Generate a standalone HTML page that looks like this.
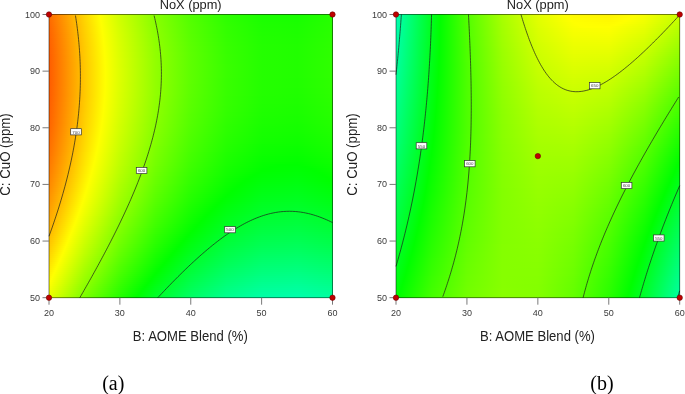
<!DOCTYPE html>
<html><head><meta charset="utf-8"><title>NoX contour plots</title>
<style>
html,body{margin:0;padding:0;background:#fff}
body{width:685px;height:394px;overflow:hidden;position:relative}
svg{position:absolute;left:0;top:0;display:block}
.t{font-family:"Liberation Sans",sans-serif;font-size:9px;fill:#3a3a3a}
.a{font-family:"Liberation Sans",sans-serif;font-size:14px;fill:#222}
.l{font-family:"Liberation Sans",sans-serif;font-size:4.4px;fill:#444}
.s{font-family:"Liberation Serif",serif;font-size:20px;fill:#000}
</style></head><body>
<svg width="685" height="394" viewBox="0 0 685 394">
<defs>
<linearGradient id="a0"><stop offset="0" stop-color="#ff6b00"/><stop offset="0.125" stop-color="#ffd500"/><stop offset="0.1788" stop-color="#ff0"/><stop offset="0.25" stop-color="#ceff00"/><stop offset="0.375" stop-color="#85ff00"/><stop offset="0.5" stop-color="#51ff00"/><stop offset="0.625" stop-color="#2dff00"/><stop offset="0.75" stop-color="#1aff00"/><stop offset="0.875" stop-color="#17ff00"/><stop offset="1" stop-color="#25ff00"/></linearGradient>
<linearGradient id="a1"><stop offset="0" stop-color="#ff6a00"/><stop offset="0.125" stop-color="#ffd400"/><stop offset="0.1801" stop-color="#ff0"/><stop offset="0.25" stop-color="#cfff00"/><stop offset="0.375" stop-color="#86ff00"/><stop offset="0.5" stop-color="#52ff00"/><stop offset="0.625" stop-color="#2eff00"/><stop offset="0.75" stop-color="#1bff00"/><stop offset="0.875" stop-color="#18ff00"/><stop offset="1" stop-color="#26ff00"/></linearGradient>
<linearGradient id="a2"><stop offset="0" stop-color="#ff6900"/><stop offset="0.125" stop-color="#ffd400"/><stop offset="0.1813" stop-color="#ff0"/><stop offset="0.25" stop-color="#d0ff00"/><stop offset="0.375" stop-color="#87ff00"/><stop offset="0.5" stop-color="#53ff00"/><stop offset="0.625" stop-color="#2fff00"/><stop offset="0.75" stop-color="#1bff00"/><stop offset="0.875" stop-color="#19ff00"/><stop offset="1" stop-color="#26ff00"/></linearGradient>
<linearGradient id="a3"><stop offset="0" stop-color="#ff6800"/><stop offset="0.125" stop-color="#ffd300"/><stop offset="0.1825" stop-color="#ff0"/><stop offset="0.25" stop-color="#d0ff00"/><stop offset="0.375" stop-color="#8f0"/><stop offset="0.5" stop-color="#53ff00"/><stop offset="0.625" stop-color="#2fff00"/><stop offset="0.75" stop-color="#1cff00"/><stop offset="0.875" stop-color="#19ff00"/><stop offset="1" stop-color="#27ff00"/></linearGradient>
<linearGradient id="a4"><stop offset="0" stop-color="#ff6700"/><stop offset="0.125" stop-color="#ffd200"/><stop offset="0.1836" stop-color="#ff0"/><stop offset="0.25" stop-color="#d1ff00"/><stop offset="0.375" stop-color="#89ff00"/><stop offset="0.5" stop-color="#54ff00"/><stop offset="0.625" stop-color="#30ff00"/><stop offset="0.75" stop-color="#1dff00"/><stop offset="0.875" stop-color="#1aff00"/><stop offset="1" stop-color="#28ff00"/></linearGradient>
<linearGradient id="a5"><stop offset="0" stop-color="#f60"/><stop offset="0.125" stop-color="#ffd100"/><stop offset="0.1847" stop-color="#ff0"/><stop offset="0.25" stop-color="#d2ff00"/><stop offset="0.375" stop-color="#89ff00"/><stop offset="0.5" stop-color="#5f0"/><stop offset="0.625" stop-color="#31ff00"/><stop offset="0.75" stop-color="#1eff00"/><stop offset="0.875" stop-color="#1bff00"/><stop offset="1" stop-color="#28ff00"/></linearGradient>
<linearGradient id="a6"><stop offset="0" stop-color="#ff6500"/><stop offset="0.125" stop-color="#ffd000"/><stop offset="0.1858" stop-color="#ff0"/><stop offset="0.25" stop-color="#d3ff00"/><stop offset="0.375" stop-color="#8aff00"/><stop offset="0.5" stop-color="#5f0"/><stop offset="0.625" stop-color="#32ff00"/><stop offset="0.75" stop-color="#1eff00"/><stop offset="0.875" stop-color="#1bff00"/><stop offset="1" stop-color="#29ff00"/></linearGradient>
<linearGradient id="a7"><stop offset="0" stop-color="#ff6400"/><stop offset="0.125" stop-color="#ffd000"/><stop offset="0.1868" stop-color="#ff0"/><stop offset="0.25" stop-color="#d4ff00"/><stop offset="0.375" stop-color="#8bff00"/><stop offset="0.5" stop-color="#56ff00"/><stop offset="0.625" stop-color="#32ff00"/><stop offset="0.75" stop-color="#1fff00"/><stop offset="0.875" stop-color="#1cff00"/><stop offset="1" stop-color="#29ff00"/></linearGradient>
<linearGradient id="a8"><stop offset="0" stop-color="#ff6400"/><stop offset="0.125" stop-color="#ffcf00"/><stop offset="0.1877" stop-color="#ff0"/><stop offset="0.25" stop-color="#d4ff00"/><stop offset="0.375" stop-color="#8bff00"/><stop offset="0.5" stop-color="#57ff00"/><stop offset="0.625" stop-color="#3f0"/><stop offset="0.75" stop-color="#1fff00"/><stop offset="0.875" stop-color="#1dff00"/><stop offset="1" stop-color="#2aff00"/></linearGradient>
<linearGradient id="a9"><stop offset="0" stop-color="#ff6300"/><stop offset="0.125" stop-color="#ffce00"/><stop offset="0.1887" stop-color="#ff0"/><stop offset="0.25" stop-color="#d5ff00"/><stop offset="0.375" stop-color="#8cff00"/><stop offset="0.5" stop-color="#57ff00"/><stop offset="0.625" stop-color="#3f0"/><stop offset="0.75" stop-color="#20ff00"/><stop offset="0.875" stop-color="#1dff00"/><stop offset="1" stop-color="#2bff00"/></linearGradient>
<linearGradient id="a10"><stop offset="0" stop-color="#ff6200"/><stop offset="0.125" stop-color="#ffcd00"/><stop offset="0.1896" stop-color="#ff0"/><stop offset="0.25" stop-color="#d6ff00"/><stop offset="0.375" stop-color="#8dff00"/><stop offset="0.5" stop-color="#58ff00"/><stop offset="0.625" stop-color="#34ff00"/><stop offset="0.75" stop-color="#20ff00"/><stop offset="0.875" stop-color="#1eff00"/><stop offset="1" stop-color="#2bff00"/></linearGradient>
<linearGradient id="a11"><stop offset="0" stop-color="#ff6200"/><stop offset="0.125" stop-color="#ffcd00"/><stop offset="0.1904" stop-color="#ff0"/><stop offset="0.25" stop-color="#d6ff00"/><stop offset="0.375" stop-color="#8dff00"/><stop offset="0.5" stop-color="#58ff00"/><stop offset="0.625" stop-color="#34ff00"/><stop offset="0.75" stop-color="#21ff00"/><stop offset="0.875" stop-color="#1eff00"/><stop offset="1" stop-color="#2bff00"/></linearGradient>
<linearGradient id="a12"><stop offset="0" stop-color="#ff6100"/><stop offset="0.125" stop-color="#fc0"/><stop offset="0.1912" stop-color="#ff0"/><stop offset="0.25" stop-color="#d7ff00"/><stop offset="0.375" stop-color="#8eff00"/><stop offset="0.5" stop-color="#59ff00"/><stop offset="0.625" stop-color="#35ff00"/><stop offset="0.75" stop-color="#21ff00"/><stop offset="0.875" stop-color="#1fff00"/><stop offset="1" stop-color="#2cff00"/></linearGradient>
<linearGradient id="a13"><stop offset="0" stop-color="#ff6000"/><stop offset="0.125" stop-color="#fc0"/><stop offset="0.192" stop-color="#ff0"/><stop offset="0.25" stop-color="#d7ff00"/><stop offset="0.375" stop-color="#8eff00"/><stop offset="0.5" stop-color="#59ff00"/><stop offset="0.625" stop-color="#35ff00"/><stop offset="0.75" stop-color="#2f0"/><stop offset="0.875" stop-color="#1fff00"/><stop offset="1" stop-color="#2cff00"/></linearGradient>
<linearGradient id="a14"><stop offset="0" stop-color="#ff6000"/><stop offset="0.125" stop-color="#ffcb00"/><stop offset="0.1927" stop-color="#ff0"/><stop offset="0.25" stop-color="#d8ff00"/><stop offset="0.375" stop-color="#8fff00"/><stop offset="0.5" stop-color="#5aff00"/><stop offset="0.625" stop-color="#36ff00"/><stop offset="0.75" stop-color="#2f0"/><stop offset="0.875" stop-color="#1fff00"/><stop offset="1" stop-color="#2dff00"/></linearGradient>
<linearGradient id="a15"><stop offset="0" stop-color="#ff5f00"/><stop offset="0.125" stop-color="#ffcb00"/><stop offset="0.1934" stop-color="#ff0"/><stop offset="0.25" stop-color="#d8ff00"/><stop offset="0.375" stop-color="#8fff00"/><stop offset="0.5" stop-color="#5aff00"/><stop offset="0.625" stop-color="#36ff00"/><stop offset="0.75" stop-color="#23ff00"/><stop offset="0.875" stop-color="#20ff00"/><stop offset="1" stop-color="#2dff00"/></linearGradient>
<linearGradient id="a16"><stop offset="0" stop-color="#ff5f00"/><stop offset="0.125" stop-color="#ffca00"/><stop offset="0.194" stop-color="#ff0"/><stop offset="0.25" stop-color="#d9ff00"/><stop offset="0.375" stop-color="#90ff00"/><stop offset="0.5" stop-color="#5bff00"/><stop offset="0.625" stop-color="#37ff00"/><stop offset="0.75" stop-color="#23ff00"/><stop offset="0.875" stop-color="#20ff00"/><stop offset="1" stop-color="#2dff00"/></linearGradient>
<linearGradient id="a17"><stop offset="0" stop-color="#ff5e00"/><stop offset="0.125" stop-color="#ffca00"/><stop offset="0.1946" stop-color="#ff0"/><stop offset="0.25" stop-color="#d9ff00"/><stop offset="0.375" stop-color="#90ff00"/><stop offset="0.5" stop-color="#5bff00"/><stop offset="0.625" stop-color="#37ff00"/><stop offset="0.75" stop-color="#23ff00"/><stop offset="0.875" stop-color="#20ff00"/><stop offset="1" stop-color="#2eff00"/></linearGradient>
<linearGradient id="a18"><stop offset="0" stop-color="#ff5e00"/><stop offset="0.125" stop-color="#ffc900"/><stop offset="0.1951" stop-color="#ff0"/><stop offset="0.25" stop-color="#d9ff00"/><stop offset="0.375" stop-color="#90ff00"/><stop offset="0.5" stop-color="#5bff00"/><stop offset="0.625" stop-color="#37ff00"/><stop offset="0.75" stop-color="#24ff00"/><stop offset="0.875" stop-color="#21ff00"/><stop offset="1" stop-color="#2eff00"/></linearGradient>
<linearGradient id="a19"><stop offset="0" stop-color="#ff5e00"/><stop offset="0.125" stop-color="#ffc900"/><stop offset="0.1956" stop-color="#ff0"/><stop offset="0.25" stop-color="#daff00"/><stop offset="0.375" stop-color="#91ff00"/><stop offset="0.5" stop-color="#5cff00"/><stop offset="0.625" stop-color="#37ff00"/><stop offset="0.75" stop-color="#24ff00"/><stop offset="0.875" stop-color="#21ff00"/><stop offset="1" stop-color="#2eff00"/></linearGradient>
<linearGradient id="a20"><stop offset="0" stop-color="#ff5d00"/><stop offset="0.125" stop-color="#ffc900"/><stop offset="0.1961" stop-color="#ff0"/><stop offset="0.25" stop-color="#daff00"/><stop offset="0.375" stop-color="#91ff00"/><stop offset="0.5" stop-color="#5cff00"/><stop offset="0.625" stop-color="#38ff00"/><stop offset="0.75" stop-color="#24ff00"/><stop offset="0.875" stop-color="#21ff00"/><stop offset="1" stop-color="#2eff00"/></linearGradient>
<linearGradient id="a21"><stop offset="0" stop-color="#ff5d00"/><stop offset="0.125" stop-color="#ffc800"/><stop offset="0.1965" stop-color="#ff0"/><stop offset="0.25" stop-color="#daff00"/><stop offset="0.375" stop-color="#91ff00"/><stop offset="0.5" stop-color="#5cff00"/><stop offset="0.625" stop-color="#38ff00"/><stop offset="0.75" stop-color="#24ff00"/><stop offset="0.875" stop-color="#21ff00"/><stop offset="1" stop-color="#2eff00"/></linearGradient>
<linearGradient id="a22"><stop offset="0" stop-color="#ff5d00"/><stop offset="0.125" stop-color="#ffc800"/><stop offset="0.1969" stop-color="#ff0"/><stop offset="0.25" stop-color="#dbff00"/><stop offset="0.375" stop-color="#92ff00"/><stop offset="0.5" stop-color="#5cff00"/><stop offset="0.625" stop-color="#38ff00"/><stop offset="0.75" stop-color="#24ff00"/><stop offset="0.875" stop-color="#21ff00"/><stop offset="1" stop-color="#2fff00"/></linearGradient>
<linearGradient id="a23"><stop offset="0" stop-color="#ff5c00"/><stop offset="0.125" stop-color="#ffc800"/><stop offset="0.1972" stop-color="#ff0"/><stop offset="0.25" stop-color="#dbff00"/><stop offset="0.375" stop-color="#92ff00"/><stop offset="0.5" stop-color="#5dff00"/><stop offset="0.625" stop-color="#38ff00"/><stop offset="0.75" stop-color="#25ff00"/><stop offset="0.875" stop-color="#2f0"/><stop offset="1" stop-color="#2fff00"/></linearGradient>
<linearGradient id="a24"><stop offset="0" stop-color="#ff5c00"/><stop offset="0.125" stop-color="#ffc700"/><stop offset="0.1975" stop-color="#ff0"/><stop offset="0.25" stop-color="#dbff00"/><stop offset="0.375" stop-color="#92ff00"/><stop offset="0.5" stop-color="#5dff00"/><stop offset="0.625" stop-color="#38ff00"/><stop offset="0.75" stop-color="#25ff00"/><stop offset="0.875" stop-color="#2f0"/><stop offset="1" stop-color="#2fff00"/></linearGradient>
<linearGradient id="a25"><stop offset="0" stop-color="#ff5c00"/><stop offset="0.125" stop-color="#ffc700"/><stop offset="0.1978" stop-color="#ff0"/><stop offset="0.25" stop-color="#dbff00"/><stop offset="0.375" stop-color="#92ff00"/><stop offset="0.5" stop-color="#5dff00"/><stop offset="0.625" stop-color="#39ff00"/><stop offset="0.75" stop-color="#25ff00"/><stop offset="0.875" stop-color="#2f0"/><stop offset="1" stop-color="#2fff00"/></linearGradient>
<linearGradient id="a26"><stop offset="0" stop-color="#ff5c00"/><stop offset="0.125" stop-color="#ffc700"/><stop offset="0.198" stop-color="#ff0"/><stop offset="0.25" stop-color="#dbff00"/><stop offset="0.375" stop-color="#92ff00"/><stop offset="0.5" stop-color="#5dff00"/><stop offset="0.625" stop-color="#39ff00"/><stop offset="0.75" stop-color="#25ff00"/><stop offset="0.875" stop-color="#2f0"/><stop offset="1" stop-color="#2fff00"/></linearGradient>
<linearGradient id="a27"><stop offset="0" stop-color="#ff5c00"/><stop offset="0.125" stop-color="#ffc700"/><stop offset="0.1982" stop-color="#ff0"/><stop offset="0.25" stop-color="#dcff00"/><stop offset="0.375" stop-color="#92ff00"/><stop offset="0.5" stop-color="#5dff00"/><stop offset="0.625" stop-color="#39ff00"/><stop offset="0.75" stop-color="#25ff00"/><stop offset="0.875" stop-color="#2f0"/><stop offset="1" stop-color="#2fff00"/></linearGradient>
<linearGradient id="a28"><stop offset="0" stop-color="#ff5b00"/><stop offset="0.125" stop-color="#ffc700"/><stop offset="0.1983" stop-color="#ff0"/><stop offset="0.25" stop-color="#dcff00"/><stop offset="0.375" stop-color="#92ff00"/><stop offset="0.5" stop-color="#5dff00"/><stop offset="0.625" stop-color="#39ff00"/><stop offset="0.75" stop-color="#25ff00"/><stop offset="0.875" stop-color="#2f0"/><stop offset="1" stop-color="#2fff00"/></linearGradient>
<linearGradient id="a29"><stop offset="0" stop-color="#ff5b00"/><stop offset="0.125" stop-color="#ffc700"/><stop offset="0.1984" stop-color="#ff0"/><stop offset="0.25" stop-color="#dcff00"/><stop offset="0.375" stop-color="#92ff00"/><stop offset="0.5" stop-color="#5dff00"/><stop offset="0.625" stop-color="#39ff00"/><stop offset="0.75" stop-color="#25ff00"/><stop offset="0.875" stop-color="#2f0"/><stop offset="1" stop-color="#2fff00"/></linearGradient>
<linearGradient id="a30"><stop offset="0" stop-color="#ff5b00"/><stop offset="0.125" stop-color="#ffc700"/><stop offset="0.1984" stop-color="#ff0"/><stop offset="0.25" stop-color="#dcff00"/><stop offset="0.375" stop-color="#92ff00"/><stop offset="0.5" stop-color="#5dff00"/><stop offset="0.625" stop-color="#39ff00"/><stop offset="0.75" stop-color="#25ff00"/><stop offset="0.875" stop-color="#2f0"/><stop offset="1" stop-color="#2fff00"/></linearGradient>
<linearGradient id="a31"><stop offset="0" stop-color="#ff5b00"/><stop offset="0.125" stop-color="#ffc700"/><stop offset="0.1984" stop-color="#ff0"/><stop offset="0.25" stop-color="#dcff00"/><stop offset="0.375" stop-color="#92ff00"/><stop offset="0.5" stop-color="#5dff00"/><stop offset="0.625" stop-color="#39ff00"/><stop offset="0.75" stop-color="#25ff00"/><stop offset="0.875" stop-color="#2f0"/><stop offset="1" stop-color="#2fff00"/></linearGradient>
<linearGradient id="a32"><stop offset="0" stop-color="#ff5b00"/><stop offset="0.125" stop-color="#ffc700"/><stop offset="0.1983" stop-color="#ff0"/><stop offset="0.25" stop-color="#dcff00"/><stop offset="0.375" stop-color="#92ff00"/><stop offset="0.5" stop-color="#5dff00"/><stop offset="0.625" stop-color="#38ff00"/><stop offset="0.75" stop-color="#25ff00"/><stop offset="0.875" stop-color="#21ff00"/><stop offset="1" stop-color="#2eff00"/></linearGradient>
<linearGradient id="a33"><stop offset="0" stop-color="#ff5b00"/><stop offset="0.125" stop-color="#ffc700"/><stop offset="0.1982" stop-color="#ff0"/><stop offset="0.25" stop-color="#dcff00"/><stop offset="0.375" stop-color="#92ff00"/><stop offset="0.5" stop-color="#5dff00"/><stop offset="0.625" stop-color="#38ff00"/><stop offset="0.75" stop-color="#24ff00"/><stop offset="0.875" stop-color="#21ff00"/><stop offset="1" stop-color="#2eff00"/></linearGradient>
<linearGradient id="a34"><stop offset="0" stop-color="#ff5b00"/><stop offset="0.125" stop-color="#ffc700"/><stop offset="0.1981" stop-color="#ff0"/><stop offset="0.25" stop-color="#dbff00"/><stop offset="0.375" stop-color="#92ff00"/><stop offset="0.5" stop-color="#5dff00"/><stop offset="0.625" stop-color="#38ff00"/><stop offset="0.75" stop-color="#24ff00"/><stop offset="0.875" stop-color="#21ff00"/><stop offset="1" stop-color="#2eff00"/></linearGradient>
<linearGradient id="a35"><stop offset="0" stop-color="#ff5b00"/><stop offset="0.125" stop-color="#ffc700"/><stop offset="0.1979" stop-color="#ff0"/><stop offset="0.25" stop-color="#dbff00"/><stop offset="0.375" stop-color="#92ff00"/><stop offset="0.5" stop-color="#5cff00"/><stop offset="0.625" stop-color="#38ff00"/><stop offset="0.75" stop-color="#24ff00"/><stop offset="0.875" stop-color="#21ff00"/><stop offset="1" stop-color="#2eff00"/></linearGradient>
<linearGradient id="a36"><stop offset="0" stop-color="#ff5c00"/><stop offset="0.125" stop-color="#ffc700"/><stop offset="0.1977" stop-color="#ff0"/><stop offset="0.25" stop-color="#dbff00"/><stop offset="0.375" stop-color="#92ff00"/><stop offset="0.5" stop-color="#5cff00"/><stop offset="0.625" stop-color="#38ff00"/><stop offset="0.75" stop-color="#24ff00"/><stop offset="0.875" stop-color="#21ff00"/><stop offset="1" stop-color="#2eff00"/></linearGradient>
<linearGradient id="a37"><stop offset="0" stop-color="#ff5c00"/><stop offset="0.125" stop-color="#ffc700"/><stop offset="0.1974" stop-color="#ff0"/><stop offset="0.25" stop-color="#dbff00"/><stop offset="0.375" stop-color="#92ff00"/><stop offset="0.5" stop-color="#5cff00"/><stop offset="0.625" stop-color="#38ff00"/><stop offset="0.75" stop-color="#24ff00"/><stop offset="0.875" stop-color="#20ff00"/><stop offset="1" stop-color="#2dff00"/></linearGradient>
<linearGradient id="a38"><stop offset="0" stop-color="#ff5c00"/><stop offset="0.125" stop-color="#ffc800"/><stop offset="0.1971" stop-color="#ff0"/><stop offset="0.25" stop-color="#dbff00"/><stop offset="0.375" stop-color="#91ff00"/><stop offset="0.5" stop-color="#5cff00"/><stop offset="0.625" stop-color="#37ff00"/><stop offset="0.75" stop-color="#23ff00"/><stop offset="0.875" stop-color="#20ff00"/><stop offset="1" stop-color="#2dff00"/></linearGradient>
<linearGradient id="a39"><stop offset="0" stop-color="#ff5c00"/><stop offset="0.125" stop-color="#ffc800"/><stop offset="0.1968" stop-color="#ff0"/><stop offset="0.25" stop-color="#daff00"/><stop offset="0.375" stop-color="#91ff00"/><stop offset="0.5" stop-color="#5cff00"/><stop offset="0.625" stop-color="#37ff00"/><stop offset="0.75" stop-color="#23ff00"/><stop offset="0.875" stop-color="#20ff00"/><stop offset="1" stop-color="#2dff00"/></linearGradient>
<linearGradient id="a40"><stop offset="0" stop-color="#ff5c00"/><stop offset="0.125" stop-color="#ffc800"/><stop offset="0.1964" stop-color="#ff0"/><stop offset="0.25" stop-color="#daff00"/><stop offset="0.375" stop-color="#91ff00"/><stop offset="0.5" stop-color="#5bff00"/><stop offset="0.625" stop-color="#37ff00"/><stop offset="0.75" stop-color="#23ff00"/><stop offset="0.875" stop-color="#1fff00"/><stop offset="1" stop-color="#2cff00"/></linearGradient>
<linearGradient id="a41"><stop offset="0" stop-color="#ff5d00"/><stop offset="0.125" stop-color="#ffc800"/><stop offset="0.196" stop-color="#ff0"/><stop offset="0.25" stop-color="#daff00"/><stop offset="0.375" stop-color="#90ff00"/><stop offset="0.5" stop-color="#5bff00"/><stop offset="0.625" stop-color="#36ff00"/><stop offset="0.75" stop-color="#2f0"/><stop offset="0.875" stop-color="#1fff00"/><stop offset="1" stop-color="#2cff00"/></linearGradient>
<linearGradient id="a42"><stop offset="0" stop-color="#ff5d00"/><stop offset="0.125" stop-color="#ffc900"/><stop offset="0.1955" stop-color="#ff0"/><stop offset="0.25" stop-color="#d9ff00"/><stop offset="0.375" stop-color="#90ff00"/><stop offset="0.5" stop-color="#5aff00"/><stop offset="0.625" stop-color="#36ff00"/><stop offset="0.75" stop-color="#2f0"/><stop offset="0.875" stop-color="#1eff00"/><stop offset="1" stop-color="#2bff00"/></linearGradient>
<linearGradient id="a43"><stop offset="0" stop-color="#ff5d00"/><stop offset="0.125" stop-color="#ffc900"/><stop offset="0.195" stop-color="#ff0"/><stop offset="0.25" stop-color="#d9ff00"/><stop offset="0.375" stop-color="#90ff00"/><stop offset="0.5" stop-color="#5aff00"/><stop offset="0.625" stop-color="#35ff00"/><stop offset="0.75" stop-color="#21ff00"/><stop offset="0.875" stop-color="#1eff00"/><stop offset="1" stop-color="#2bff00"/></linearGradient>
<linearGradient id="a44"><stop offset="0" stop-color="#ff5e00"/><stop offset="0.125" stop-color="#ffca00"/><stop offset="0.1944" stop-color="#ff0"/><stop offset="0.25" stop-color="#d9ff00"/><stop offset="0.375" stop-color="#8fff00"/><stop offset="0.5" stop-color="#5aff00"/><stop offset="0.625" stop-color="#35ff00"/><stop offset="0.75" stop-color="#21ff00"/><stop offset="0.875" stop-color="#1eff00"/><stop offset="1" stop-color="#2aff00"/></linearGradient>
<linearGradient id="a45"><stop offset="0" stop-color="#ff5e00"/><stop offset="0.125" stop-color="#ffca00"/><stop offset="0.1938" stop-color="#ff0"/><stop offset="0.25" stop-color="#d8ff00"/><stop offset="0.375" stop-color="#8fff00"/><stop offset="0.5" stop-color="#59ff00"/><stop offset="0.625" stop-color="#35ff00"/><stop offset="0.75" stop-color="#20ff00"/><stop offset="0.875" stop-color="#1dff00"/><stop offset="1" stop-color="#2aff00"/></linearGradient>
<linearGradient id="a46"><stop offset="0" stop-color="#ff5f00"/><stop offset="0.125" stop-color="#ffca00"/><stop offset="0.1931" stop-color="#ff0"/><stop offset="0.25" stop-color="#d8ff00"/><stop offset="0.375" stop-color="#8eff00"/><stop offset="0.5" stop-color="#59ff00"/><stop offset="0.625" stop-color="#34ff00"/><stop offset="0.75" stop-color="#20ff00"/><stop offset="0.875" stop-color="#1cff00"/><stop offset="1" stop-color="#29ff00"/></linearGradient>
<linearGradient id="a47"><stop offset="0" stop-color="#ff5f00"/><stop offset="0.125" stop-color="#ffcb00"/><stop offset="0.1925" stop-color="#ff0"/><stop offset="0.25" stop-color="#d7ff00"/><stop offset="0.375" stop-color="#8eff00"/><stop offset="0.5" stop-color="#58ff00"/><stop offset="0.625" stop-color="#34ff00"/><stop offset="0.75" stop-color="#1fff00"/><stop offset="0.875" stop-color="#1cff00"/><stop offset="1" stop-color="#29ff00"/></linearGradient>
<linearGradient id="a48"><stop offset="0" stop-color="#ff6000"/><stop offset="0.125" stop-color="#ffcb00"/><stop offset="0.1917" stop-color="#ff0"/><stop offset="0.25" stop-color="#d7ff00"/><stop offset="0.375" stop-color="#8dff00"/><stop offset="0.5" stop-color="#58ff00"/><stop offset="0.625" stop-color="#3f0"/><stop offset="0.75" stop-color="#1fff00"/><stop offset="0.875" stop-color="#1bff00"/><stop offset="1" stop-color="#28ff00"/></linearGradient>
<linearGradient id="a49"><stop offset="0" stop-color="#ff6000"/><stop offset="0.125" stop-color="#fc0"/><stop offset="0.191" stop-color="#ff0"/><stop offset="0.25" stop-color="#d6ff00"/><stop offset="0.375" stop-color="#8dff00"/><stop offset="0.5" stop-color="#57ff00"/><stop offset="0.625" stop-color="#32ff00"/><stop offset="0.75" stop-color="#1eff00"/><stop offset="0.875" stop-color="#1bff00"/><stop offset="1" stop-color="#27ff00"/></linearGradient>
<linearGradient id="a50"><stop offset="0" stop-color="#ff6100"/><stop offset="0.125" stop-color="#ffcd00"/><stop offset="0.1901" stop-color="#ff0"/><stop offset="0.25" stop-color="#d6ff00"/><stop offset="0.375" stop-color="#8cff00"/><stop offset="0.5" stop-color="#56ff00"/><stop offset="0.625" stop-color="#32ff00"/><stop offset="0.75" stop-color="#1eff00"/><stop offset="0.875" stop-color="#1aff00"/><stop offset="1" stop-color="#27ff00"/></linearGradient>
<linearGradient id="a51"><stop offset="0" stop-color="#ff6100"/><stop offset="0.125" stop-color="#ffcd00"/><stop offset="0.1893" stop-color="#ff0"/><stop offset="0.25" stop-color="#d5ff00"/><stop offset="0.375" stop-color="#8bff00"/><stop offset="0.5" stop-color="#56ff00"/><stop offset="0.625" stop-color="#31ff00"/><stop offset="0.75" stop-color="#1dff00"/><stop offset="0.875" stop-color="#19ff00"/><stop offset="1" stop-color="#26ff00"/></linearGradient>
<linearGradient id="a52"><stop offset="0" stop-color="#ff6200"/><stop offset="0.125" stop-color="#ffce00"/><stop offset="0.1884" stop-color="#ff0"/><stop offset="0.25" stop-color="#d4ff00"/><stop offset="0.375" stop-color="#8bff00"/><stop offset="0.5" stop-color="#5f0"/><stop offset="0.625" stop-color="#30ff00"/><stop offset="0.75" stop-color="#1cff00"/><stop offset="0.875" stop-color="#19ff00"/><stop offset="1" stop-color="#25ff00"/></linearGradient>
<linearGradient id="a53"><stop offset="0" stop-color="#ff6300"/><stop offset="0.125" stop-color="#ffcf00"/><stop offset="0.1875" stop-color="#ff0"/><stop offset="0.25" stop-color="#d4ff00"/><stop offset="0.375" stop-color="#8aff00"/><stop offset="0.5" stop-color="#54ff00"/><stop offset="0.625" stop-color="#30ff00"/><stop offset="0.75" stop-color="#1bff00"/><stop offset="0.875" stop-color="#18ff00"/><stop offset="1" stop-color="#24ff00"/></linearGradient>
<linearGradient id="a54"><stop offset="0" stop-color="#ff6300"/><stop offset="0.125" stop-color="#ffcf00"/><stop offset="0.1865" stop-color="#ff0"/><stop offset="0.25" stop-color="#d3ff00"/><stop offset="0.375" stop-color="#89ff00"/><stop offset="0.5" stop-color="#54ff00"/><stop offset="0.625" stop-color="#2fff00"/><stop offset="0.75" stop-color="#1bff00"/><stop offset="0.875" stop-color="#17ff00"/><stop offset="1" stop-color="#24ff00"/></linearGradient>
<linearGradient id="a55"><stop offset="0" stop-color="#ff6400"/><stop offset="0.125" stop-color="#ffd000"/><stop offset="0.1855" stop-color="#ff0"/><stop offset="0.25" stop-color="#d2ff00"/><stop offset="0.375" stop-color="#8f0"/><stop offset="0.5" stop-color="#53ff00"/><stop offset="0.625" stop-color="#2eff00"/><stop offset="0.75" stop-color="#1aff00"/><stop offset="0.875" stop-color="#16ff00"/><stop offset="1" stop-color="#23ff00"/></linearGradient>
<linearGradient id="a56"><stop offset="0" stop-color="#ff6500"/><stop offset="0.125" stop-color="#ffd100"/><stop offset="0.1844" stop-color="#ff0"/><stop offset="0.25" stop-color="#d1ff00"/><stop offset="0.375" stop-color="#8f0"/><stop offset="0.5" stop-color="#52ff00"/><stop offset="0.625" stop-color="#2dff00"/><stop offset="0.75" stop-color="#19ff00"/><stop offset="0.875" stop-color="#15ff00"/><stop offset="1" stop-color="#2f0"/></linearGradient>
<linearGradient id="a57"><stop offset="0" stop-color="#f60"/><stop offset="0.125" stop-color="#ffd200"/><stop offset="0.1833" stop-color="#ff0"/><stop offset="0.25" stop-color="#d1ff00"/><stop offset="0.375" stop-color="#87ff00"/><stop offset="0.5" stop-color="#51ff00"/><stop offset="0.625" stop-color="#2dff00"/><stop offset="0.75" stop-color="#18ff00"/><stop offset="0.875" stop-color="#15ff00"/><stop offset="1" stop-color="#21ff00"/></linearGradient>
<linearGradient id="a58"><stop offset="0" stop-color="#f60"/><stop offset="0.125" stop-color="#ffd200"/><stop offset="0.1822" stop-color="#ff0"/><stop offset="0.25" stop-color="#d0ff00"/><stop offset="0.375" stop-color="#86ff00"/><stop offset="0.5" stop-color="#51ff00"/><stop offset="0.625" stop-color="#2cff00"/><stop offset="0.75" stop-color="#17ff00"/><stop offset="0.875" stop-color="#14ff00"/><stop offset="1" stop-color="#20ff00"/></linearGradient>
<linearGradient id="a59"><stop offset="0" stop-color="#ff6700"/><stop offset="0.125" stop-color="#ffd300"/><stop offset="0.181" stop-color="#ff0"/><stop offset="0.25" stop-color="#cfff00"/><stop offset="0.375" stop-color="#85ff00"/><stop offset="0.5" stop-color="#50ff00"/><stop offset="0.625" stop-color="#2bff00"/><stop offset="0.75" stop-color="#16ff00"/><stop offset="0.875" stop-color="#13ff00"/><stop offset="1" stop-color="#1fff00"/></linearGradient>
<linearGradient id="a60"><stop offset="0" stop-color="#ff6800"/><stop offset="0.125" stop-color="#ffd400"/><stop offset="0.1798" stop-color="#ff0"/><stop offset="0.25" stop-color="#ceff00"/><stop offset="0.375" stop-color="#84ff00"/><stop offset="0.5" stop-color="#4fff00"/><stop offset="0.625" stop-color="#2aff00"/><stop offset="0.75" stop-color="#16ff00"/><stop offset="0.875" stop-color="#12ff00"/><stop offset="1" stop-color="#1eff00"/></linearGradient>
<linearGradient id="a61"><stop offset="0" stop-color="#ff6900"/><stop offset="0.125" stop-color="#ffd500"/><stop offset="0.1786" stop-color="#ff0"/><stop offset="0.25" stop-color="#cdff00"/><stop offset="0.375" stop-color="#83ff00"/><stop offset="0.5" stop-color="#4eff00"/><stop offset="0.625" stop-color="#29ff00"/><stop offset="0.75" stop-color="#15ff00"/><stop offset="0.875" stop-color="#1f0"/><stop offset="1" stop-color="#1dff00"/></linearGradient>
<linearGradient id="a62"><stop offset="0" stop-color="#ff6a00"/><stop offset="0.125" stop-color="#ffd600"/><stop offset="0.1773" stop-color="#ff0"/><stop offset="0.25" stop-color="#cf0"/><stop offset="0.375" stop-color="#82ff00"/><stop offset="0.5" stop-color="#4dff00"/><stop offset="0.625" stop-color="#28ff00"/><stop offset="0.75" stop-color="#14ff00"/><stop offset="0.875" stop-color="#10ff00"/><stop offset="1" stop-color="#1cff00"/></linearGradient>
<linearGradient id="a63"><stop offset="0" stop-color="#ff6b00"/><stop offset="0.125" stop-color="#ffd700"/><stop offset="0.176" stop-color="#ff0"/><stop offset="0.25" stop-color="#cbff00"/><stop offset="0.375" stop-color="#82ff00"/><stop offset="0.5" stop-color="#4cff00"/><stop offset="0.625" stop-color="#27ff00"/><stop offset="0.75" stop-color="#13ff00"/><stop offset="0.875" stop-color="#0fff00"/><stop offset="1" stop-color="#1bff00"/></linearGradient>
<linearGradient id="a64"><stop offset="0" stop-color="#ff6c00"/><stop offset="0.125" stop-color="#ffd800"/><stop offset="0.1746" stop-color="#ff0"/><stop offset="0.25" stop-color="#caff00"/><stop offset="0.375" stop-color="#81ff00"/><stop offset="0.5" stop-color="#4bff00"/><stop offset="0.625" stop-color="#26ff00"/><stop offset="0.75" stop-color="#12ff00"/><stop offset="0.875" stop-color="#0eff00"/><stop offset="1" stop-color="#1aff00"/></linearGradient>
<linearGradient id="a65"><stop offset="0" stop-color="#ff6d00"/><stop offset="0.125" stop-color="#ffd900"/><stop offset="0.1732" stop-color="#ff0"/><stop offset="0.25" stop-color="#c9ff00"/><stop offset="0.375" stop-color="#80ff00"/><stop offset="0.5" stop-color="#4aff00"/><stop offset="0.625" stop-color="#25ff00"/><stop offset="0.75" stop-color="#10ff00"/><stop offset="0.875" stop-color="#0dff00"/><stop offset="1" stop-color="#19ff00"/></linearGradient>
<linearGradient id="a66"><stop offset="0" stop-color="#ff6e00"/><stop offset="0.125" stop-color="#ffda00"/><stop offset="0.1718" stop-color="#ff0"/><stop offset="0.25" stop-color="#c8ff00"/><stop offset="0.375" stop-color="#7eff00"/><stop offset="0.5" stop-color="#49ff00"/><stop offset="0.625" stop-color="#24ff00"/><stop offset="0.75" stop-color="#0fff00"/><stop offset="0.875" stop-color="#0bff00"/><stop offset="1" stop-color="#18ff00"/></linearGradient>
<linearGradient id="a67"><stop offset="0" stop-color="#ff6f00"/><stop offset="0.125" stop-color="#ffdb00"/><stop offset="0.1703" stop-color="#ff0"/><stop offset="0.25" stop-color="#c7ff00"/><stop offset="0.375" stop-color="#7dff00"/><stop offset="0.5" stop-color="#48ff00"/><stop offset="0.625" stop-color="#23ff00"/><stop offset="0.75" stop-color="#0eff00"/><stop offset="0.875" stop-color="#0aff00"/><stop offset="1" stop-color="#17ff00"/></linearGradient>
<linearGradient id="a68"><stop offset="0" stop-color="#ff7000"/><stop offset="0.125" stop-color="#ffdc00"/><stop offset="0.1688" stop-color="#ff0"/><stop offset="0.25" stop-color="#c6ff00"/><stop offset="0.375" stop-color="#7cff00"/><stop offset="0.5" stop-color="#47ff00"/><stop offset="0.625" stop-color="#2f0"/><stop offset="0.75" stop-color="#0dff00"/><stop offset="0.875" stop-color="#09ff00"/><stop offset="1" stop-color="#16ff00"/></linearGradient>
<linearGradient id="a69"><stop offset="0" stop-color="#ff7100"/><stop offset="0.125" stop-color="#ffde00"/><stop offset="0.1672" stop-color="#ff0"/><stop offset="0.25" stop-color="#c4ff00"/><stop offset="0.375" stop-color="#7bff00"/><stop offset="0.5" stop-color="#45ff00"/><stop offset="0.625" stop-color="#20ff00"/><stop offset="0.75" stop-color="#0cff00"/><stop offset="0.875" stop-color="#08ff00"/><stop offset="1" stop-color="#14ff00"/></linearGradient>
<linearGradient id="a70"><stop offset="0" stop-color="#ff7200"/><stop offset="0.125" stop-color="#ffdf00"/><stop offset="0.1656" stop-color="#ff0"/><stop offset="0.25" stop-color="#c3ff00"/><stop offset="0.375" stop-color="#7aff00"/><stop offset="0.5" stop-color="#4f0"/><stop offset="0.625" stop-color="#1fff00"/><stop offset="0.75" stop-color="#0bff00"/><stop offset="0.875" stop-color="#07ff00"/><stop offset="1" stop-color="#13ff00"/></linearGradient>
<linearGradient id="a71"><stop offset="0" stop-color="#ff7400"/><stop offset="0.125" stop-color="#ffe000"/><stop offset="0.164" stop-color="#ff0"/><stop offset="0.25" stop-color="#c2ff00"/><stop offset="0.375" stop-color="#79ff00"/><stop offset="0.5" stop-color="#43ff00"/><stop offset="0.625" stop-color="#1eff00"/><stop offset="0.75" stop-color="#09ff00"/><stop offset="0.875" stop-color="#05ff00"/><stop offset="1" stop-color="#12ff00"/></linearGradient>
<linearGradient id="a72"><stop offset="0" stop-color="#ff7500"/><stop offset="0.125" stop-color="#ffe100"/><stop offset="0.1624" stop-color="#ff0"/><stop offset="0.25" stop-color="#c1ff00"/><stop offset="0.375" stop-color="#78ff00"/><stop offset="0.5" stop-color="#42ff00"/><stop offset="0.625" stop-color="#1dff00"/><stop offset="0.75" stop-color="#08ff00"/><stop offset="0.875" stop-color="#04ff00"/><stop offset="1" stop-color="#10ff00"/></linearGradient>
<linearGradient id="a73"><stop offset="0" stop-color="#ff7600"/><stop offset="0.125" stop-color="#ffe300"/><stop offset="0.1607" stop-color="#ff0"/><stop offset="0.25" stop-color="#bfff00"/><stop offset="0.375" stop-color="#76ff00"/><stop offset="0.5" stop-color="#41ff00"/><stop offset="0.625" stop-color="#1bff00"/><stop offset="0.75" stop-color="#07ff00"/><stop offset="0.875" stop-color="#03ff00"/><stop offset="1" stop-color="#0fff00"/></linearGradient>
<linearGradient id="a74"><stop offset="0" stop-color="#f70"/><stop offset="0.125" stop-color="#ffe400"/><stop offset="0.1589" stop-color="#ff0"/><stop offset="0.25" stop-color="#beff00"/><stop offset="0.375" stop-color="#75ff00"/><stop offset="0.5" stop-color="#3fff00"/><stop offset="0.625" stop-color="#1aff00"/><stop offset="0.75" stop-color="#05ff00"/><stop offset="0.875" stop-color="#01ff00"/><stop offset="1" stop-color="#0eff00"/></linearGradient>
<linearGradient id="a75"><stop offset="0" stop-color="#ff7900"/><stop offset="0.125" stop-color="#ffe500"/><stop offset="0.1572" stop-color="#ff0"/><stop offset="0.25" stop-color="#bdff00"/><stop offset="0.375" stop-color="#74ff00"/><stop offset="0.5" stop-color="#3eff00"/><stop offset="0.625" stop-color="#19ff00"/><stop offset="0.75" stop-color="#04ff00"/><stop offset="0.8125" stop-color="#0f0"/><stop offset="0.8734" stop-color="#0f0"/><stop offset="0.875" stop-color="#0f0"/><stop offset="1" stop-color="#0cff00"/></linearGradient>
<linearGradient id="a76"><stop offset="0" stop-color="#ff7a00"/><stop offset="0.125" stop-color="#ffe700"/><stop offset="0.1554" stop-color="#ff0"/><stop offset="0.25" stop-color="#bf0"/><stop offset="0.375" stop-color="#72ff00"/><stop offset="0.5" stop-color="#3dff00"/><stop offset="0.625" stop-color="#17ff00"/><stop offset="0.75" stop-color="#03ff00"/><stop offset="0.7832" stop-color="#0f0"/><stop offset="0.875" stop-color="#00ff02"/><stop offset="0.903" stop-color="#0f0"/><stop offset="1" stop-color="#0bff00"/></linearGradient>
<linearGradient id="a77"><stop offset="0" stop-color="#ff7b00"/><stop offset="0.125" stop-color="#ffe800"/><stop offset="0.1535" stop-color="#ff0"/><stop offset="0.25" stop-color="#baff00"/><stop offset="0.375" stop-color="#71ff00"/><stop offset="0.5" stop-color="#3bff00"/><stop offset="0.625" stop-color="#16ff00"/><stop offset="0.75" stop-color="#01ff00"/><stop offset="0.7638" stop-color="#0f0"/><stop offset="0.875" stop-color="#00ff03"/><stop offset="0.9226" stop-color="#0f0"/><stop offset="1" stop-color="#09ff00"/></linearGradient>
<linearGradient id="a78"><stop offset="0" stop-color="#ff7d00"/><stop offset="0.125" stop-color="#ffea00"/><stop offset="0.1517" stop-color="#ff0"/><stop offset="0.25" stop-color="#b8ff00"/><stop offset="0.375" stop-color="#70ff00"/><stop offset="0.5" stop-color="#3aff00"/><stop offset="0.625" stop-color="#14ff00"/><stop offset="0.7481" stop-color="#0f0"/><stop offset="0.75" stop-color="#0f0"/><stop offset="0.875" stop-color="#00ff05"/><stop offset="0.9386" stop-color="#0f0"/><stop offset="1" stop-color="#08ff00"/></linearGradient>
<linearGradient id="a79"><stop offset="0" stop-color="#ff7e00"/><stop offset="0.125" stop-color="#ffeb00"/><stop offset="0.1498" stop-color="#ff0"/><stop offset="0.25" stop-color="#b7ff00"/><stop offset="0.375" stop-color="#6eff00"/><stop offset="0.5" stop-color="#38ff00"/><stop offset="0.625" stop-color="#13ff00"/><stop offset="0.7344" stop-color="#0f0"/><stop offset="0.75" stop-color="#00ff02"/><stop offset="0.875" stop-color="#00ff07"/><stop offset="0.9526" stop-color="#0f0"/><stop offset="1" stop-color="#06ff00"/></linearGradient>
<linearGradient id="a80"><stop offset="0" stop-color="#ff8000"/><stop offset="0.125" stop-color="#ffed00"/><stop offset="0.1478" stop-color="#ff0"/><stop offset="0.25" stop-color="#b5ff00"/><stop offset="0.375" stop-color="#6dff00"/><stop offset="0.5" stop-color="#37ff00"/><stop offset="0.625" stop-color="#12ff00"/><stop offset="0.7221" stop-color="#0f0"/><stop offset="0.75" stop-color="#00ff04"/><stop offset="0.875" stop-color="#00ff08"/><stop offset="0.9652" stop-color="#0f0"/><stop offset="1" stop-color="#05ff00"/></linearGradient>
<linearGradient id="a81"><stop offset="0" stop-color="#ff8100"/><stop offset="0.125" stop-color="#fe0"/><stop offset="0.1459" stop-color="#ff0"/><stop offset="0.25" stop-color="#b4ff00"/><stop offset="0.375" stop-color="#6bff00"/><stop offset="0.5" stop-color="#35ff00"/><stop offset="0.625" stop-color="#10ff00"/><stop offset="0.7106" stop-color="#0f0"/><stop offset="0.75" stop-color="#00ff05"/><stop offset="0.875" stop-color="#00ff0a"/><stop offset="0.9769" stop-color="#0f0"/><stop offset="1" stop-color="#03ff00"/></linearGradient>
<linearGradient id="a82"><stop offset="0" stop-color="#ff8300"/><stop offset="0.125" stop-color="#fff000"/><stop offset="0.1439" stop-color="#ff0"/><stop offset="0.25" stop-color="#b2ff00"/><stop offset="0.375" stop-color="#6aff00"/><stop offset="0.5" stop-color="#34ff00"/><stop offset="0.625" stop-color="#0eff00"/><stop offset="0.7" stop-color="#0f0"/><stop offset="0.75" stop-color="#00ff07"/><stop offset="0.875" stop-color="#00ff0c"/><stop offset="0.9878" stop-color="#0f0"/><stop offset="1" stop-color="#02ff00"/></linearGradient>
<linearGradient id="a83"><stop offset="0" stop-color="#ff8400"/><stop offset="0.125" stop-color="#fff100"/><stop offset="0.1418" stop-color="#ff0"/><stop offset="0.25" stop-color="#b1ff00"/><stop offset="0.375" stop-color="#68ff00"/><stop offset="0.5" stop-color="#32ff00"/><stop offset="0.625" stop-color="#0dff00"/><stop offset="0.6899" stop-color="#0f0"/><stop offset="0.75" stop-color="#00ff09"/><stop offset="0.875" stop-color="#00ff0e"/><stop offset="0.9982" stop-color="#0f0"/><stop offset="1" stop-color="#0f0"/></linearGradient>
<linearGradient id="a84"><stop offset="0" stop-color="#ff8600"/><stop offset="0.125" stop-color="#fff300"/><stop offset="0.1398" stop-color="#ff0"/><stop offset="0.25" stop-color="#afff00"/><stop offset="0.375" stop-color="#67ff00"/><stop offset="0.5" stop-color="#31ff00"/><stop offset="0.625" stop-color="#0bff00"/><stop offset="0.6803" stop-color="#0f0"/><stop offset="0.75" stop-color="#00ff0b"/><stop offset="0.875" stop-color="#00ff10"/><stop offset="1" stop-color="#00ff02"/></linearGradient>
<linearGradient id="a85"><stop offset="0" stop-color="#ff8700"/><stop offset="0.125" stop-color="#fff500"/><stop offset="0.1377" stop-color="#ff0"/><stop offset="0.25" stop-color="#adff00"/><stop offset="0.375" stop-color="#65ff00"/><stop offset="0.5" stop-color="#2fff00"/><stop offset="0.625" stop-color="#0aff00"/><stop offset="0.6711" stop-color="#0f0"/><stop offset="0.75" stop-color="#00ff0d"/><stop offset="0.875" stop-color="#00ff12"/><stop offset="1" stop-color="#00ff04"/></linearGradient>
<linearGradient id="a86"><stop offset="0" stop-color="#ff8900"/><stop offset="0.125" stop-color="#fff600"/><stop offset="0.1355" stop-color="#ff0"/><stop offset="0.25" stop-color="#acff00"/><stop offset="0.375" stop-color="#63ff00"/><stop offset="0.5" stop-color="#2dff00"/><stop offset="0.625" stop-color="#08ff00"/><stop offset="0.6622" stop-color="#0f0"/><stop offset="0.75" stop-color="#00ff0f"/><stop offset="0.875" stop-color="#00ff14"/><stop offset="1" stop-color="#00ff06"/></linearGradient>
<linearGradient id="a87"><stop offset="0" stop-color="#ff8b00"/><stop offset="0.125" stop-color="#fff800"/><stop offset="0.1334" stop-color="#ff0"/><stop offset="0.25" stop-color="#af0"/><stop offset="0.375" stop-color="#62ff00"/><stop offset="0.5" stop-color="#2cff00"/><stop offset="0.625" stop-color="#06ff00"/><stop offset="0.6536" stop-color="#0f0"/><stop offset="0.75" stop-color="#0f1"/><stop offset="0.875" stop-color="#00ff16"/><stop offset="1" stop-color="#00ff08"/></linearGradient>
<linearGradient id="a88"><stop offset="0" stop-color="#ff8c00"/><stop offset="0.125" stop-color="#fffa00"/><stop offset="0.1312" stop-color="#ff0"/><stop offset="0.25" stop-color="#a8ff00"/><stop offset="0.375" stop-color="#60ff00"/><stop offset="0.5" stop-color="#2aff00"/><stop offset="0.625" stop-color="#05ff00"/><stop offset="0.6452" stop-color="#0f0"/><stop offset="0.75" stop-color="#00ff13"/><stop offset="0.875" stop-color="#00ff18"/><stop offset="1" stop-color="#00ff0a"/></linearGradient>
<linearGradient id="a89"><stop offset="0" stop-color="#ff8e00"/><stop offset="0.125" stop-color="#fffc00"/><stop offset="0.129" stop-color="#ff0"/><stop offset="0.25" stop-color="#a6ff00"/><stop offset="0.375" stop-color="#5eff00"/><stop offset="0.5" stop-color="#28ff00"/><stop offset="0.625" stop-color="#03ff00"/><stop offset="0.6371" stop-color="#0f0"/><stop offset="0.75" stop-color="#00ff15"/><stop offset="0.875" stop-color="#00ff1a"/><stop offset="1" stop-color="#00ff0c"/></linearGradient>
<linearGradient id="a90"><stop offset="0" stop-color="#ff9000"/><stop offset="0.125" stop-color="#fffe00"/><stop offset="0.1267" stop-color="#ff0"/><stop offset="0.25" stop-color="#a5ff00"/><stop offset="0.375" stop-color="#5cff00"/><stop offset="0.5" stop-color="#26ff00"/><stop offset="0.625" stop-color="#01ff00"/><stop offset="0.6291" stop-color="#0f0"/><stop offset="0.75" stop-color="#00ff17"/><stop offset="0.875" stop-color="#00ff1c"/><stop offset="1" stop-color="#00ff0e"/></linearGradient>
<linearGradient id="a91"><stop offset="0" stop-color="#ff9200"/><stop offset="0.1244" stop-color="#ff0"/><stop offset="0.125" stop-color="#ff0"/><stop offset="0.25" stop-color="#a3ff00"/><stop offset="0.375" stop-color="#5bff00"/><stop offset="0.5" stop-color="#25ff00"/><stop offset="0.6213" stop-color="#0f0"/><stop offset="0.625" stop-color="#00ff01"/><stop offset="0.75" stop-color="#00ff19"/><stop offset="0.875" stop-color="#00ff1e"/><stop offset="1" stop-color="#00ff10"/></linearGradient>
<linearGradient id="a92"><stop offset="0" stop-color="#ff9300"/><stop offset="0.1221" stop-color="#ff0"/><stop offset="0.125" stop-color="#fdff00"/><stop offset="0.25" stop-color="#a1ff00"/><stop offset="0.375" stop-color="#59ff00"/><stop offset="0.5" stop-color="#23ff00"/><stop offset="0.6137" stop-color="#0f0"/><stop offset="0.625" stop-color="#00ff03"/><stop offset="0.75" stop-color="#00ff1b"/><stop offset="0.875" stop-color="#00ff20"/><stop offset="1" stop-color="#00ff12"/></linearGradient>
<linearGradient id="a93"><stop offset="0" stop-color="#ff9500"/><stop offset="0.1198" stop-color="#ff0"/><stop offset="0.125" stop-color="#fbff00"/><stop offset="0.25" stop-color="#9fff00"/><stop offset="0.375" stop-color="#57ff00"/><stop offset="0.5" stop-color="#21ff00"/><stop offset="0.6062" stop-color="#0f0"/><stop offset="0.625" stop-color="#00ff05"/><stop offset="0.75" stop-color="#00ff1d"/><stop offset="0.875" stop-color="#0f2"/><stop offset="1" stop-color="#00ff15"/></linearGradient>
<linearGradient id="a94"><stop offset="0" stop-color="#ff9700"/><stop offset="0.1174" stop-color="#ff0"/><stop offset="0.125" stop-color="#f9ff00"/><stop offset="0.25" stop-color="#9dff00"/><stop offset="0.375" stop-color="#5f0"/><stop offset="0.5" stop-color="#1fff00"/><stop offset="0.5988" stop-color="#0f0"/><stop offset="0.625" stop-color="#00ff07"/><stop offset="0.75" stop-color="#00ff20"/><stop offset="0.875" stop-color="#00ff25"/><stop offset="1" stop-color="#00ff17"/></linearGradient>
<linearGradient id="a95"><stop offset="0" stop-color="#f90"/><stop offset="0.115" stop-color="#ff0"/><stop offset="0.125" stop-color="#f7ff00"/><stop offset="0.25" stop-color="#9bff00"/><stop offset="0.375" stop-color="#53ff00"/><stop offset="0.5" stop-color="#1dff00"/><stop offset="0.5916" stop-color="#0f0"/><stop offset="0.625" stop-color="#00ff0a"/><stop offset="0.75" stop-color="#0f2"/><stop offset="0.875" stop-color="#00ff27"/><stop offset="1" stop-color="#00ff19"/></linearGradient>
<linearGradient id="a96"><stop offset="0" stop-color="#ff9b00"/><stop offset="0.1126" stop-color="#ff0"/><stop offset="0.125" stop-color="#f5ff00"/><stop offset="0.25" stop-color="#9f0"/><stop offset="0.375" stop-color="#51ff00"/><stop offset="0.5" stop-color="#1bff00"/><stop offset="0.5844" stop-color="#0f0"/><stop offset="0.625" stop-color="#00ff0c"/><stop offset="0.75" stop-color="#00ff24"/><stop offset="0.875" stop-color="#00ff29"/><stop offset="1" stop-color="#00ff1c"/></linearGradient>
<linearGradient id="a97"><stop offset="0" stop-color="#ff9d00"/><stop offset="0.1101" stop-color="#ff0"/><stop offset="0.125" stop-color="#f3ff00"/><stop offset="0.25" stop-color="#97ff00"/><stop offset="0.375" stop-color="#4fff00"/><stop offset="0.5" stop-color="#19ff00"/><stop offset="0.5774" stop-color="#0f0"/><stop offset="0.625" stop-color="#00ff0e"/><stop offset="0.75" stop-color="#00ff26"/><stop offset="0.875" stop-color="#00ff2c"/><stop offset="1" stop-color="#00ff1e"/></linearGradient>
<linearGradient id="a98"><stop offset="0" stop-color="#ff9f00"/><stop offset="0.1076" stop-color="#ff0"/><stop offset="0.125" stop-color="#f1ff00"/><stop offset="0.25" stop-color="#95ff00"/><stop offset="0.375" stop-color="#4dff00"/><stop offset="0.5" stop-color="#17ff00"/><stop offset="0.5704" stop-color="#0f0"/><stop offset="0.625" stop-color="#0f1"/><stop offset="0.75" stop-color="#00ff29"/><stop offset="0.875" stop-color="#00ff2e"/><stop offset="1" stop-color="#00ff20"/></linearGradient>
<linearGradient id="a99"><stop offset="0" stop-color="#ffa100"/><stop offset="0.1051" stop-color="#ff0"/><stop offset="0.125" stop-color="#efff00"/><stop offset="0.25" stop-color="#93ff00"/><stop offset="0.375" stop-color="#4bff00"/><stop offset="0.5" stop-color="#15ff00"/><stop offset="0.5635" stop-color="#0f0"/><stop offset="0.625" stop-color="#00ff13"/><stop offset="0.75" stop-color="#00ff2b"/><stop offset="0.875" stop-color="#00ff30"/><stop offset="1" stop-color="#00ff23"/></linearGradient>
<linearGradient id="a100"><stop offset="0" stop-color="#ffa300"/><stop offset="0.1026" stop-color="#ff0"/><stop offset="0.125" stop-color="#edff00"/><stop offset="0.25" stop-color="#91ff00"/><stop offset="0.375" stop-color="#49ff00"/><stop offset="0.5" stop-color="#13ff00"/><stop offset="0.5567" stop-color="#0f0"/><stop offset="0.625" stop-color="#00ff15"/><stop offset="0.75" stop-color="#00ff2e"/><stop offset="0.875" stop-color="#0f3"/><stop offset="1" stop-color="#00ff25"/></linearGradient>
<linearGradient id="a101"><stop offset="0" stop-color="#ffa500"/><stop offset="0.1" stop-color="#ff0"/><stop offset="0.125" stop-color="#eaff00"/><stop offset="0.25" stop-color="#8eff00"/><stop offset="0.375" stop-color="#47ff00"/><stop offset="0.5" stop-color="#1f0"/><stop offset="0.5499" stop-color="#0f0"/><stop offset="0.625" stop-color="#00ff18"/><stop offset="0.75" stop-color="#00ff30"/><stop offset="0.875" stop-color="#00ff35"/><stop offset="1" stop-color="#00ff28"/></linearGradient>
<linearGradient id="a102"><stop offset="0" stop-color="#ffa700"/><stop offset="0.0974" stop-color="#ff0"/><stop offset="0.125" stop-color="#e8ff00"/><stop offset="0.25" stop-color="#8cff00"/><stop offset="0.375" stop-color="#45ff00"/><stop offset="0.5" stop-color="#0fff00"/><stop offset="0.5432" stop-color="#0f0"/><stop offset="0.625" stop-color="#00ff1a"/><stop offset="0.75" stop-color="#00ff32"/><stop offset="0.875" stop-color="#00ff37"/><stop offset="1" stop-color="#00ff2a"/></linearGradient>
<linearGradient id="a103"><stop offset="0" stop-color="#fa0"/><stop offset="0.0948" stop-color="#ff0"/><stop offset="0.125" stop-color="#e6ff00"/><stop offset="0.25" stop-color="#8aff00"/><stop offset="0.375" stop-color="#43ff00"/><stop offset="0.5" stop-color="#0dff00"/><stop offset="0.5366" stop-color="#0f0"/><stop offset="0.625" stop-color="#00ff1d"/><stop offset="0.75" stop-color="#00ff35"/><stop offset="0.875" stop-color="#00ff3a"/><stop offset="1" stop-color="#00ff2d"/></linearGradient>
<linearGradient id="a104"><stop offset="0" stop-color="#ffac00"/><stop offset="0.0921" stop-color="#ff0"/><stop offset="0.125" stop-color="#e4ff00"/><stop offset="0.25" stop-color="#8f0"/><stop offset="0.375" stop-color="#41ff00"/><stop offset="0.5" stop-color="#0bff00"/><stop offset="0.5301" stop-color="#0f0"/><stop offset="0.625" stop-color="#00ff1f"/><stop offset="0.75" stop-color="#00ff37"/><stop offset="0.875" stop-color="#00ff3c"/><stop offset="1" stop-color="#00ff2f"/></linearGradient>
<linearGradient id="a105"><stop offset="0" stop-color="#ffae00"/><stop offset="0.0894" stop-color="#ff0"/><stop offset="0.125" stop-color="#e2ff00"/><stop offset="0.25" stop-color="#86ff00"/><stop offset="0.375" stop-color="#3fff00"/><stop offset="0.5" stop-color="#08ff00"/><stop offset="0.5235" stop-color="#0f0"/><stop offset="0.625" stop-color="#0f2"/><stop offset="0.75" stop-color="#00ff39"/><stop offset="0.875" stop-color="#00ff3e"/><stop offset="1" stop-color="#00ff32"/></linearGradient>
<linearGradient id="a106"><stop offset="0" stop-color="#ffb000"/><stop offset="0.0867" stop-color="#ff0"/><stop offset="0.125" stop-color="#dfff00"/><stop offset="0.25" stop-color="#83ff00"/><stop offset="0.375" stop-color="#3dff00"/><stop offset="0.5" stop-color="#06ff00"/><stop offset="0.5171" stop-color="#0f0"/><stop offset="0.625" stop-color="#00ff24"/><stop offset="0.75" stop-color="#00ff3c"/><stop offset="0.875" stop-color="#00ff41"/><stop offset="1" stop-color="#00ff34"/></linearGradient>
<linearGradient id="a107"><stop offset="0" stop-color="#ffb200"/><stop offset="0.084" stop-color="#ff0"/><stop offset="0.125" stop-color="#df0"/><stop offset="0.25" stop-color="#81ff00"/><stop offset="0.375" stop-color="#3aff00"/><stop offset="0.5" stop-color="#04ff00"/><stop offset="0.5107" stop-color="#0f0"/><stop offset="0.625" stop-color="#00ff27"/><stop offset="0.75" stop-color="#00ff3e"/><stop offset="0.875" stop-color="#00ff43"/><stop offset="1" stop-color="#00ff37"/></linearGradient>
<linearGradient id="a108"><stop offset="0" stop-color="#ffb500"/><stop offset="0.0813" stop-color="#ff0"/><stop offset="0.125" stop-color="#dbff00"/><stop offset="0.25" stop-color="#7fff00"/><stop offset="0.375" stop-color="#38ff00"/><stop offset="0.5" stop-color="#02ff00"/><stop offset="0.5043" stop-color="#0f0"/><stop offset="0.625" stop-color="#00ff2a"/><stop offset="0.75" stop-color="#00ff41"/><stop offset="0.875" stop-color="#00ff46"/><stop offset="1" stop-color="#00ff39"/></linearGradient>
<linearGradient id="a109"><stop offset="0" stop-color="#ffb700"/><stop offset="0.0785" stop-color="#ff0"/><stop offset="0.125" stop-color="#d8ff00"/><stop offset="0.25" stop-color="#7dff00"/><stop offset="0.375" stop-color="#36ff00"/><stop offset="0.498" stop-color="#0f0"/><stop offset="0.5" stop-color="#00ff01"/><stop offset="0.625" stop-color="#00ff2c"/><stop offset="0.75" stop-color="#00ff43"/><stop offset="0.875" stop-color="#00ff49"/><stop offset="1" stop-color="#00ff3c"/></linearGradient>
<linearGradient id="a110"><stop offset="0" stop-color="#ffb900"/><stop offset="0.0757" stop-color="#ff0"/><stop offset="0.125" stop-color="#d6ff00"/><stop offset="0.25" stop-color="#7aff00"/><stop offset="0.375" stop-color="#3f0"/><stop offset="0.4917" stop-color="#0f0"/><stop offset="0.5" stop-color="#00ff04"/><stop offset="0.625" stop-color="#00ff2f"/><stop offset="0.75" stop-color="#00ff46"/><stop offset="0.875" stop-color="#00ff4b"/><stop offset="1" stop-color="#00ff3f"/></linearGradient>
<linearGradient id="a111"><stop offset="0" stop-color="#ffbc00"/><stop offset="0.0729" stop-color="#ff0"/><stop offset="0.125" stop-color="#d3ff00"/><stop offset="0.25" stop-color="#78ff00"/><stop offset="0.375" stop-color="#31ff00"/><stop offset="0.4855" stop-color="#0f0"/><stop offset="0.5" stop-color="#00ff06"/><stop offset="0.625" stop-color="#00ff32"/><stop offset="0.75" stop-color="#00ff49"/><stop offset="0.875" stop-color="#00ff4e"/><stop offset="1" stop-color="#00ff41"/></linearGradient>
<linearGradient id="a112"><stop offset="0" stop-color="#ffbe00"/><stop offset="0.07" stop-color="#ff0"/><stop offset="0.125" stop-color="#d1ff00"/><stop offset="0.25" stop-color="#76ff00"/><stop offset="0.375" stop-color="#2fff00"/><stop offset="0.4793" stop-color="#0f0"/><stop offset="0.5" stop-color="#00ff09"/><stop offset="0.625" stop-color="#00ff34"/><stop offset="0.75" stop-color="#00ff4b"/><stop offset="0.875" stop-color="#00ff50"/><stop offset="1" stop-color="#0f4"/></linearGradient>
<linearGradient id="a113"><stop offset="0" stop-color="#ffc100"/><stop offset="0.0671" stop-color="#ff0"/><stop offset="0.125" stop-color="#ceff00"/><stop offset="0.25" stop-color="#73ff00"/><stop offset="0.375" stop-color="#2cff00"/><stop offset="0.4731" stop-color="#0f0"/><stop offset="0.5" stop-color="#00ff0c"/><stop offset="0.625" stop-color="#00ff37"/><stop offset="0.75" stop-color="#00ff4e"/><stop offset="0.875" stop-color="#00ff53"/><stop offset="1" stop-color="#00ff47"/></linearGradient>
<linearGradient id="a114"><stop offset="0" stop-color="#ffc300"/><stop offset="0.0642" stop-color="#ff0"/><stop offset="0.125" stop-color="#cf0"/><stop offset="0.25" stop-color="#71ff00"/><stop offset="0.375" stop-color="#2aff00"/><stop offset="0.467" stop-color="#0f0"/><stop offset="0.5" stop-color="#00ff0f"/><stop offset="0.625" stop-color="#00ff3a"/><stop offset="0.75" stop-color="#00ff51"/><stop offset="0.875" stop-color="#00ff56"/><stop offset="1" stop-color="#00ff49"/></linearGradient>
<linearGradient id="a115"><stop offset="0" stop-color="#ffc600"/><stop offset="0.0613" stop-color="#ff0"/><stop offset="0.125" stop-color="#c9ff00"/><stop offset="0.25" stop-color="#6eff00"/><stop offset="0.375" stop-color="#27ff00"/><stop offset="0.4608" stop-color="#0f0"/><stop offset="0.5" stop-color="#00ff12"/><stop offset="0.625" stop-color="#00ff3c"/><stop offset="0.75" stop-color="#00ff53"/><stop offset="0.875" stop-color="#00ff59"/><stop offset="1" stop-color="#00ff4c"/></linearGradient>
<linearGradient id="a116"><stop offset="0" stop-color="#ffc900"/><stop offset="0.0584" stop-color="#ff0"/><stop offset="0.125" stop-color="#c7ff00"/><stop offset="0.25" stop-color="#6cff00"/><stop offset="0.375" stop-color="#25ff00"/><stop offset="0.4548" stop-color="#0f0"/><stop offset="0.5" stop-color="#00ff14"/><stop offset="0.625" stop-color="#00ff3f"/><stop offset="0.75" stop-color="#00ff56"/><stop offset="0.875" stop-color="#00ff5b"/><stop offset="1" stop-color="#00ff4f"/></linearGradient>
<linearGradient id="a117"><stop offset="0" stop-color="#ffcb00"/><stop offset="0.0554" stop-color="#ff0"/><stop offset="0.125" stop-color="#c4ff00"/><stop offset="0.25" stop-color="#69ff00"/><stop offset="0.375" stop-color="#2f0"/><stop offset="0.4487" stop-color="#0f0"/><stop offset="0.5" stop-color="#00ff17"/><stop offset="0.625" stop-color="#00ff42"/><stop offset="0.75" stop-color="#00ff59"/><stop offset="0.875" stop-color="#00ff5e"/><stop offset="1" stop-color="#00ff52"/></linearGradient>
<linearGradient id="a118"><stop offset="0" stop-color="#ffce00"/><stop offset="0.0524" stop-color="#ff0"/><stop offset="0.125" stop-color="#c1ff00"/><stop offset="0.25" stop-color="#67ff00"/><stop offset="0.375" stop-color="#20ff00"/><stop offset="0.4427" stop-color="#0f0"/><stop offset="0.5" stop-color="#00ff1a"/><stop offset="0.625" stop-color="#00ff45"/><stop offset="0.75" stop-color="#00ff5c"/><stop offset="0.875" stop-color="#00ff61"/><stop offset="1" stop-color="#0f5"/></linearGradient>
<linearGradient id="a119"><stop offset="0" stop-color="#ffd100"/><stop offset="0.0494" stop-color="#ff0"/><stop offset="0.125" stop-color="#bfff00"/><stop offset="0.25" stop-color="#64ff00"/><stop offset="0.375" stop-color="#1dff00"/><stop offset="0.4367" stop-color="#0f0"/><stop offset="0.5" stop-color="#00ff1d"/><stop offset="0.625" stop-color="#00ff48"/><stop offset="0.75" stop-color="#00ff5f"/><stop offset="0.875" stop-color="#00ff64"/><stop offset="1" stop-color="#00ff58"/></linearGradient>
<linearGradient id="a120"><stop offset="0" stop-color="#ffd400"/><stop offset="0.0464" stop-color="#ff0"/><stop offset="0.125" stop-color="#bcff00"/><stop offset="0.25" stop-color="#62ff00"/><stop offset="0.375" stop-color="#1aff00"/><stop offset="0.4307" stop-color="#0f0"/><stop offset="0.5" stop-color="#00ff20"/><stop offset="0.625" stop-color="#00ff4a"/><stop offset="0.75" stop-color="#00ff62"/><stop offset="0.875" stop-color="#00ff67"/><stop offset="1" stop-color="#00ff5b"/></linearGradient>
<linearGradient id="a121"><stop offset="0" stop-color="#ffd600"/><stop offset="0.0433" stop-color="#ff0"/><stop offset="0.125" stop-color="#b9ff00"/><stop offset="0.25" stop-color="#5fff00"/><stop offset="0.375" stop-color="#18ff00"/><stop offset="0.4248" stop-color="#0f0"/><stop offset="0.5" stop-color="#00ff24"/><stop offset="0.625" stop-color="#00ff4d"/><stop offset="0.75" stop-color="#00ff65"/><stop offset="0.875" stop-color="#00ff6a"/><stop offset="1" stop-color="#00ff5e"/></linearGradient>
<linearGradient id="a122"><stop offset="0" stop-color="#ffd900"/><stop offset="0.0403" stop-color="#ff0"/><stop offset="0.125" stop-color="#b6ff00"/><stop offset="0.25" stop-color="#5cff00"/><stop offset="0.375" stop-color="#15ff00"/><stop offset="0.4188" stop-color="#0f0"/><stop offset="0.5" stop-color="#00ff27"/><stop offset="0.625" stop-color="#00ff50"/><stop offset="0.75" stop-color="#00ff68"/><stop offset="0.875" stop-color="#00ff6d"/><stop offset="1" stop-color="#00ff61"/></linearGradient>
<linearGradient id="a123"><stop offset="0" stop-color="#ffdc00"/><stop offset="0.0372" stop-color="#ff0"/><stop offset="0.125" stop-color="#b4ff00"/><stop offset="0.25" stop-color="#5aff00"/><stop offset="0.375" stop-color="#12ff00"/><stop offset="0.4129" stop-color="#0f0"/><stop offset="0.5" stop-color="#00ff2a"/><stop offset="0.625" stop-color="#00ff53"/><stop offset="0.75" stop-color="#00ff6b"/><stop offset="0.875" stop-color="#00ff70"/><stop offset="1" stop-color="#00ff64"/></linearGradient>
<linearGradient id="a124"><stop offset="0" stop-color="#ffdf00"/><stop offset="0.034" stop-color="#ff0"/><stop offset="0.125" stop-color="#b1ff00"/><stop offset="0.25" stop-color="#57ff00"/><stop offset="0.375" stop-color="#10ff00"/><stop offset="0.407" stop-color="#0f0"/><stop offset="0.5" stop-color="#00ff2d"/><stop offset="0.625" stop-color="#00ff56"/><stop offset="0.75" stop-color="#00ff6e"/><stop offset="0.875" stop-color="#00ff73"/><stop offset="1" stop-color="#00ff67"/></linearGradient>
<linearGradient id="a125"><stop offset="0" stop-color="#ffe200"/><stop offset="0.0309" stop-color="#ff0"/><stop offset="0.125" stop-color="#aeff00"/><stop offset="0.25" stop-color="#54ff00"/><stop offset="0.375" stop-color="#0dff00"/><stop offset="0.4012" stop-color="#0f0"/><stop offset="0.5" stop-color="#00ff30"/><stop offset="0.625" stop-color="#00ff59"/><stop offset="0.75" stop-color="#00ff71"/><stop offset="0.875" stop-color="#00ff76"/><stop offset="1" stop-color="#00ff6a"/></linearGradient>
<linearGradient id="a126"><stop offset="0" stop-color="#ffe500"/><stop offset="0.0278" stop-color="#ff0"/><stop offset="0.125" stop-color="#abff00"/><stop offset="0.25" stop-color="#51ff00"/><stop offset="0.375" stop-color="#0aff00"/><stop offset="0.3953" stop-color="#0f0"/><stop offset="0.5" stop-color="#0f3"/><stop offset="0.625" stop-color="#00ff5c"/><stop offset="0.75" stop-color="#00ff74"/><stop offset="0.875" stop-color="#00ff79"/><stop offset="1" stop-color="#00ff6d"/></linearGradient>
<linearGradient id="a127"><stop offset="0" stop-color="#ffe800"/><stop offset="0.0246" stop-color="#ff0"/><stop offset="0.125" stop-color="#a8ff00"/><stop offset="0.25" stop-color="#4fff00"/><stop offset="0.375" stop-color="#07ff00"/><stop offset="0.3895" stop-color="#0f0"/><stop offset="0.5" stop-color="#00ff36"/><stop offset="0.625" stop-color="#00ff60"/><stop offset="0.75" stop-color="#0f7"/><stop offset="0.875" stop-color="#00ff7c"/><stop offset="1" stop-color="#00ff70"/></linearGradient>
<linearGradient id="a128"><stop offset="0" stop-color="#ffeb00"/><stop offset="0.0214" stop-color="#ff0"/><stop offset="0.125" stop-color="#a5ff00"/><stop offset="0.25" stop-color="#4cff00"/><stop offset="0.375" stop-color="#04ff00"/><stop offset="0.3837" stop-color="#0f0"/><stop offset="0.5" stop-color="#00ff39"/><stop offset="0.625" stop-color="#00ff63"/><stop offset="0.75" stop-color="#00ff7a"/><stop offset="0.875" stop-color="#00ff7f"/><stop offset="1" stop-color="#00ff73"/></linearGradient>
<linearGradient id="a129"><stop offset="0" stop-color="#fe0"/><stop offset="0.0182" stop-color="#ff0"/><stop offset="0.125" stop-color="#a2ff00"/><stop offset="0.25" stop-color="#49ff00"/><stop offset="0.375" stop-color="#01ff00"/><stop offset="0.3779" stop-color="#0f0"/><stop offset="0.5" stop-color="#00ff3c"/><stop offset="0.625" stop-color="#0f6"/><stop offset="0.75" stop-color="#00ff7d"/><stop offset="0.875" stop-color="#00ff83"/><stop offset="1" stop-color="#00ff76"/></linearGradient>
<linearGradient id="a130"><stop offset="0" stop-color="#fff100"/><stop offset="0.0149" stop-color="#ff0"/><stop offset="0.125" stop-color="#9fff00"/><stop offset="0.25" stop-color="#46ff00"/><stop offset="0.3721" stop-color="#0f0"/><stop offset="0.375" stop-color="#00ff02"/><stop offset="0.5" stop-color="#00ff40"/><stop offset="0.625" stop-color="#00ff69"/><stop offset="0.75" stop-color="#00ff80"/><stop offset="0.875" stop-color="#00ff86"/><stop offset="1" stop-color="#00ff7a"/></linearGradient>
<linearGradient id="a131"><stop offset="0" stop-color="#fff400"/><stop offset="0.0117" stop-color="#ff0"/><stop offset="0.125" stop-color="#9cff00"/><stop offset="0.25" stop-color="#43ff00"/><stop offset="0.3663" stop-color="#0f0"/><stop offset="0.375" stop-color="#00ff05"/><stop offset="0.5" stop-color="#00ff43"/><stop offset="0.625" stop-color="#00ff6c"/><stop offset="0.75" stop-color="#00ff84"/><stop offset="0.875" stop-color="#00ff89"/><stop offset="1" stop-color="#00ff7d"/></linearGradient>
<linearGradient id="a132"><stop offset="0" stop-color="#fff700"/><stop offset="0.0084" stop-color="#ff0"/><stop offset="0.125" stop-color="#9f0"/><stop offset="0.25" stop-color="#40ff00"/><stop offset="0.3606" stop-color="#0f0"/><stop offset="0.375" stop-color="#00ff08"/><stop offset="0.5" stop-color="#00ff46"/><stop offset="0.625" stop-color="#00ff70"/><stop offset="0.75" stop-color="#00ff87"/><stop offset="0.875" stop-color="#00ff8c"/><stop offset="1" stop-color="#00ff80"/></linearGradient>
<linearGradient id="a133"><stop offset="0" stop-color="#fffa00"/><stop offset="0.0051" stop-color="#ff0"/><stop offset="0.125" stop-color="#96ff00"/><stop offset="0.25" stop-color="#3dff00"/><stop offset="0.3548" stop-color="#0f0"/><stop offset="0.375" stop-color="#00ff0c"/><stop offset="0.5" stop-color="#00ff49"/><stop offset="0.625" stop-color="#00ff73"/><stop offset="0.75" stop-color="#00ff8a"/><stop offset="0.875" stop-color="#00ff90"/><stop offset="1" stop-color="#00ff84"/></linearGradient>
<linearGradient id="a134"><stop offset="0" stop-color="#fffd00"/><stop offset="0.0018" stop-color="#ff0"/><stop offset="0.125" stop-color="#93ff00"/><stop offset="0.25" stop-color="#3aff00"/><stop offset="0.3491" stop-color="#0f0"/><stop offset="0.375" stop-color="#00ff0f"/><stop offset="0.5" stop-color="#00ff4d"/><stop offset="0.625" stop-color="#00ff76"/><stop offset="0.75" stop-color="#00ff8e"/><stop offset="0.875" stop-color="#00ff93"/><stop offset="1" stop-color="#00ff87"/></linearGradient>
<linearGradient id="a135"><stop offset="0" stop-color="#feff00"/><stop offset="0.125" stop-color="#8fff00"/><stop offset="0.25" stop-color="#37ff00"/><stop offset="0.3434" stop-color="#0f0"/><stop offset="0.375" stop-color="#00ff13"/><stop offset="0.5" stop-color="#00ff50"/><stop offset="0.625" stop-color="#00ff79"/><stop offset="0.75" stop-color="#00ff91"/><stop offset="0.875" stop-color="#00ff97"/><stop offset="1" stop-color="#00ff8a"/></linearGradient>
<linearGradient id="a136"><stop offset="0" stop-color="#faff00"/><stop offset="0.125" stop-color="#8cff00"/><stop offset="0.25" stop-color="#34ff00"/><stop offset="0.3377" stop-color="#0f0"/><stop offset="0.375" stop-color="#00ff17"/><stop offset="0.5" stop-color="#00ff53"/><stop offset="0.625" stop-color="#00ff7d"/><stop offset="0.75" stop-color="#00ff94"/><stop offset="0.875" stop-color="#00ff9a"/><stop offset="1" stop-color="#00ff8e"/></linearGradient>
<linearGradient id="a137"><stop offset="0" stop-color="#f7ff00"/><stop offset="0.125" stop-color="#89ff00"/><stop offset="0.25" stop-color="#31ff00"/><stop offset="0.332" stop-color="#0f0"/><stop offset="0.375" stop-color="#00ff1a"/><stop offset="0.5" stop-color="#00ff57"/><stop offset="0.625" stop-color="#00ff80"/><stop offset="0.75" stop-color="#00ff98"/><stop offset="0.875" stop-color="#00ff9d"/><stop offset="1" stop-color="#00ff91"/></linearGradient>
<linearGradient id="a138"><stop offset="0" stop-color="#f4ff00"/><stop offset="0.125" stop-color="#86ff00"/><stop offset="0.25" stop-color="#2eff00"/><stop offset="0.3263" stop-color="#0f0"/><stop offset="0.375" stop-color="#00ff1e"/><stop offset="0.5" stop-color="#00ff5a"/><stop offset="0.625" stop-color="#00ff84"/><stop offset="0.75" stop-color="#00ff9b"/><stop offset="0.875" stop-color="#00ffa1"/><stop offset="1" stop-color="#00ff95"/></linearGradient>
<linearGradient id="a139"><stop offset="0" stop-color="#f1ff00"/><stop offset="0.125" stop-color="#83ff00"/><stop offset="0.25" stop-color="#2bff00"/><stop offset="0.3207" stop-color="#0f0"/><stop offset="0.375" stop-color="#00ff21"/><stop offset="0.5" stop-color="#00ff5e"/><stop offset="0.625" stop-color="#00ff87"/><stop offset="0.75" stop-color="#00ff9f"/><stop offset="0.875" stop-color="#00ffa4"/><stop offset="1" stop-color="#00ff98"/></linearGradient>
<linearGradient id="a140"><stop offset="0" stop-color="#edff00"/><stop offset="0.125" stop-color="#7fff00"/><stop offset="0.25" stop-color="#27ff00"/><stop offset="0.3151" stop-color="#0f0"/><stop offset="0.375" stop-color="#00ff25"/><stop offset="0.5" stop-color="#00ff61"/><stop offset="0.625" stop-color="#00ff8b"/><stop offset="0.75" stop-color="#00ffa2"/><stop offset="0.875" stop-color="#00ffa8"/><stop offset="1" stop-color="#00ff9c"/></linearGradient>
<linearGradient id="a141"><stop offset="0" stop-color="#eaff00"/><stop offset="0.125" stop-color="#7cff00"/><stop offset="0.25" stop-color="#24ff00"/><stop offset="0.3094" stop-color="#0f0"/><stop offset="0.375" stop-color="#00ff29"/><stop offset="0.5" stop-color="#00ff65"/><stop offset="0.625" stop-color="#00ff8e"/><stop offset="0.75" stop-color="#00ffa6"/><stop offset="0.875" stop-color="#00ffab"/><stop offset="1" stop-color="#00ffa0"/></linearGradient>
<linearGradient id="b0"><stop offset="0" stop-color="#00ffb2"/><stop offset="0.125" stop-color="#00ff20"/><stop offset="0.1561" stop-color="#0f0"/><stop offset="0.25" stop-color="#52ff00"/><stop offset="0.375" stop-color="#a8ff00"/><stop offset="0.5" stop-color="#e4ff00"/><stop offset="0.5941" stop-color="#ff0"/><stop offset="0.625" stop-color="#fff900"/><stop offset="0.75" stop-color="#fff200"/><stop offset="0.8452" stop-color="#ff0"/><stop offset="0.875" stop-color="#f8ff00"/><stop offset="1" stop-color="#caff00"/></linearGradient>
<linearGradient id="b1"><stop offset="0" stop-color="#00ffb1"/><stop offset="0.125" stop-color="#00ff20"/><stop offset="0.156" stop-color="#0f0"/><stop offset="0.25" stop-color="#52ff00"/><stop offset="0.375" stop-color="#a7ff00"/><stop offset="0.5" stop-color="#e2ff00"/><stop offset="0.6017" stop-color="#ff0"/><stop offset="0.625" stop-color="#fffb00"/><stop offset="0.75" stop-color="#fff500"/><stop offset="0.8332" stop-color="#ff0"/><stop offset="0.875" stop-color="#f5ff00"/><stop offset="1" stop-color="#c7ff00"/></linearGradient>
<linearGradient id="b2"><stop offset="0" stop-color="#00ffb0"/><stop offset="0.125" stop-color="#00ff20"/><stop offset="0.1559" stop-color="#0f0"/><stop offset="0.25" stop-color="#51ff00"/><stop offset="0.375" stop-color="#a7ff00"/><stop offset="0.5" stop-color="#e1ff00"/><stop offset="0.6102" stop-color="#ff0"/><stop offset="0.625" stop-color="#fffd00"/><stop offset="0.75" stop-color="#fff700"/><stop offset="0.8203" stop-color="#ff0"/><stop offset="0.875" stop-color="#f3ff00"/><stop offset="1" stop-color="#c4ff00"/></linearGradient>
<linearGradient id="b3"><stop offset="0" stop-color="#00ffb0"/><stop offset="0.125" stop-color="#00ff1f"/><stop offset="0.1558" stop-color="#0f0"/><stop offset="0.25" stop-color="#51ff00"/><stop offset="0.375" stop-color="#a6ff00"/><stop offset="0.5" stop-color="#e0ff00"/><stop offset="0.6197" stop-color="#ff0"/><stop offset="0.625" stop-color="#fffe00"/><stop offset="0.75" stop-color="#fff900"/><stop offset="0.8064" stop-color="#ff0"/><stop offset="0.875" stop-color="#f0ff00"/><stop offset="1" stop-color="#c1ff00"/></linearGradient>
<linearGradient id="b4"><stop offset="0" stop-color="#00ffaf"/><stop offset="0.125" stop-color="#00ff1f"/><stop offset="0.1557" stop-color="#0f0"/><stop offset="0.25" stop-color="#51ff00"/><stop offset="0.375" stop-color="#a5ff00"/><stop offset="0.5" stop-color="#dfff00"/><stop offset="0.625" stop-color="#feff00"/><stop offset="0.6309" stop-color="#ff0"/><stop offset="0.75" stop-color="#fffb00"/><stop offset="0.7909" stop-color="#ff0"/><stop offset="0.875" stop-color="#ef0"/><stop offset="1" stop-color="#beff00"/></linearGradient>
<linearGradient id="b5"><stop offset="0" stop-color="#00ffae"/><stop offset="0.125" stop-color="#00ff1f"/><stop offset="0.1556" stop-color="#0f0"/><stop offset="0.25" stop-color="#51ff00"/><stop offset="0.375" stop-color="#a4ff00"/><stop offset="0.5" stop-color="#deff00"/><stop offset="0.625" stop-color="#fdff00"/><stop offset="0.6447" stop-color="#ff0"/><stop offset="0.75" stop-color="#fffd00"/><stop offset="0.7727" stop-color="#ff0"/><stop offset="0.875" stop-color="#ebff00"/><stop offset="1" stop-color="#bf0"/></linearGradient>
<linearGradient id="b6"><stop offset="0" stop-color="#00ffae"/><stop offset="0.125" stop-color="#00ff1f"/><stop offset="0.1555" stop-color="#0f0"/><stop offset="0.25" stop-color="#50ff00"/><stop offset="0.375" stop-color="#a4ff00"/><stop offset="0.5" stop-color="#df0"/><stop offset="0.625" stop-color="#fbff00"/><stop offset="0.6638" stop-color="#ff0"/><stop offset="0.7492" stop-color="#ff0"/><stop offset="0.75" stop-color="#ff0"/><stop offset="0.875" stop-color="#e9ff00"/><stop offset="1" stop-color="#b8ff00"/></linearGradient>
<linearGradient id="b7"><stop offset="0" stop-color="#00ffad"/><stop offset="0.125" stop-color="#00ff1e"/><stop offset="0.1554" stop-color="#0f0"/><stop offset="0.25" stop-color="#50ff00"/><stop offset="0.375" stop-color="#a3ff00"/><stop offset="0.5" stop-color="#dbff00"/><stop offset="0.625" stop-color="#f9ff00"/><stop offset="0.75" stop-color="#fdff00"/><stop offset="0.875" stop-color="#e6ff00"/><stop offset="1" stop-color="#b5ff00"/></linearGradient>
<linearGradient id="b8"><stop offset="0" stop-color="#00ffac"/><stop offset="0.125" stop-color="#00ff1e"/><stop offset="0.1552" stop-color="#0f0"/><stop offset="0.25" stop-color="#50ff00"/><stop offset="0.375" stop-color="#a2ff00"/><stop offset="0.5" stop-color="#daff00"/><stop offset="0.625" stop-color="#f8ff00"/><stop offset="0.75" stop-color="#fbff00"/><stop offset="0.875" stop-color="#e3ff00"/><stop offset="1" stop-color="#b2ff00"/></linearGradient>
<linearGradient id="b9"><stop offset="0" stop-color="#00ffab"/><stop offset="0.125" stop-color="#00ff1e"/><stop offset="0.1551" stop-color="#0f0"/><stop offset="0.25" stop-color="#50ff00"/><stop offset="0.375" stop-color="#a2ff00"/><stop offset="0.5" stop-color="#d9ff00"/><stop offset="0.625" stop-color="#f6ff00"/><stop offset="0.75" stop-color="#f9ff00"/><stop offset="0.875" stop-color="#e1ff00"/><stop offset="1" stop-color="#afff00"/></linearGradient>
<linearGradient id="b10"><stop offset="0" stop-color="#00ffab"/><stop offset="0.125" stop-color="#00ff1e"/><stop offset="0.1549" stop-color="#0f0"/><stop offset="0.25" stop-color="#50ff00"/><stop offset="0.375" stop-color="#a1ff00"/><stop offset="0.5" stop-color="#d8ff00"/><stop offset="0.625" stop-color="#f5ff00"/><stop offset="0.75" stop-color="#f7ff00"/><stop offset="0.875" stop-color="#deff00"/><stop offset="1" stop-color="#acff00"/></linearGradient>
<linearGradient id="b11"><stop offset="0" stop-color="#0fa"/><stop offset="0.125" stop-color="#00ff1d"/><stop offset="0.1548" stop-color="#0f0"/><stop offset="0.25" stop-color="#4fff00"/><stop offset="0.375" stop-color="#a0ff00"/><stop offset="0.5" stop-color="#d7ff00"/><stop offset="0.625" stop-color="#f3ff00"/><stop offset="0.75" stop-color="#f5ff00"/><stop offset="0.875" stop-color="#dcff00"/><stop offset="1" stop-color="#a9ff00"/></linearGradient>
<linearGradient id="b12"><stop offset="0" stop-color="#00ffa9"/><stop offset="0.125" stop-color="#00ff1d"/><stop offset="0.1546" stop-color="#0f0"/><stop offset="0.25" stop-color="#4fff00"/><stop offset="0.375" stop-color="#a0ff00"/><stop offset="0.5" stop-color="#d6ff00"/><stop offset="0.625" stop-color="#f1ff00"/><stop offset="0.75" stop-color="#f3ff00"/><stop offset="0.875" stop-color="#d9ff00"/><stop offset="1" stop-color="#a6ff00"/></linearGradient>
<linearGradient id="b13"><stop offset="0" stop-color="#00ffa8"/><stop offset="0.125" stop-color="#00ff1d"/><stop offset="0.1544" stop-color="#0f0"/><stop offset="0.25" stop-color="#4fff00"/><stop offset="0.375" stop-color="#9fff00"/><stop offset="0.5" stop-color="#d5ff00"/><stop offset="0.625" stop-color="#f0ff00"/><stop offset="0.75" stop-color="#f1ff00"/><stop offset="0.875" stop-color="#d7ff00"/><stop offset="1" stop-color="#a4ff00"/></linearGradient>
<linearGradient id="b14"><stop offset="0" stop-color="#00ffa7"/><stop offset="0.125" stop-color="#00ff1c"/><stop offset="0.1542" stop-color="#0f0"/><stop offset="0.25" stop-color="#4fff00"/><stop offset="0.375" stop-color="#9eff00"/><stop offset="0.5" stop-color="#d3ff00"/><stop offset="0.625" stop-color="#ef0"/><stop offset="0.75" stop-color="#efff00"/><stop offset="0.875" stop-color="#d4ff00"/><stop offset="1" stop-color="#a1ff00"/></linearGradient>
<linearGradient id="b15"><stop offset="0" stop-color="#00ffa7"/><stop offset="0.125" stop-color="#00ff1c"/><stop offset="0.154" stop-color="#0f0"/><stop offset="0.25" stop-color="#4fff00"/><stop offset="0.375" stop-color="#9eff00"/><stop offset="0.5" stop-color="#d2ff00"/><stop offset="0.625" stop-color="#edff00"/><stop offset="0.75" stop-color="#edff00"/><stop offset="0.875" stop-color="#d2ff00"/><stop offset="1" stop-color="#9eff00"/></linearGradient>
<linearGradient id="b16"><stop offset="0" stop-color="#00ffa6"/><stop offset="0.125" stop-color="#00ff1c"/><stop offset="0.1538" stop-color="#0f0"/><stop offset="0.25" stop-color="#4eff00"/><stop offset="0.375" stop-color="#9dff00"/><stop offset="0.5" stop-color="#d1ff00"/><stop offset="0.625" stop-color="#ebff00"/><stop offset="0.75" stop-color="#ebff00"/><stop offset="0.875" stop-color="#d0ff00"/><stop offset="1" stop-color="#9bff00"/></linearGradient>
<linearGradient id="b17"><stop offset="0" stop-color="#00ffa5"/><stop offset="0.125" stop-color="#00ff1c"/><stop offset="0.1536" stop-color="#0f0"/><stop offset="0.25" stop-color="#4eff00"/><stop offset="0.375" stop-color="#9cff00"/><stop offset="0.5" stop-color="#d0ff00"/><stop offset="0.625" stop-color="#eaff00"/><stop offset="0.75" stop-color="#e9ff00"/><stop offset="0.875" stop-color="#cdff00"/><stop offset="1" stop-color="#98ff00"/></linearGradient>
<linearGradient id="b18"><stop offset="0" stop-color="#00ffa4"/><stop offset="0.125" stop-color="#00ff1b"/><stop offset="0.1533" stop-color="#0f0"/><stop offset="0.25" stop-color="#4eff00"/><stop offset="0.375" stop-color="#9cff00"/><stop offset="0.5" stop-color="#cfff00"/><stop offset="0.625" stop-color="#e8ff00"/><stop offset="0.75" stop-color="#e7ff00"/><stop offset="0.875" stop-color="#cbff00"/><stop offset="1" stop-color="#95ff00"/></linearGradient>
<linearGradient id="b19"><stop offset="0" stop-color="#00ffa3"/><stop offset="0.125" stop-color="#00ff1b"/><stop offset="0.1531" stop-color="#0f0"/><stop offset="0.25" stop-color="#4eff00"/><stop offset="0.375" stop-color="#9bff00"/><stop offset="0.5" stop-color="#ceff00"/><stop offset="0.625" stop-color="#e7ff00"/><stop offset="0.75" stop-color="#e5ff00"/><stop offset="0.875" stop-color="#c8ff00"/><stop offset="1" stop-color="#92ff00"/></linearGradient>
<linearGradient id="b20"><stop offset="0" stop-color="#00ffa3"/><stop offset="0.125" stop-color="#00ff1b"/><stop offset="0.1529" stop-color="#0f0"/><stop offset="0.25" stop-color="#4eff00"/><stop offset="0.375" stop-color="#9bff00"/><stop offset="0.5" stop-color="#cdff00"/><stop offset="0.625" stop-color="#e5ff00"/><stop offset="0.75" stop-color="#e3ff00"/><stop offset="0.875" stop-color="#c6ff00"/><stop offset="1" stop-color="#8fff00"/></linearGradient>
<linearGradient id="b21"><stop offset="0" stop-color="#00ffa2"/><stop offset="0.125" stop-color="#00ff1a"/><stop offset="0.1526" stop-color="#0f0"/><stop offset="0.25" stop-color="#4eff00"/><stop offset="0.375" stop-color="#9aff00"/><stop offset="0.5" stop-color="#cf0"/><stop offset="0.625" stop-color="#e4ff00"/><stop offset="0.75" stop-color="#e1ff00"/><stop offset="0.875" stop-color="#c3ff00"/><stop offset="1" stop-color="#8cff00"/></linearGradient>
<linearGradient id="b22"><stop offset="0" stop-color="#00ffa1"/><stop offset="0.125" stop-color="#00ff1a"/><stop offset="0.1523" stop-color="#0f0"/><stop offset="0.25" stop-color="#4eff00"/><stop offset="0.375" stop-color="#9aff00"/><stop offset="0.5" stop-color="#cbff00"/><stop offset="0.625" stop-color="#e2ff00"/><stop offset="0.75" stop-color="#dfff00"/><stop offset="0.875" stop-color="#c1ff00"/><stop offset="1" stop-color="#89ff00"/></linearGradient>
<linearGradient id="b23"><stop offset="0" stop-color="#00ffa0"/><stop offset="0.125" stop-color="#00ff19"/><stop offset="0.152" stop-color="#0f0"/><stop offset="0.25" stop-color="#4eff00"/><stop offset="0.375" stop-color="#9f0"/><stop offset="0.5" stop-color="#caff00"/><stop offset="0.625" stop-color="#e1ff00"/><stop offset="0.75" stop-color="#df0"/><stop offset="0.875" stop-color="#beff00"/><stop offset="1" stop-color="#86ff00"/></linearGradient>
<linearGradient id="b24"><stop offset="0" stop-color="#00ff9f"/><stop offset="0.125" stop-color="#00ff19"/><stop offset="0.1517" stop-color="#0f0"/><stop offset="0.25" stop-color="#4dff00"/><stop offset="0.375" stop-color="#98ff00"/><stop offset="0.5" stop-color="#c9ff00"/><stop offset="0.625" stop-color="#dfff00"/><stop offset="0.75" stop-color="#dbff00"/><stop offset="0.875" stop-color="#bcff00"/><stop offset="1" stop-color="#84ff00"/></linearGradient>
<linearGradient id="b25"><stop offset="0" stop-color="#00ff9e"/><stop offset="0.125" stop-color="#00ff19"/><stop offset="0.1514" stop-color="#0f0"/><stop offset="0.25" stop-color="#4dff00"/><stop offset="0.375" stop-color="#98ff00"/><stop offset="0.5" stop-color="#c8ff00"/><stop offset="0.625" stop-color="#deff00"/><stop offset="0.75" stop-color="#d9ff00"/><stop offset="0.875" stop-color="#baff00"/><stop offset="1" stop-color="#81ff00"/></linearGradient>
<linearGradient id="b26"><stop offset="0" stop-color="#00ff9d"/><stop offset="0.125" stop-color="#00ff18"/><stop offset="0.1511" stop-color="#0f0"/><stop offset="0.25" stop-color="#4dff00"/><stop offset="0.375" stop-color="#97ff00"/><stop offset="0.5" stop-color="#c7ff00"/><stop offset="0.625" stop-color="#dcff00"/><stop offset="0.75" stop-color="#d7ff00"/><stop offset="0.875" stop-color="#b7ff00"/><stop offset="1" stop-color="#7eff00"/></linearGradient>
<linearGradient id="b27"><stop offset="0" stop-color="#00ff9d"/><stop offset="0.125" stop-color="#00ff18"/><stop offset="0.1508" stop-color="#0f0"/><stop offset="0.25" stop-color="#4dff00"/><stop offset="0.375" stop-color="#97ff00"/><stop offset="0.5" stop-color="#c6ff00"/><stop offset="0.625" stop-color="#dbff00"/><stop offset="0.75" stop-color="#d5ff00"/><stop offset="0.875" stop-color="#b5ff00"/><stop offset="1" stop-color="#7bff00"/></linearGradient>
<linearGradient id="b28"><stop offset="0" stop-color="#00ff9c"/><stop offset="0.125" stop-color="#00ff18"/><stop offset="0.1505" stop-color="#0f0"/><stop offset="0.25" stop-color="#4dff00"/><stop offset="0.375" stop-color="#96ff00"/><stop offset="0.5" stop-color="#c5ff00"/><stop offset="0.625" stop-color="#d9ff00"/><stop offset="0.75" stop-color="#d3ff00"/><stop offset="0.875" stop-color="#b2ff00"/><stop offset="1" stop-color="#78ff00"/></linearGradient>
<linearGradient id="b29"><stop offset="0" stop-color="#00ff9b"/><stop offset="0.125" stop-color="#00ff17"/><stop offset="0.1501" stop-color="#0f0"/><stop offset="0.25" stop-color="#4dff00"/><stop offset="0.375" stop-color="#96ff00"/><stop offset="0.5" stop-color="#c4ff00"/><stop offset="0.625" stop-color="#d8ff00"/><stop offset="0.75" stop-color="#d1ff00"/><stop offset="0.875" stop-color="#b0ff00"/><stop offset="1" stop-color="#75ff00"/></linearGradient>
<linearGradient id="b30"><stop offset="0" stop-color="#00ff9a"/><stop offset="0.125" stop-color="#00ff17"/><stop offset="0.1497" stop-color="#0f0"/><stop offset="0.25" stop-color="#4dff00"/><stop offset="0.375" stop-color="#95ff00"/><stop offset="0.5" stop-color="#c3ff00"/><stop offset="0.625" stop-color="#d6ff00"/><stop offset="0.75" stop-color="#cfff00"/><stop offset="0.875" stop-color="#aeff00"/><stop offset="1" stop-color="#73ff00"/></linearGradient>
<linearGradient id="b31"><stop offset="0" stop-color="#0f9"/><stop offset="0.125" stop-color="#00ff16"/><stop offset="0.1494" stop-color="#0f0"/><stop offset="0.25" stop-color="#4dff00"/><stop offset="0.375" stop-color="#95ff00"/><stop offset="0.5" stop-color="#c2ff00"/><stop offset="0.625" stop-color="#d5ff00"/><stop offset="0.75" stop-color="#cdff00"/><stop offset="0.875" stop-color="#abff00"/><stop offset="1" stop-color="#70ff00"/></linearGradient>
<linearGradient id="b32"><stop offset="0" stop-color="#00ff98"/><stop offset="0.125" stop-color="#00ff16"/><stop offset="0.149" stop-color="#0f0"/><stop offset="0.25" stop-color="#4dff00"/><stop offset="0.375" stop-color="#94ff00"/><stop offset="0.5" stop-color="#c1ff00"/><stop offset="0.625" stop-color="#d3ff00"/><stop offset="0.75" stop-color="#cbff00"/><stop offset="0.875" stop-color="#a9ff00"/><stop offset="1" stop-color="#6dff00"/></linearGradient>
<linearGradient id="b33"><stop offset="0" stop-color="#00ff97"/><stop offset="0.125" stop-color="#00ff15"/><stop offset="0.1486" stop-color="#0f0"/><stop offset="0.25" stop-color="#4dff00"/><stop offset="0.375" stop-color="#94ff00"/><stop offset="0.5" stop-color="#c0ff00"/><stop offset="0.625" stop-color="#d2ff00"/><stop offset="0.75" stop-color="#caff00"/><stop offset="0.875" stop-color="#a7ff00"/><stop offset="1" stop-color="#6aff00"/></linearGradient>
<linearGradient id="b34"><stop offset="0" stop-color="#00ff96"/><stop offset="0.125" stop-color="#00ff15"/><stop offset="0.1482" stop-color="#0f0"/><stop offset="0.25" stop-color="#4dff00"/><stop offset="0.375" stop-color="#93ff00"/><stop offset="0.5" stop-color="#bfff00"/><stop offset="0.625" stop-color="#d1ff00"/><stop offset="0.75" stop-color="#c8ff00"/><stop offset="0.875" stop-color="#a4ff00"/><stop offset="1" stop-color="#67ff00"/></linearGradient>
<linearGradient id="b35"><stop offset="0" stop-color="#00ff95"/><stop offset="0.125" stop-color="#00ff14"/><stop offset="0.1478" stop-color="#0f0"/><stop offset="0.25" stop-color="#4dff00"/><stop offset="0.375" stop-color="#93ff00"/><stop offset="0.5" stop-color="#beff00"/><stop offset="0.625" stop-color="#cfff00"/><stop offset="0.75" stop-color="#c6ff00"/><stop offset="0.875" stop-color="#a2ff00"/><stop offset="1" stop-color="#65ff00"/></linearGradient>
<linearGradient id="b36"><stop offset="0" stop-color="#00ff94"/><stop offset="0.125" stop-color="#00ff14"/><stop offset="0.1473" stop-color="#0f0"/><stop offset="0.25" stop-color="#4dff00"/><stop offset="0.375" stop-color="#92ff00"/><stop offset="0.5" stop-color="#bdff00"/><stop offset="0.625" stop-color="#ceff00"/><stop offset="0.75" stop-color="#c4ff00"/><stop offset="0.875" stop-color="#a0ff00"/><stop offset="1" stop-color="#62ff00"/></linearGradient>
<linearGradient id="b37"><stop offset="0" stop-color="#00ff93"/><stop offset="0.125" stop-color="#00ff14"/><stop offset="0.1469" stop-color="#0f0"/><stop offset="0.25" stop-color="#4dff00"/><stop offset="0.375" stop-color="#92ff00"/><stop offset="0.5" stop-color="#bcff00"/><stop offset="0.625" stop-color="#cf0"/><stop offset="0.75" stop-color="#c2ff00"/><stop offset="0.875" stop-color="#9dff00"/><stop offset="1" stop-color="#5fff00"/></linearGradient>
<linearGradient id="b38"><stop offset="0" stop-color="#00ff92"/><stop offset="0.125" stop-color="#00ff13"/><stop offset="0.1464" stop-color="#0f0"/><stop offset="0.25" stop-color="#4dff00"/><stop offset="0.375" stop-color="#91ff00"/><stop offset="0.5" stop-color="#bf0"/><stop offset="0.625" stop-color="#cbff00"/><stop offset="0.75" stop-color="#c0ff00"/><stop offset="0.875" stop-color="#9bff00"/><stop offset="1" stop-color="#5cff00"/></linearGradient>
<linearGradient id="b39"><stop offset="0" stop-color="#00ff91"/><stop offset="0.125" stop-color="#00ff13"/><stop offset="0.146" stop-color="#0f0"/><stop offset="0.25" stop-color="#4dff00"/><stop offset="0.375" stop-color="#91ff00"/><stop offset="0.5" stop-color="#baff00"/><stop offset="0.625" stop-color="#caff00"/><stop offset="0.75" stop-color="#beff00"/><stop offset="0.875" stop-color="#9f0"/><stop offset="1" stop-color="#59ff00"/></linearGradient>
<linearGradient id="b40"><stop offset="0" stop-color="#00ff90"/><stop offset="0.125" stop-color="#00ff12"/><stop offset="0.1455" stop-color="#0f0"/><stop offset="0.25" stop-color="#4dff00"/><stop offset="0.375" stop-color="#90ff00"/><stop offset="0.5" stop-color="#b9ff00"/><stop offset="0.625" stop-color="#c8ff00"/><stop offset="0.75" stop-color="#bdff00"/><stop offset="0.875" stop-color="#96ff00"/><stop offset="1" stop-color="#57ff00"/></linearGradient>
<linearGradient id="b41"><stop offset="0" stop-color="#00ff8f"/><stop offset="0.125" stop-color="#00ff12"/><stop offset="0.145" stop-color="#0f0"/><stop offset="0.25" stop-color="#4dff00"/><stop offset="0.375" stop-color="#90ff00"/><stop offset="0.5" stop-color="#b9ff00"/><stop offset="0.625" stop-color="#c7ff00"/><stop offset="0.75" stop-color="#bf0"/><stop offset="0.875" stop-color="#94ff00"/><stop offset="1" stop-color="#54ff00"/></linearGradient>
<linearGradient id="b42"><stop offset="0" stop-color="#00ff8e"/><stop offset="0.125" stop-color="#0f1"/><stop offset="0.1445" stop-color="#0f0"/><stop offset="0.25" stop-color="#4dff00"/><stop offset="0.375" stop-color="#8fff00"/><stop offset="0.5" stop-color="#b8ff00"/><stop offset="0.625" stop-color="#c5ff00"/><stop offset="0.75" stop-color="#b9ff00"/><stop offset="0.875" stop-color="#92ff00"/><stop offset="1" stop-color="#51ff00"/></linearGradient>
<linearGradient id="b43"><stop offset="0" stop-color="#00ff8d"/><stop offset="0.125" stop-color="#0f1"/><stop offset="0.144" stop-color="#0f0"/><stop offset="0.25" stop-color="#4dff00"/><stop offset="0.375" stop-color="#8fff00"/><stop offset="0.5" stop-color="#b7ff00"/><stop offset="0.625" stop-color="#c4ff00"/><stop offset="0.75" stop-color="#b7ff00"/><stop offset="0.875" stop-color="#90ff00"/><stop offset="1" stop-color="#4eff00"/></linearGradient>
<linearGradient id="b44"><stop offset="0" stop-color="#00ff8c"/><stop offset="0.125" stop-color="#00ff10"/><stop offset="0.1434" stop-color="#0f0"/><stop offset="0.25" stop-color="#4dff00"/><stop offset="0.375" stop-color="#8fff00"/><stop offset="0.5" stop-color="#b6ff00"/><stop offset="0.625" stop-color="#c3ff00"/><stop offset="0.75" stop-color="#b5ff00"/><stop offset="0.875" stop-color="#8dff00"/><stop offset="1" stop-color="#4cff00"/></linearGradient>
<linearGradient id="b45"><stop offset="0" stop-color="#00ff8b"/><stop offset="0.125" stop-color="#00ff0f"/><stop offset="0.1429" stop-color="#0f0"/><stop offset="0.25" stop-color="#4dff00"/><stop offset="0.375" stop-color="#8eff00"/><stop offset="0.5" stop-color="#b5ff00"/><stop offset="0.625" stop-color="#c1ff00"/><stop offset="0.75" stop-color="#b4ff00"/><stop offset="0.875" stop-color="#8bff00"/><stop offset="1" stop-color="#49ff00"/></linearGradient>
<linearGradient id="b46"><stop offset="0" stop-color="#00ff8a"/><stop offset="0.125" stop-color="#00ff0f"/><stop offset="0.1423" stop-color="#0f0"/><stop offset="0.25" stop-color="#4dff00"/><stop offset="0.375" stop-color="#8eff00"/><stop offset="0.5" stop-color="#b4ff00"/><stop offset="0.625" stop-color="#c0ff00"/><stop offset="0.75" stop-color="#b2ff00"/><stop offset="0.875" stop-color="#89ff00"/><stop offset="1" stop-color="#46ff00"/></linearGradient>
<linearGradient id="b47"><stop offset="0" stop-color="#00ff89"/><stop offset="0.125" stop-color="#00ff0e"/><stop offset="0.1418" stop-color="#0f0"/><stop offset="0.25" stop-color="#4dff00"/><stop offset="0.375" stop-color="#8dff00"/><stop offset="0.5" stop-color="#b3ff00"/><stop offset="0.625" stop-color="#bfff00"/><stop offset="0.75" stop-color="#b0ff00"/><stop offset="0.875" stop-color="#87ff00"/><stop offset="1" stop-color="#4f0"/></linearGradient>
<linearGradient id="b48"><stop offset="0" stop-color="#0f8"/><stop offset="0.125" stop-color="#00ff0e"/><stop offset="0.1412" stop-color="#0f0"/><stop offset="0.25" stop-color="#4dff00"/><stop offset="0.375" stop-color="#8dff00"/><stop offset="0.5" stop-color="#b2ff00"/><stop offset="0.625" stop-color="#beff00"/><stop offset="0.75" stop-color="#aeff00"/><stop offset="0.875" stop-color="#84ff00"/><stop offset="1" stop-color="#41ff00"/></linearGradient>
<linearGradient id="b49"><stop offset="0" stop-color="#00ff87"/><stop offset="0.125" stop-color="#00ff0d"/><stop offset="0.1406" stop-color="#0f0"/><stop offset="0.25" stop-color="#4dff00"/><stop offset="0.375" stop-color="#8dff00"/><stop offset="0.5" stop-color="#b2ff00"/><stop offset="0.625" stop-color="#bcff00"/><stop offset="0.75" stop-color="#acff00"/><stop offset="0.875" stop-color="#82ff00"/><stop offset="1" stop-color="#3eff00"/></linearGradient>
<linearGradient id="b50"><stop offset="0" stop-color="#00ff86"/><stop offset="0.125" stop-color="#00ff0d"/><stop offset="0.1399" stop-color="#0f0"/><stop offset="0.25" stop-color="#4dff00"/><stop offset="0.375" stop-color="#8cff00"/><stop offset="0.5" stop-color="#b1ff00"/><stop offset="0.625" stop-color="#bf0"/><stop offset="0.75" stop-color="#abff00"/><stop offset="0.875" stop-color="#80ff00"/><stop offset="1" stop-color="#3cff00"/></linearGradient>
<linearGradient id="b51"><stop offset="0" stop-color="#00ff85"/><stop offset="0.125" stop-color="#00ff0c"/><stop offset="0.1393" stop-color="#0f0"/><stop offset="0.25" stop-color="#4dff00"/><stop offset="0.375" stop-color="#8cff00"/><stop offset="0.5" stop-color="#b0ff00"/><stop offset="0.625" stop-color="#baff00"/><stop offset="0.75" stop-color="#a9ff00"/><stop offset="0.875" stop-color="#7eff00"/><stop offset="1" stop-color="#39ff00"/></linearGradient>
<linearGradient id="b52"><stop offset="0" stop-color="#00ff84"/><stop offset="0.125" stop-color="#00ff0b"/><stop offset="0.1387" stop-color="#0f0"/><stop offset="0.25" stop-color="#4dff00"/><stop offset="0.375" stop-color="#8cff00"/><stop offset="0.5" stop-color="#afff00"/><stop offset="0.625" stop-color="#b8ff00"/><stop offset="0.75" stop-color="#a7ff00"/><stop offset="0.875" stop-color="#7cff00"/><stop offset="1" stop-color="#36ff00"/></linearGradient>
<linearGradient id="b53"><stop offset="0" stop-color="#00ff83"/><stop offset="0.125" stop-color="#00ff0b"/><stop offset="0.138" stop-color="#0f0"/><stop offset="0.25" stop-color="#4eff00"/><stop offset="0.375" stop-color="#8bff00"/><stop offset="0.5" stop-color="#aeff00"/><stop offset="0.625" stop-color="#b7ff00"/><stop offset="0.75" stop-color="#a5ff00"/><stop offset="0.875" stop-color="#79ff00"/><stop offset="1" stop-color="#34ff00"/></linearGradient>
<linearGradient id="b54"><stop offset="0" stop-color="#00ff82"/><stop offset="0.125" stop-color="#00ff0a"/><stop offset="0.1373" stop-color="#0f0"/><stop offset="0.25" stop-color="#4eff00"/><stop offset="0.375" stop-color="#8bff00"/><stop offset="0.5" stop-color="#aeff00"/><stop offset="0.625" stop-color="#b6ff00"/><stop offset="0.75" stop-color="#a4ff00"/><stop offset="0.875" stop-color="#7f0"/><stop offset="1" stop-color="#31ff00"/></linearGradient>
<linearGradient id="b55"><stop offset="0" stop-color="#00ff81"/><stop offset="0.125" stop-color="#00ff0a"/><stop offset="0.1367" stop-color="#0f0"/><stop offset="0.25" stop-color="#4eff00"/><stop offset="0.375" stop-color="#8aff00"/><stop offset="0.5" stop-color="#adff00"/><stop offset="0.625" stop-color="#b5ff00"/><stop offset="0.75" stop-color="#a2ff00"/><stop offset="0.875" stop-color="#75ff00"/><stop offset="1" stop-color="#2eff00"/></linearGradient>
<linearGradient id="b56"><stop offset="0" stop-color="#00ff80"/><stop offset="0.125" stop-color="#00ff09"/><stop offset="0.1359" stop-color="#0f0"/><stop offset="0.25" stop-color="#4eff00"/><stop offset="0.375" stop-color="#8aff00"/><stop offset="0.5" stop-color="#acff00"/><stop offset="0.625" stop-color="#b3ff00"/><stop offset="0.75" stop-color="#a0ff00"/><stop offset="0.875" stop-color="#73ff00"/><stop offset="1" stop-color="#2cff00"/></linearGradient>
<linearGradient id="b57"><stop offset="0" stop-color="#00ff7f"/><stop offset="0.125" stop-color="#00ff08"/><stop offset="0.1352" stop-color="#0f0"/><stop offset="0.25" stop-color="#4eff00"/><stop offset="0.375" stop-color="#8aff00"/><stop offset="0.5" stop-color="#abff00"/><stop offset="0.625" stop-color="#b2ff00"/><stop offset="0.75" stop-color="#9fff00"/><stop offset="0.875" stop-color="#71ff00"/><stop offset="1" stop-color="#29ff00"/></linearGradient>
<linearGradient id="b58"><stop offset="0" stop-color="#00ff7d"/><stop offset="0.125" stop-color="#00ff08"/><stop offset="0.1345" stop-color="#0f0"/><stop offset="0.25" stop-color="#4eff00"/><stop offset="0.375" stop-color="#89ff00"/><stop offset="0.5" stop-color="#af0"/><stop offset="0.625" stop-color="#b1ff00"/><stop offset="0.75" stop-color="#9dff00"/><stop offset="0.875" stop-color="#6eff00"/><stop offset="1" stop-color="#26ff00"/></linearGradient>
<linearGradient id="b59"><stop offset="0" stop-color="#00ff7c"/><stop offset="0.125" stop-color="#00ff07"/><stop offset="0.1337" stop-color="#0f0"/><stop offset="0.25" stop-color="#4eff00"/><stop offset="0.375" stop-color="#89ff00"/><stop offset="0.5" stop-color="#af0"/><stop offset="0.625" stop-color="#b0ff00"/><stop offset="0.75" stop-color="#9bff00"/><stop offset="0.875" stop-color="#6cff00"/><stop offset="1" stop-color="#24ff00"/></linearGradient>
<linearGradient id="b60"><stop offset="0" stop-color="#00ff7b"/><stop offset="0.125" stop-color="#00ff06"/><stop offset="0.133" stop-color="#0f0"/><stop offset="0.25" stop-color="#4fff00"/><stop offset="0.375" stop-color="#89ff00"/><stop offset="0.5" stop-color="#a9ff00"/><stop offset="0.625" stop-color="#aeff00"/><stop offset="0.75" stop-color="#9f0"/><stop offset="0.875" stop-color="#6aff00"/><stop offset="1" stop-color="#21ff00"/></linearGradient>
<linearGradient id="b61"><stop offset="0" stop-color="#00ff7a"/><stop offset="0.125" stop-color="#00ff06"/><stop offset="0.1322" stop-color="#0f0"/><stop offset="0.25" stop-color="#4fff00"/><stop offset="0.375" stop-color="#89ff00"/><stop offset="0.5" stop-color="#a8ff00"/><stop offset="0.625" stop-color="#adff00"/><stop offset="0.75" stop-color="#98ff00"/><stop offset="0.875" stop-color="#68ff00"/><stop offset="1" stop-color="#1fff00"/></linearGradient>
<linearGradient id="b62"><stop offset="0" stop-color="#00ff79"/><stop offset="0.125" stop-color="#00ff05"/><stop offset="0.1314" stop-color="#0f0"/><stop offset="0.25" stop-color="#4fff00"/><stop offset="0.375" stop-color="#8f0"/><stop offset="0.5" stop-color="#a7ff00"/><stop offset="0.625" stop-color="#acff00"/><stop offset="0.75" stop-color="#96ff00"/><stop offset="0.875" stop-color="#6f0"/><stop offset="1" stop-color="#1cff00"/></linearGradient>
<linearGradient id="b63"><stop offset="0" stop-color="#00ff78"/><stop offset="0.125" stop-color="#00ff04"/><stop offset="0.1306" stop-color="#0f0"/><stop offset="0.25" stop-color="#4fff00"/><stop offset="0.375" stop-color="#8f0"/><stop offset="0.5" stop-color="#a7ff00"/><stop offset="0.625" stop-color="#abff00"/><stop offset="0.75" stop-color="#94ff00"/><stop offset="0.875" stop-color="#64ff00"/><stop offset="1" stop-color="#19ff00"/></linearGradient>
<linearGradient id="b64"><stop offset="0" stop-color="#0f7"/><stop offset="0.125" stop-color="#00ff04"/><stop offset="0.1298" stop-color="#0f0"/><stop offset="0.25" stop-color="#4fff00"/><stop offset="0.375" stop-color="#8f0"/><stop offset="0.5" stop-color="#a6ff00"/><stop offset="0.625" stop-color="#af0"/><stop offset="0.75" stop-color="#93ff00"/><stop offset="0.875" stop-color="#62ff00"/><stop offset="1" stop-color="#17ff00"/></linearGradient>
<linearGradient id="b65"><stop offset="0" stop-color="#00ff75"/><stop offset="0.125" stop-color="#00ff03"/><stop offset="0.1289" stop-color="#0f0"/><stop offset="0.25" stop-color="#4fff00"/><stop offset="0.375" stop-color="#87ff00"/><stop offset="0.5" stop-color="#a5ff00"/><stop offset="0.625" stop-color="#a8ff00"/><stop offset="0.75" stop-color="#91ff00"/><stop offset="0.875" stop-color="#60ff00"/><stop offset="1" stop-color="#14ff00"/></linearGradient>
<linearGradient id="b66"><stop offset="0" stop-color="#00ff74"/><stop offset="0.125" stop-color="#00ff02"/><stop offset="0.1281" stop-color="#0f0"/><stop offset="0.25" stop-color="#50ff00"/><stop offset="0.375" stop-color="#87ff00"/><stop offset="0.5" stop-color="#a4ff00"/><stop offset="0.625" stop-color="#a7ff00"/><stop offset="0.75" stop-color="#90ff00"/><stop offset="0.875" stop-color="#5dff00"/><stop offset="1" stop-color="#12ff00"/></linearGradient>
<linearGradient id="b67"><stop offset="0" stop-color="#00ff73"/><stop offset="0.125" stop-color="#00ff02"/><stop offset="0.1272" stop-color="#0f0"/><stop offset="0.25" stop-color="#50ff00"/><stop offset="0.375" stop-color="#87ff00"/><stop offset="0.5" stop-color="#a4ff00"/><stop offset="0.625" stop-color="#a6ff00"/><stop offset="0.75" stop-color="#8eff00"/><stop offset="0.875" stop-color="#5bff00"/><stop offset="1" stop-color="#0fff00"/></linearGradient>
<linearGradient id="b68"><stop offset="0" stop-color="#00ff72"/><stop offset="0.125" stop-color="#00ff01"/><stop offset="0.1263" stop-color="#0f0"/><stop offset="0.25" stop-color="#50ff00"/><stop offset="0.375" stop-color="#87ff00"/><stop offset="0.5" stop-color="#a3ff00"/><stop offset="0.625" stop-color="#a5ff00"/><stop offset="0.75" stop-color="#8cff00"/><stop offset="0.875" stop-color="#59ff00"/><stop offset="1" stop-color="#0dff00"/></linearGradient>
<linearGradient id="b69"><stop offset="0" stop-color="#00ff71"/><stop offset="0.125" stop-color="#0f0"/><stop offset="0.1254" stop-color="#0f0"/><stop offset="0.25" stop-color="#50ff00"/><stop offset="0.375" stop-color="#86ff00"/><stop offset="0.5" stop-color="#a2ff00"/><stop offset="0.625" stop-color="#a4ff00"/><stop offset="0.75" stop-color="#8bff00"/><stop offset="0.875" stop-color="#57ff00"/><stop offset="1" stop-color="#0aff00"/></linearGradient>
<linearGradient id="b70"><stop offset="0" stop-color="#00ff6f"/><stop offset="0.1245" stop-color="#0f0"/><stop offset="0.125" stop-color="#0f0"/><stop offset="0.25" stop-color="#51ff00"/><stop offset="0.375" stop-color="#86ff00"/><stop offset="0.5" stop-color="#a2ff00"/><stop offset="0.625" stop-color="#a3ff00"/><stop offset="0.75" stop-color="#89ff00"/><stop offset="0.875" stop-color="#5f0"/><stop offset="1" stop-color="#08ff00"/></linearGradient>
<linearGradient id="b71"><stop offset="0" stop-color="#00ff6e"/><stop offset="0.1235" stop-color="#0f0"/><stop offset="0.125" stop-color="#01ff00"/><stop offset="0.25" stop-color="#51ff00"/><stop offset="0.375" stop-color="#86ff00"/><stop offset="0.5" stop-color="#a1ff00"/><stop offset="0.625" stop-color="#a1ff00"/><stop offset="0.75" stop-color="#87ff00"/><stop offset="0.875" stop-color="#53ff00"/><stop offset="1" stop-color="#05ff00"/></linearGradient>
<linearGradient id="b72"><stop offset="0" stop-color="#00ff6d"/><stop offset="0.1226" stop-color="#0f0"/><stop offset="0.125" stop-color="#02ff00"/><stop offset="0.25" stop-color="#51ff00"/><stop offset="0.375" stop-color="#86ff00"/><stop offset="0.5" stop-color="#a0ff00"/><stop offset="0.625" stop-color="#a0ff00"/><stop offset="0.75" stop-color="#86ff00"/><stop offset="0.875" stop-color="#51ff00"/><stop offset="1" stop-color="#03ff00"/></linearGradient>
<linearGradient id="b73"><stop offset="0" stop-color="#00ff6c"/><stop offset="0.1216" stop-color="#0f0"/><stop offset="0.125" stop-color="#03ff00"/><stop offset="0.25" stop-color="#51ff00"/><stop offset="0.375" stop-color="#86ff00"/><stop offset="0.5" stop-color="#a0ff00"/><stop offset="0.625" stop-color="#9fff00"/><stop offset="0.75" stop-color="#84ff00"/><stop offset="0.875" stop-color="#4fff00"/><stop offset="1" stop-color="#0f0"/></linearGradient>
<linearGradient id="b74"><stop offset="0" stop-color="#00ff6b"/><stop offset="0.1206" stop-color="#0f0"/><stop offset="0.125" stop-color="#03ff00"/><stop offset="0.25" stop-color="#52ff00"/><stop offset="0.375" stop-color="#85ff00"/><stop offset="0.5" stop-color="#9fff00"/><stop offset="0.625" stop-color="#9eff00"/><stop offset="0.75" stop-color="#83ff00"/><stop offset="0.875" stop-color="#4dff00"/><stop offset="0.9956" stop-color="#0f0"/><stop offset="1" stop-color="#00ff03"/></linearGradient>
<linearGradient id="b75"><stop offset="0" stop-color="#00ff69"/><stop offset="0.1196" stop-color="#0f0"/><stop offset="0.125" stop-color="#04ff00"/><stop offset="0.25" stop-color="#52ff00"/><stop offset="0.375" stop-color="#85ff00"/><stop offset="0.5" stop-color="#9eff00"/><stop offset="0.625" stop-color="#9dff00"/><stop offset="0.75" stop-color="#81ff00"/><stop offset="0.875" stop-color="#4bff00"/><stop offset="0.9923" stop-color="#0f0"/><stop offset="1" stop-color="#00ff05"/></linearGradient>
<linearGradient id="b76"><stop offset="0" stop-color="#00ff68"/><stop offset="0.1185" stop-color="#0f0"/><stop offset="0.125" stop-color="#05ff00"/><stop offset="0.25" stop-color="#52ff00"/><stop offset="0.375" stop-color="#85ff00"/><stop offset="0.5" stop-color="#9eff00"/><stop offset="0.625" stop-color="#9cff00"/><stop offset="0.75" stop-color="#80ff00"/><stop offset="0.875" stop-color="#49ff00"/><stop offset="0.989" stop-color="#0f0"/><stop offset="1" stop-color="#00ff08"/></linearGradient>
<linearGradient id="b77"><stop offset="0" stop-color="#00ff67"/><stop offset="0.1175" stop-color="#0f0"/><stop offset="0.125" stop-color="#05ff00"/><stop offset="0.25" stop-color="#52ff00"/><stop offset="0.375" stop-color="#85ff00"/><stop offset="0.5" stop-color="#9dff00"/><stop offset="0.625" stop-color="#9bff00"/><stop offset="0.75" stop-color="#7eff00"/><stop offset="0.875" stop-color="#47ff00"/><stop offset="0.9856" stop-color="#0f0"/><stop offset="1" stop-color="#00ff0a"/></linearGradient>
<linearGradient id="b78"><stop offset="0" stop-color="#00ff65"/><stop offset="0.1164" stop-color="#0f0"/><stop offset="0.125" stop-color="#06ff00"/><stop offset="0.25" stop-color="#53ff00"/><stop offset="0.375" stop-color="#85ff00"/><stop offset="0.5" stop-color="#9cff00"/><stop offset="0.625" stop-color="#9aff00"/><stop offset="0.75" stop-color="#7cff00"/><stop offset="0.875" stop-color="#45ff00"/><stop offset="0.9824" stop-color="#0f0"/><stop offset="1" stop-color="#00ff0d"/></linearGradient>
<linearGradient id="b79"><stop offset="0" stop-color="#00ff64"/><stop offset="0.1153" stop-color="#0f0"/><stop offset="0.125" stop-color="#07ff00"/><stop offset="0.25" stop-color="#53ff00"/><stop offset="0.375" stop-color="#85ff00"/><stop offset="0.5" stop-color="#9cff00"/><stop offset="0.625" stop-color="#98ff00"/><stop offset="0.75" stop-color="#7bff00"/><stop offset="0.875" stop-color="#43ff00"/><stop offset="0.9791" stop-color="#0f0"/><stop offset="1" stop-color="#00ff10"/></linearGradient>
<linearGradient id="b80"><stop offset="0" stop-color="#00ff63"/><stop offset="0.1142" stop-color="#0f0"/><stop offset="0.125" stop-color="#08ff00"/><stop offset="0.25" stop-color="#53ff00"/><stop offset="0.375" stop-color="#84ff00"/><stop offset="0.5" stop-color="#9bff00"/><stop offset="0.625" stop-color="#97ff00"/><stop offset="0.75" stop-color="#79ff00"/><stop offset="0.875" stop-color="#41ff00"/><stop offset="0.9758" stop-color="#0f0"/><stop offset="1" stop-color="#00ff12"/></linearGradient>
<linearGradient id="b81"><stop offset="0" stop-color="#00ff62"/><stop offset="0.1131" stop-color="#0f0"/><stop offset="0.125" stop-color="#09ff00"/><stop offset="0.25" stop-color="#54ff00"/><stop offset="0.375" stop-color="#84ff00"/><stop offset="0.5" stop-color="#9aff00"/><stop offset="0.625" stop-color="#96ff00"/><stop offset="0.75" stop-color="#78ff00"/><stop offset="0.875" stop-color="#3fff00"/><stop offset="0.9726" stop-color="#0f0"/><stop offset="1" stop-color="#00ff15"/></linearGradient>
<linearGradient id="b82"><stop offset="0" stop-color="#00ff60"/><stop offset="0.112" stop-color="#0f0"/><stop offset="0.125" stop-color="#09ff00"/><stop offset="0.25" stop-color="#54ff00"/><stop offset="0.375" stop-color="#84ff00"/><stop offset="0.5" stop-color="#9aff00"/><stop offset="0.625" stop-color="#95ff00"/><stop offset="0.75" stop-color="#76ff00"/><stop offset="0.875" stop-color="#3dff00"/><stop offset="0.9693" stop-color="#0f0"/><stop offset="1" stop-color="#00ff17"/></linearGradient>
<linearGradient id="b83"><stop offset="0" stop-color="#00ff5f"/><stop offset="0.1108" stop-color="#0f0"/><stop offset="0.125" stop-color="#0aff00"/><stop offset="0.25" stop-color="#54ff00"/><stop offset="0.375" stop-color="#84ff00"/><stop offset="0.5" stop-color="#9f0"/><stop offset="0.625" stop-color="#94ff00"/><stop offset="0.75" stop-color="#75ff00"/><stop offset="0.875" stop-color="#3bff00"/><stop offset="0.9661" stop-color="#0f0"/><stop offset="1" stop-color="#00ff1a"/></linearGradient>
<linearGradient id="b84"><stop offset="0" stop-color="#00ff5e"/><stop offset="0.1096" stop-color="#0f0"/><stop offset="0.125" stop-color="#0bff00"/><stop offset="0.25" stop-color="#5f0"/><stop offset="0.375" stop-color="#84ff00"/><stop offset="0.5" stop-color="#9f0"/><stop offset="0.625" stop-color="#93ff00"/><stop offset="0.75" stop-color="#73ff00"/><stop offset="0.875" stop-color="#39ff00"/><stop offset="0.963" stop-color="#0f0"/><stop offset="1" stop-color="#00ff1c"/></linearGradient>
<linearGradient id="b85"><stop offset="0" stop-color="#00ff5c"/><stop offset="0.1084" stop-color="#0f0"/><stop offset="0.125" stop-color="#0cff00"/><stop offset="0.25" stop-color="#5f0"/><stop offset="0.375" stop-color="#84ff00"/><stop offset="0.5" stop-color="#98ff00"/><stop offset="0.625" stop-color="#92ff00"/><stop offset="0.75" stop-color="#72ff00"/><stop offset="0.875" stop-color="#37ff00"/><stop offset="0.9598" stop-color="#0f0"/><stop offset="1" stop-color="#00ff1f"/></linearGradient>
<linearGradient id="b86"><stop offset="0" stop-color="#00ff5b"/><stop offset="0.1072" stop-color="#0f0"/><stop offset="0.125" stop-color="#0dff00"/><stop offset="0.25" stop-color="#5f0"/><stop offset="0.375" stop-color="#84ff00"/><stop offset="0.5" stop-color="#98ff00"/><stop offset="0.625" stop-color="#91ff00"/><stop offset="0.75" stop-color="#70ff00"/><stop offset="0.875" stop-color="#35ff00"/><stop offset="0.9566" stop-color="#0f0"/><stop offset="1" stop-color="#00ff21"/></linearGradient>
<linearGradient id="b87"><stop offset="0" stop-color="#00ff5a"/><stop offset="0.106" stop-color="#0f0"/><stop offset="0.125" stop-color="#0dff00"/><stop offset="0.25" stop-color="#56ff00"/><stop offset="0.375" stop-color="#83ff00"/><stop offset="0.5" stop-color="#97ff00"/><stop offset="0.625" stop-color="#90ff00"/><stop offset="0.75" stop-color="#6fff00"/><stop offset="0.875" stop-color="#3f0"/><stop offset="0.9535" stop-color="#0f0"/><stop offset="1" stop-color="#00ff24"/></linearGradient>
<linearGradient id="b88"><stop offset="0" stop-color="#00ff58"/><stop offset="0.1047" stop-color="#0f0"/><stop offset="0.125" stop-color="#0eff00"/><stop offset="0.25" stop-color="#56ff00"/><stop offset="0.375" stop-color="#83ff00"/><stop offset="0.5" stop-color="#96ff00"/><stop offset="0.625" stop-color="#8fff00"/><stop offset="0.75" stop-color="#6dff00"/><stop offset="0.875" stop-color="#31ff00"/><stop offset="0.9504" stop-color="#0f0"/><stop offset="1" stop-color="#00ff27"/></linearGradient>
<linearGradient id="b89"><stop offset="0" stop-color="#00ff57"/><stop offset="0.1035" stop-color="#0f0"/><stop offset="0.125" stop-color="#0fff00"/><stop offset="0.25" stop-color="#56ff00"/><stop offset="0.375" stop-color="#83ff00"/><stop offset="0.5" stop-color="#96ff00"/><stop offset="0.625" stop-color="#8eff00"/><stop offset="0.75" stop-color="#6cff00"/><stop offset="0.875" stop-color="#2fff00"/><stop offset="0.9473" stop-color="#0f0"/><stop offset="1" stop-color="#00ff29"/></linearGradient>
<linearGradient id="b90"><stop offset="0" stop-color="#00ff56"/><stop offset="0.1021" stop-color="#0f0"/><stop offset="0.125" stop-color="#10ff00"/><stop offset="0.25" stop-color="#57ff00"/><stop offset="0.375" stop-color="#83ff00"/><stop offset="0.5" stop-color="#95ff00"/><stop offset="0.625" stop-color="#8dff00"/><stop offset="0.75" stop-color="#6aff00"/><stop offset="0.875" stop-color="#2dff00"/><stop offset="0.9442" stop-color="#0f0"/><stop offset="1" stop-color="#00ff2c"/></linearGradient>
<linearGradient id="b91"><stop offset="0" stop-color="#00ff54"/><stop offset="0.1008" stop-color="#0f0"/><stop offset="0.125" stop-color="#1f0"/><stop offset="0.25" stop-color="#57ff00"/><stop offset="0.375" stop-color="#83ff00"/><stop offset="0.5" stop-color="#95ff00"/><stop offset="0.625" stop-color="#8cff00"/><stop offset="0.75" stop-color="#69ff00"/><stop offset="0.875" stop-color="#2bff00"/><stop offset="0.9412" stop-color="#0f0"/><stop offset="1" stop-color="#00ff2e"/></linearGradient>
<linearGradient id="b92"><stop offset="0" stop-color="#00ff53"/><stop offset="0.0995" stop-color="#0f0"/><stop offset="0.125" stop-color="#12ff00"/><stop offset="0.25" stop-color="#58ff00"/><stop offset="0.375" stop-color="#83ff00"/><stop offset="0.5" stop-color="#94ff00"/><stop offset="0.625" stop-color="#8bff00"/><stop offset="0.75" stop-color="#67ff00"/><stop offset="0.875" stop-color="#29ff00"/><stop offset="0.9381" stop-color="#0f0"/><stop offset="1" stop-color="#00ff31"/></linearGradient>
<linearGradient id="b93"><stop offset="0" stop-color="#00ff51"/><stop offset="0.0982" stop-color="#0f0"/><stop offset="0.125" stop-color="#12ff00"/><stop offset="0.25" stop-color="#58ff00"/><stop offset="0.375" stop-color="#83ff00"/><stop offset="0.5" stop-color="#94ff00"/><stop offset="0.625" stop-color="#8aff00"/><stop offset="0.75" stop-color="#6f0"/><stop offset="0.875" stop-color="#27ff00"/><stop offset="0.9351" stop-color="#0f0"/><stop offset="1" stop-color="#0f3"/></linearGradient>
<linearGradient id="b94"><stop offset="0" stop-color="#00ff50"/><stop offset="0.0968" stop-color="#0f0"/><stop offset="0.125" stop-color="#13ff00"/><stop offset="0.25" stop-color="#58ff00"/><stop offset="0.375" stop-color="#83ff00"/><stop offset="0.5" stop-color="#93ff00"/><stop offset="0.625" stop-color="#89ff00"/><stop offset="0.75" stop-color="#65ff00"/><stop offset="0.875" stop-color="#26ff00"/><stop offset="0.9321" stop-color="#0f0"/><stop offset="1" stop-color="#00ff35"/></linearGradient>
<linearGradient id="b95"><stop offset="0" stop-color="#00ff4f"/><stop offset="0.0954" stop-color="#0f0"/><stop offset="0.125" stop-color="#14ff00"/><stop offset="0.25" stop-color="#59ff00"/><stop offset="0.375" stop-color="#83ff00"/><stop offset="0.5" stop-color="#93ff00"/><stop offset="0.625" stop-color="#8f0"/><stop offset="0.75" stop-color="#63ff00"/><stop offset="0.875" stop-color="#24ff00"/><stop offset="0.9292" stop-color="#0f0"/><stop offset="1" stop-color="#00ff38"/></linearGradient>
<linearGradient id="b96"><stop offset="0" stop-color="#00ff4d"/><stop offset="0.094" stop-color="#0f0"/><stop offset="0.125" stop-color="#15ff00"/><stop offset="0.25" stop-color="#59ff00"/><stop offset="0.375" stop-color="#83ff00"/><stop offset="0.5" stop-color="#92ff00"/><stop offset="0.625" stop-color="#87ff00"/><stop offset="0.75" stop-color="#62ff00"/><stop offset="0.875" stop-color="#2f0"/><stop offset="0.9262" stop-color="#0f0"/><stop offset="1" stop-color="#00ff3a"/></linearGradient>
<linearGradient id="b97"><stop offset="0" stop-color="#00ff4c"/><stop offset="0.0925" stop-color="#0f0"/><stop offset="0.125" stop-color="#16ff00"/><stop offset="0.25" stop-color="#5aff00"/><stop offset="0.375" stop-color="#83ff00"/><stop offset="0.5" stop-color="#92ff00"/><stop offset="0.625" stop-color="#86ff00"/><stop offset="0.75" stop-color="#60ff00"/><stop offset="0.875" stop-color="#20ff00"/><stop offset="0.9233" stop-color="#0f0"/><stop offset="1" stop-color="#00ff3d"/></linearGradient>
<linearGradient id="b98"><stop offset="0" stop-color="#00ff4a"/><stop offset="0.0911" stop-color="#0f0"/><stop offset="0.125" stop-color="#17ff00"/><stop offset="0.25" stop-color="#5aff00"/><stop offset="0.375" stop-color="#83ff00"/><stop offset="0.5" stop-color="#91ff00"/><stop offset="0.625" stop-color="#85ff00"/><stop offset="0.75" stop-color="#5fff00"/><stop offset="0.875" stop-color="#1eff00"/><stop offset="0.9204" stop-color="#0f0"/><stop offset="1" stop-color="#00ff3f"/></linearGradient>
<linearGradient id="b99"><stop offset="0" stop-color="#00ff49"/><stop offset="0.0896" stop-color="#0f0"/><stop offset="0.125" stop-color="#18ff00"/><stop offset="0.25" stop-color="#5aff00"/><stop offset="0.375" stop-color="#83ff00"/><stop offset="0.5" stop-color="#91ff00"/><stop offset="0.625" stop-color="#84ff00"/><stop offset="0.75" stop-color="#5dff00"/><stop offset="0.875" stop-color="#1cff00"/><stop offset="0.9175" stop-color="#0f0"/><stop offset="1" stop-color="#00ff42"/></linearGradient>
<linearGradient id="b100"><stop offset="0" stop-color="#00ff47"/><stop offset="0.0881" stop-color="#0f0"/><stop offset="0.125" stop-color="#19ff00"/><stop offset="0.25" stop-color="#5bff00"/><stop offset="0.375" stop-color="#83ff00"/><stop offset="0.5" stop-color="#90ff00"/><stop offset="0.625" stop-color="#83ff00"/><stop offset="0.75" stop-color="#5cff00"/><stop offset="0.875" stop-color="#1aff00"/><stop offset="0.9146" stop-color="#0f0"/><stop offset="1" stop-color="#0f4"/></linearGradient>
<linearGradient id="b101"><stop offset="0" stop-color="#00ff46"/><stop offset="0.0866" stop-color="#0f0"/><stop offset="0.125" stop-color="#1aff00"/><stop offset="0.25" stop-color="#5bff00"/><stop offset="0.375" stop-color="#83ff00"/><stop offset="0.5" stop-color="#90ff00"/><stop offset="0.625" stop-color="#82ff00"/><stop offset="0.75" stop-color="#5bff00"/><stop offset="0.875" stop-color="#19ff00"/><stop offset="0.9118" stop-color="#0f0"/><stop offset="1" stop-color="#00ff47"/></linearGradient>
<linearGradient id="b102"><stop offset="0" stop-color="#00ff45"/><stop offset="0.0851" stop-color="#0f0"/><stop offset="0.125" stop-color="#1aff00"/><stop offset="0.25" stop-color="#5cff00"/><stop offset="0.375" stop-color="#83ff00"/><stop offset="0.5" stop-color="#8fff00"/><stop offset="0.625" stop-color="#82ff00"/><stop offset="0.75" stop-color="#59ff00"/><stop offset="0.875" stop-color="#17ff00"/><stop offset="0.9089" stop-color="#0f0"/><stop offset="1" stop-color="#00ff49"/></linearGradient>
<linearGradient id="b103"><stop offset="0" stop-color="#00ff43"/><stop offset="0.0835" stop-color="#0f0"/><stop offset="0.125" stop-color="#1bff00"/><stop offset="0.25" stop-color="#5cff00"/><stop offset="0.375" stop-color="#83ff00"/><stop offset="0.5" stop-color="#8fff00"/><stop offset="0.625" stop-color="#81ff00"/><stop offset="0.75" stop-color="#58ff00"/><stop offset="0.875" stop-color="#15ff00"/><stop offset="0.9061" stop-color="#0f0"/><stop offset="1" stop-color="#00ff4b"/></linearGradient>
<linearGradient id="b104"><stop offset="0" stop-color="#00ff42"/><stop offset="0.0819" stop-color="#0f0"/><stop offset="0.125" stop-color="#1cff00"/><stop offset="0.25" stop-color="#5dff00"/><stop offset="0.375" stop-color="#83ff00"/><stop offset="0.5" stop-color="#8eff00"/><stop offset="0.625" stop-color="#80ff00"/><stop offset="0.75" stop-color="#57ff00"/><stop offset="0.875" stop-color="#13ff00"/><stop offset="0.9034" stop-color="#0f0"/><stop offset="1" stop-color="#00ff4e"/></linearGradient>
<linearGradient id="b105"><stop offset="0" stop-color="#00ff40"/><stop offset="0.0803" stop-color="#0f0"/><stop offset="0.125" stop-color="#1dff00"/><stop offset="0.25" stop-color="#5dff00"/><stop offset="0.375" stop-color="#83ff00"/><stop offset="0.5" stop-color="#8eff00"/><stop offset="0.625" stop-color="#7fff00"/><stop offset="0.75" stop-color="#5f0"/><stop offset="0.875" stop-color="#1f0"/><stop offset="0.9006" stop-color="#0f0"/><stop offset="1" stop-color="#00ff50"/></linearGradient>
<linearGradient id="b106"><stop offset="0" stop-color="#00ff3f"/><stop offset="0.0787" stop-color="#0f0"/><stop offset="0.125" stop-color="#1eff00"/><stop offset="0.25" stop-color="#5eff00"/><stop offset="0.375" stop-color="#83ff00"/><stop offset="0.5" stop-color="#8eff00"/><stop offset="0.625" stop-color="#7eff00"/><stop offset="0.75" stop-color="#54ff00"/><stop offset="0.875" stop-color="#0fff00"/><stop offset="0.8979" stop-color="#0f0"/><stop offset="1" stop-color="#00ff53"/></linearGradient>
<linearGradient id="b107"><stop offset="0" stop-color="#00ff3d"/><stop offset="0.077" stop-color="#0f0"/><stop offset="0.125" stop-color="#1fff00"/><stop offset="0.25" stop-color="#5eff00"/><stop offset="0.375" stop-color="#83ff00"/><stop offset="0.5" stop-color="#8dff00"/><stop offset="0.625" stop-color="#7dff00"/><stop offset="0.75" stop-color="#53ff00"/><stop offset="0.875" stop-color="#0eff00"/><stop offset="0.8951" stop-color="#0f0"/><stop offset="1" stop-color="#0f5"/></linearGradient>
<linearGradient id="b108"><stop offset="0" stop-color="#00ff3c"/><stop offset="0.0754" stop-color="#0f0"/><stop offset="0.125" stop-color="#20ff00"/><stop offset="0.25" stop-color="#5fff00"/><stop offset="0.375" stop-color="#83ff00"/><stop offset="0.5" stop-color="#8dff00"/><stop offset="0.625" stop-color="#7cff00"/><stop offset="0.75" stop-color="#51ff00"/><stop offset="0.875" stop-color="#0cff00"/><stop offset="0.8925" stop-color="#0f0"/><stop offset="1" stop-color="#00ff57"/></linearGradient>
<linearGradient id="b109"><stop offset="0" stop-color="#00ff3a"/><stop offset="0.0737" stop-color="#0f0"/><stop offset="0.125" stop-color="#21ff00"/><stop offset="0.25" stop-color="#5fff00"/><stop offset="0.375" stop-color="#83ff00"/><stop offset="0.5" stop-color="#8cff00"/><stop offset="0.625" stop-color="#7bff00"/><stop offset="0.75" stop-color="#50ff00"/><stop offset="0.875" stop-color="#0aff00"/><stop offset="0.8898" stop-color="#0f0"/><stop offset="1" stop-color="#00ff5a"/></linearGradient>
<linearGradient id="b110"><stop offset="0" stop-color="#00ff39"/><stop offset="0.072" stop-color="#0f0"/><stop offset="0.125" stop-color="#2f0"/><stop offset="0.25" stop-color="#60ff00"/><stop offset="0.375" stop-color="#83ff00"/><stop offset="0.5" stop-color="#8cff00"/><stop offset="0.625" stop-color="#7aff00"/><stop offset="0.75" stop-color="#4fff00"/><stop offset="0.875" stop-color="#08ff00"/><stop offset="0.8871" stop-color="#0f0"/><stop offset="1" stop-color="#00ff5c"/></linearGradient>
<linearGradient id="b111"><stop offset="0" stop-color="#00ff37"/><stop offset="0.0702" stop-color="#0f0"/><stop offset="0.125" stop-color="#23ff00"/><stop offset="0.25" stop-color="#60ff00"/><stop offset="0.375" stop-color="#83ff00"/><stop offset="0.5" stop-color="#8cff00"/><stop offset="0.625" stop-color="#7aff00"/><stop offset="0.75" stop-color="#4dff00"/><stop offset="0.875" stop-color="#06ff00"/><stop offset="0.8845" stop-color="#0f0"/><stop offset="1" stop-color="#00ff5e"/></linearGradient>
<linearGradient id="b112"><stop offset="0" stop-color="#00ff36"/><stop offset="0.0685" stop-color="#0f0"/><stop offset="0.125" stop-color="#24ff00"/><stop offset="0.25" stop-color="#61ff00"/><stop offset="0.375" stop-color="#83ff00"/><stop offset="0.5" stop-color="#8bff00"/><stop offset="0.625" stop-color="#79ff00"/><stop offset="0.75" stop-color="#4cff00"/><stop offset="0.875" stop-color="#05ff00"/><stop offset="0.8819" stop-color="#0f0"/><stop offset="1" stop-color="#00ff61"/></linearGradient>
<linearGradient id="b113"><stop offset="0" stop-color="#00ff34"/><stop offset="0.0667" stop-color="#0f0"/><stop offset="0.125" stop-color="#25ff00"/><stop offset="0.25" stop-color="#61ff00"/><stop offset="0.375" stop-color="#83ff00"/><stop offset="0.5" stop-color="#8bff00"/><stop offset="0.625" stop-color="#78ff00"/><stop offset="0.75" stop-color="#4bff00"/><stop offset="0.875" stop-color="#03ff00"/><stop offset="0.8793" stop-color="#0f0"/><stop offset="1" stop-color="#00ff63"/></linearGradient>
<linearGradient id="b114"><stop offset="0" stop-color="#00ff32"/><stop offset="0.0649" stop-color="#0f0"/><stop offset="0.125" stop-color="#26ff00"/><stop offset="0.25" stop-color="#62ff00"/><stop offset="0.375" stop-color="#83ff00"/><stop offset="0.5" stop-color="#8aff00"/><stop offset="0.625" stop-color="#7f0"/><stop offset="0.75" stop-color="#49ff00"/><stop offset="0.875" stop-color="#01ff00"/><stop offset="0.8767" stop-color="#0f0"/><stop offset="1" stop-color="#00ff65"/></linearGradient>
<linearGradient id="b115"><stop offset="0" stop-color="#00ff31"/><stop offset="0.0631" stop-color="#0f0"/><stop offset="0.125" stop-color="#27ff00"/><stop offset="0.25" stop-color="#63ff00"/><stop offset="0.375" stop-color="#84ff00"/><stop offset="0.5" stop-color="#8aff00"/><stop offset="0.625" stop-color="#76ff00"/><stop offset="0.75" stop-color="#48ff00"/><stop offset="0.8742" stop-color="#0f0"/><stop offset="0.875" stop-color="#00ff01"/><stop offset="1" stop-color="#00ff68"/></linearGradient>
<linearGradient id="b116"><stop offset="0" stop-color="#00ff2f"/><stop offset="0.0612" stop-color="#0f0"/><stop offset="0.125" stop-color="#28ff00"/><stop offset="0.25" stop-color="#63ff00"/><stop offset="0.375" stop-color="#84ff00"/><stop offset="0.5" stop-color="#8aff00"/><stop offset="0.625" stop-color="#75ff00"/><stop offset="0.75" stop-color="#47ff00"/><stop offset="0.8717" stop-color="#0f0"/><stop offset="0.875" stop-color="#00ff02"/><stop offset="1" stop-color="#00ff6a"/></linearGradient>
<linearGradient id="b117"><stop offset="0" stop-color="#00ff2e"/><stop offset="0.0594" stop-color="#0f0"/><stop offset="0.125" stop-color="#29ff00"/><stop offset="0.25" stop-color="#64ff00"/><stop offset="0.375" stop-color="#84ff00"/><stop offset="0.5" stop-color="#89ff00"/><stop offset="0.625" stop-color="#75ff00"/><stop offset="0.75" stop-color="#46ff00"/><stop offset="0.8691" stop-color="#0f0"/><stop offset="0.875" stop-color="#00ff04"/><stop offset="1" stop-color="#00ff6c"/></linearGradient>
<linearGradient id="b118"><stop offset="0" stop-color="#00ff2c"/><stop offset="0.0575" stop-color="#0f0"/><stop offset="0.125" stop-color="#2aff00"/><stop offset="0.25" stop-color="#64ff00"/><stop offset="0.375" stop-color="#84ff00"/><stop offset="0.5" stop-color="#89ff00"/><stop offset="0.625" stop-color="#74ff00"/><stop offset="0.75" stop-color="#4f0"/><stop offset="0.8667" stop-color="#0f0"/><stop offset="0.875" stop-color="#00ff06"/><stop offset="1" stop-color="#00ff6e"/></linearGradient>
<linearGradient id="b119"><stop offset="0" stop-color="#00ff2b"/><stop offset="0.0556" stop-color="#0f0"/><stop offset="0.125" stop-color="#2bff00"/><stop offset="0.25" stop-color="#65ff00"/><stop offset="0.375" stop-color="#84ff00"/><stop offset="0.5" stop-color="#89ff00"/><stop offset="0.625" stop-color="#73ff00"/><stop offset="0.75" stop-color="#43ff00"/><stop offset="0.8642" stop-color="#0f0"/><stop offset="0.875" stop-color="#00ff08"/><stop offset="1" stop-color="#00ff71"/></linearGradient>
<linearGradient id="b120"><stop offset="0" stop-color="#00ff29"/><stop offset="0.0537" stop-color="#0f0"/><stop offset="0.125" stop-color="#2cff00"/><stop offset="0.25" stop-color="#6f0"/><stop offset="0.375" stop-color="#84ff00"/><stop offset="0.5" stop-color="#8f0"/><stop offset="0.625" stop-color="#72ff00"/><stop offset="0.75" stop-color="#42ff00"/><stop offset="0.8618" stop-color="#0f0"/><stop offset="0.875" stop-color="#00ff0a"/><stop offset="1" stop-color="#00ff73"/></linearGradient>
<linearGradient id="b121"><stop offset="0" stop-color="#00ff27"/><stop offset="0.0517" stop-color="#0f0"/><stop offset="0.125" stop-color="#2dff00"/><stop offset="0.25" stop-color="#6f0"/><stop offset="0.375" stop-color="#84ff00"/><stop offset="0.5" stop-color="#8f0"/><stop offset="0.625" stop-color="#72ff00"/><stop offset="0.75" stop-color="#41ff00"/><stop offset="0.8594" stop-color="#0f0"/><stop offset="0.875" stop-color="#00ff0b"/><stop offset="1" stop-color="#00ff75"/></linearGradient>
<linearGradient id="b122"><stop offset="0" stop-color="#00ff26"/><stop offset="0.0497" stop-color="#0f0"/><stop offset="0.125" stop-color="#2fff00"/><stop offset="0.25" stop-color="#67ff00"/><stop offset="0.375" stop-color="#84ff00"/><stop offset="0.5" stop-color="#8f0"/><stop offset="0.625" stop-color="#71ff00"/><stop offset="0.75" stop-color="#3fff00"/><stop offset="0.857" stop-color="#0f0"/><stop offset="0.875" stop-color="#00ff0d"/><stop offset="1" stop-color="#00ff78"/></linearGradient>
<linearGradient id="b123"><stop offset="0" stop-color="#00ff24"/><stop offset="0.0477" stop-color="#0f0"/><stop offset="0.125" stop-color="#30ff00"/><stop offset="0.25" stop-color="#67ff00"/><stop offset="0.375" stop-color="#85ff00"/><stop offset="0.5" stop-color="#8f0"/><stop offset="0.625" stop-color="#70ff00"/><stop offset="0.75" stop-color="#3eff00"/><stop offset="0.8546" stop-color="#0f0"/><stop offset="0.875" stop-color="#00ff0f"/><stop offset="1" stop-color="#00ff7a"/></linearGradient>
<linearGradient id="b124"><stop offset="0" stop-color="#00ff23"/><stop offset="0.0457" stop-color="#0f0"/><stop offset="0.125" stop-color="#31ff00"/><stop offset="0.25" stop-color="#68ff00"/><stop offset="0.375" stop-color="#85ff00"/><stop offset="0.5" stop-color="#87ff00"/><stop offset="0.625" stop-color="#6fff00"/><stop offset="0.75" stop-color="#3dff00"/><stop offset="0.8523" stop-color="#0f0"/><stop offset="0.875" stop-color="#0f1"/><stop offset="1" stop-color="#00ff7c"/></linearGradient>
<linearGradient id="b125"><stop offset="0" stop-color="#00ff21"/><stop offset="0.0437" stop-color="#0f0"/><stop offset="0.125" stop-color="#32ff00"/><stop offset="0.25" stop-color="#69ff00"/><stop offset="0.375" stop-color="#85ff00"/><stop offset="0.5" stop-color="#87ff00"/><stop offset="0.625" stop-color="#6fff00"/><stop offset="0.75" stop-color="#3cff00"/><stop offset="0.85" stop-color="#0f0"/><stop offset="0.875" stop-color="#00ff12"/><stop offset="1" stop-color="#00ff7e"/></linearGradient>
<linearGradient id="b126"><stop offset="0" stop-color="#00ff1f"/><stop offset="0.0416" stop-color="#0f0"/><stop offset="0.125" stop-color="#3f0"/><stop offset="0.25" stop-color="#69ff00"/><stop offset="0.375" stop-color="#85ff00"/><stop offset="0.5" stop-color="#87ff00"/><stop offset="0.625" stop-color="#6eff00"/><stop offset="0.75" stop-color="#3aff00"/><stop offset="0.8476" stop-color="#0f0"/><stop offset="0.875" stop-color="#00ff14"/><stop offset="1" stop-color="#00ff81"/></linearGradient>
<linearGradient id="b127"><stop offset="0" stop-color="#00ff1e"/><stop offset="0.0395" stop-color="#0f0"/><stop offset="0.125" stop-color="#34ff00"/><stop offset="0.25" stop-color="#6aff00"/><stop offset="0.375" stop-color="#85ff00"/><stop offset="0.5" stop-color="#86ff00"/><stop offset="0.625" stop-color="#6dff00"/><stop offset="0.75" stop-color="#39ff00"/><stop offset="0.8454" stop-color="#0f0"/><stop offset="0.875" stop-color="#00ff16"/><stop offset="1" stop-color="#00ff83"/></linearGradient>
<linearGradient id="b128"><stop offset="0" stop-color="#00ff1c"/><stop offset="0.0374" stop-color="#0f0"/><stop offset="0.125" stop-color="#35ff00"/><stop offset="0.25" stop-color="#6bff00"/><stop offset="0.375" stop-color="#86ff00"/><stop offset="0.5" stop-color="#86ff00"/><stop offset="0.625" stop-color="#6cff00"/><stop offset="0.75" stop-color="#38ff00"/><stop offset="0.8431" stop-color="#0f0"/><stop offset="0.875" stop-color="#00ff18"/><stop offset="1" stop-color="#00ff85"/></linearGradient>
<linearGradient id="b129"><stop offset="0" stop-color="#00ff1a"/><stop offset="0.0352" stop-color="#0f0"/><stop offset="0.125" stop-color="#36ff00"/><stop offset="0.25" stop-color="#6bff00"/><stop offset="0.375" stop-color="#86ff00"/><stop offset="0.5" stop-color="#86ff00"/><stop offset="0.625" stop-color="#6cff00"/><stop offset="0.75" stop-color="#37ff00"/><stop offset="0.8409" stop-color="#0f0"/><stop offset="0.875" stop-color="#00ff19"/><stop offset="1" stop-color="#00ff87"/></linearGradient>
<linearGradient id="b130"><stop offset="0" stop-color="#00ff19"/><stop offset="0.0331" stop-color="#0f0"/><stop offset="0.125" stop-color="#37ff00"/><stop offset="0.25" stop-color="#6cff00"/><stop offset="0.375" stop-color="#86ff00"/><stop offset="0.5" stop-color="#86ff00"/><stop offset="0.625" stop-color="#6bff00"/><stop offset="0.75" stop-color="#36ff00"/><stop offset="0.8387" stop-color="#0f0"/><stop offset="0.875" stop-color="#00ff1b"/><stop offset="1" stop-color="#00ff89"/></linearGradient>
<linearGradient id="b131"><stop offset="0" stop-color="#00ff17"/><stop offset="0.0309" stop-color="#0f0"/><stop offset="0.125" stop-color="#39ff00"/><stop offset="0.25" stop-color="#6dff00"/><stop offset="0.375" stop-color="#86ff00"/><stop offset="0.5" stop-color="#85ff00"/><stop offset="0.625" stop-color="#6aff00"/><stop offset="0.75" stop-color="#35ff00"/><stop offset="0.8365" stop-color="#0f0"/><stop offset="0.875" stop-color="#00ff1d"/><stop offset="1" stop-color="#00ff8c"/></linearGradient>
<linearGradient id="b132"><stop offset="0" stop-color="#00ff15"/><stop offset="0.0287" stop-color="#0f0"/><stop offset="0.125" stop-color="#3aff00"/><stop offset="0.25" stop-color="#6dff00"/><stop offset="0.375" stop-color="#86ff00"/><stop offset="0.5" stop-color="#85ff00"/><stop offset="0.625" stop-color="#69ff00"/><stop offset="0.75" stop-color="#3f0"/><stop offset="0.8343" stop-color="#0f0"/><stop offset="0.875" stop-color="#00ff1f"/><stop offset="1" stop-color="#00ff8e"/></linearGradient>
<linearGradient id="b133"><stop offset="0" stop-color="#00ff14"/><stop offset="0.0265" stop-color="#0f0"/><stop offset="0.125" stop-color="#3bff00"/><stop offset="0.25" stop-color="#6eff00"/><stop offset="0.375" stop-color="#87ff00"/><stop offset="0.5" stop-color="#85ff00"/><stop offset="0.625" stop-color="#69ff00"/><stop offset="0.75" stop-color="#32ff00"/><stop offset="0.8322" stop-color="#0f0"/><stop offset="0.875" stop-color="#00ff20"/><stop offset="1" stop-color="#00ff90"/></linearGradient>
<linearGradient id="b134"><stop offset="0" stop-color="#00ff12"/><stop offset="0.0242" stop-color="#0f0"/><stop offset="0.125" stop-color="#3cff00"/><stop offset="0.25" stop-color="#6fff00"/><stop offset="0.375" stop-color="#87ff00"/><stop offset="0.5" stop-color="#85ff00"/><stop offset="0.625" stop-color="#68ff00"/><stop offset="0.75" stop-color="#31ff00"/><stop offset="0.8301" stop-color="#0f0"/><stop offset="0.875" stop-color="#0f2"/><stop offset="1" stop-color="#00ff92"/></linearGradient>
<linearGradient id="b135"><stop offset="0" stop-color="#00ff10"/><stop offset="0.022" stop-color="#0f0"/><stop offset="0.125" stop-color="#3dff00"/><stop offset="0.25" stop-color="#6fff00"/><stop offset="0.375" stop-color="#87ff00"/><stop offset="0.5" stop-color="#84ff00"/><stop offset="0.625" stop-color="#67ff00"/><stop offset="0.75" stop-color="#30ff00"/><stop offset="0.828" stop-color="#0f0"/><stop offset="0.875" stop-color="#00ff24"/><stop offset="1" stop-color="#00ff94"/></linearGradient>
<linearGradient id="b136"><stop offset="0" stop-color="#00ff0e"/><stop offset="0.0197" stop-color="#0f0"/><stop offset="0.125" stop-color="#3eff00"/><stop offset="0.25" stop-color="#70ff00"/><stop offset="0.375" stop-color="#87ff00"/><stop offset="0.5" stop-color="#84ff00"/><stop offset="0.625" stop-color="#67ff00"/><stop offset="0.75" stop-color="#2fff00"/><stop offset="0.8259" stop-color="#0f0"/><stop offset="0.875" stop-color="#00ff25"/><stop offset="1" stop-color="#00ff96"/></linearGradient>
<linearGradient id="b137"><stop offset="0" stop-color="#00ff0d"/><stop offset="0.0174" stop-color="#0f0"/><stop offset="0.125" stop-color="#40ff00"/><stop offset="0.25" stop-color="#71ff00"/><stop offset="0.375" stop-color="#8f0"/><stop offset="0.5" stop-color="#84ff00"/><stop offset="0.625" stop-color="#6f0"/><stop offset="0.75" stop-color="#2eff00"/><stop offset="0.8239" stop-color="#0f0"/><stop offset="0.875" stop-color="#00ff27"/><stop offset="1" stop-color="#00ff98"/></linearGradient>
<linearGradient id="b138"><stop offset="0" stop-color="#00ff0b"/><stop offset="0.015" stop-color="#0f0"/><stop offset="0.125" stop-color="#41ff00"/><stop offset="0.25" stop-color="#72ff00"/><stop offset="0.375" stop-color="#8f0"/><stop offset="0.5" stop-color="#84ff00"/><stop offset="0.625" stop-color="#65ff00"/><stop offset="0.75" stop-color="#2dff00"/><stop offset="0.8218" stop-color="#0f0"/><stop offset="0.875" stop-color="#00ff29"/><stop offset="1" stop-color="#00ff9b"/></linearGradient>
<linearGradient id="b139"><stop offset="0" stop-color="#00ff09"/><stop offset="0.0127" stop-color="#0f0"/><stop offset="0.125" stop-color="#42ff00"/><stop offset="0.25" stop-color="#72ff00"/><stop offset="0.375" stop-color="#8f0"/><stop offset="0.5" stop-color="#84ff00"/><stop offset="0.625" stop-color="#65ff00"/><stop offset="0.75" stop-color="#2cff00"/><stop offset="0.8198" stop-color="#0f0"/><stop offset="0.875" stop-color="#00ff2a"/><stop offset="1" stop-color="#00ff9d"/></linearGradient>
<linearGradient id="b140"><stop offset="0" stop-color="#00ff07"/><stop offset="0.0103" stop-color="#0f0"/><stop offset="0.125" stop-color="#43ff00"/><stop offset="0.25" stop-color="#73ff00"/><stop offset="0.375" stop-color="#8f0"/><stop offset="0.5" stop-color="#84ff00"/><stop offset="0.625" stop-color="#64ff00"/><stop offset="0.75" stop-color="#2aff00"/><stop offset="0.8178" stop-color="#0f0"/><stop offset="0.875" stop-color="#00ff2c"/><stop offset="1" stop-color="#00ff9f"/></linearGradient>
<linearGradient id="b141"><stop offset="0" stop-color="#00ff06"/><stop offset="0.0079" stop-color="#0f0"/><stop offset="0.125" stop-color="#4f0"/><stop offset="0.25" stop-color="#74ff00"/><stop offset="0.375" stop-color="#89ff00"/><stop offset="0.5" stop-color="#83ff00"/><stop offset="0.625" stop-color="#64ff00"/><stop offset="0.75" stop-color="#29ff00"/><stop offset="0.8159" stop-color="#0f0"/><stop offset="0.875" stop-color="#00ff2d"/><stop offset="1" stop-color="#00ffa1"/></linearGradient>
</defs>
<g shape-rendering="crispEdges">
<rect x="49" y="14" width="284" height="2" fill="url(#a0)"/>
<rect x="49" y="16" width="284" height="2" fill="url(#a1)"/>
<rect x="49" y="18" width="284" height="2" fill="url(#a2)"/>
<rect x="49" y="20" width="284" height="2" fill="url(#a3)"/>
<rect x="49" y="22" width="284" height="2" fill="url(#a4)"/>
<rect x="49" y="24" width="284" height="2" fill="url(#a5)"/>
<rect x="49" y="26" width="284" height="2" fill="url(#a6)"/>
<rect x="49" y="28" width="284" height="2" fill="url(#a7)"/>
<rect x="49" y="30" width="284" height="2" fill="url(#a8)"/>
<rect x="49" y="32" width="284" height="2" fill="url(#a9)"/>
<rect x="49" y="34" width="284" height="2" fill="url(#a10)"/>
<rect x="49" y="36" width="284" height="2" fill="url(#a11)"/>
<rect x="49" y="38" width="284" height="2" fill="url(#a12)"/>
<rect x="49" y="40" width="284" height="2" fill="url(#a13)"/>
<rect x="49" y="42" width="284" height="2" fill="url(#a14)"/>
<rect x="49" y="44" width="284" height="2" fill="url(#a15)"/>
<rect x="49" y="46" width="284" height="2" fill="url(#a16)"/>
<rect x="49" y="48" width="284" height="2" fill="url(#a17)"/>
<rect x="49" y="50" width="284" height="2" fill="url(#a18)"/>
<rect x="49" y="52" width="284" height="2" fill="url(#a19)"/>
<rect x="49" y="54" width="284" height="2" fill="url(#a20)"/>
<rect x="49" y="56" width="284" height="2" fill="url(#a21)"/>
<rect x="49" y="58" width="284" height="2" fill="url(#a22)"/>
<rect x="49" y="60" width="284" height="2" fill="url(#a23)"/>
<rect x="49" y="62" width="284" height="2" fill="url(#a24)"/>
<rect x="49" y="64" width="284" height="2" fill="url(#a25)"/>
<rect x="49" y="66" width="284" height="2" fill="url(#a26)"/>
<rect x="49" y="68" width="284" height="2" fill="url(#a27)"/>
<rect x="49" y="70" width="284" height="2" fill="url(#a28)"/>
<rect x="49" y="72" width="284" height="2" fill="url(#a29)"/>
<rect x="49" y="74" width="284" height="2" fill="url(#a30)"/>
<rect x="49" y="76" width="284" height="2" fill="url(#a31)"/>
<rect x="49" y="78" width="284" height="2" fill="url(#a32)"/>
<rect x="49" y="80" width="284" height="2" fill="url(#a33)"/>
<rect x="49" y="82" width="284" height="2" fill="url(#a34)"/>
<rect x="49" y="84" width="284" height="2" fill="url(#a35)"/>
<rect x="49" y="86" width="284" height="2" fill="url(#a36)"/>
<rect x="49" y="88" width="284" height="2" fill="url(#a37)"/>
<rect x="49" y="90" width="284" height="2" fill="url(#a38)"/>
<rect x="49" y="92" width="284" height="2" fill="url(#a39)"/>
<rect x="49" y="94" width="284" height="2" fill="url(#a40)"/>
<rect x="49" y="96" width="284" height="2" fill="url(#a41)"/>
<rect x="49" y="98" width="284" height="2" fill="url(#a42)"/>
<rect x="49" y="100" width="284" height="2" fill="url(#a43)"/>
<rect x="49" y="102" width="284" height="2" fill="url(#a44)"/>
<rect x="49" y="104" width="284" height="2" fill="url(#a45)"/>
<rect x="49" y="106" width="284" height="2" fill="url(#a46)"/>
<rect x="49" y="108" width="284" height="2" fill="url(#a47)"/>
<rect x="49" y="110" width="284" height="2" fill="url(#a48)"/>
<rect x="49" y="112" width="284" height="2" fill="url(#a49)"/>
<rect x="49" y="114" width="284" height="2" fill="url(#a50)"/>
<rect x="49" y="116" width="284" height="2" fill="url(#a51)"/>
<rect x="49" y="118" width="284" height="2" fill="url(#a52)"/>
<rect x="49" y="120" width="284" height="2" fill="url(#a53)"/>
<rect x="49" y="122" width="284" height="2" fill="url(#a54)"/>
<rect x="49" y="124" width="284" height="2" fill="url(#a55)"/>
<rect x="49" y="126" width="284" height="2" fill="url(#a56)"/>
<rect x="49" y="128" width="284" height="2" fill="url(#a57)"/>
<rect x="49" y="130" width="284" height="2" fill="url(#a58)"/>
<rect x="49" y="132" width="284" height="2" fill="url(#a59)"/>
<rect x="49" y="134" width="284" height="2" fill="url(#a60)"/>
<rect x="49" y="136" width="284" height="2" fill="url(#a61)"/>
<rect x="49" y="138" width="284" height="2" fill="url(#a62)"/>
<rect x="49" y="140" width="284" height="2" fill="url(#a63)"/>
<rect x="49" y="142" width="284" height="2" fill="url(#a64)"/>
<rect x="49" y="144" width="284" height="2" fill="url(#a65)"/>
<rect x="49" y="146" width="284" height="2" fill="url(#a66)"/>
<rect x="49" y="148" width="284" height="2" fill="url(#a67)"/>
<rect x="49" y="150" width="284" height="2" fill="url(#a68)"/>
<rect x="49" y="152" width="284" height="2" fill="url(#a69)"/>
<rect x="49" y="154" width="284" height="2" fill="url(#a70)"/>
<rect x="49" y="156" width="284" height="2" fill="url(#a71)"/>
<rect x="49" y="158" width="284" height="2" fill="url(#a72)"/>
<rect x="49" y="160" width="284" height="2" fill="url(#a73)"/>
<rect x="49" y="162" width="284" height="2" fill="url(#a74)"/>
<rect x="49" y="164" width="284" height="2" fill="url(#a75)"/>
<rect x="49" y="166" width="284" height="2" fill="url(#a76)"/>
<rect x="49" y="168" width="284" height="2" fill="url(#a77)"/>
<rect x="49" y="170" width="284" height="2" fill="url(#a78)"/>
<rect x="49" y="172" width="284" height="2" fill="url(#a79)"/>
<rect x="49" y="174" width="284" height="2" fill="url(#a80)"/>
<rect x="49" y="176" width="284" height="2" fill="url(#a81)"/>
<rect x="49" y="178" width="284" height="2" fill="url(#a82)"/>
<rect x="49" y="180" width="284" height="2" fill="url(#a83)"/>
<rect x="49" y="182" width="284" height="2" fill="url(#a84)"/>
<rect x="49" y="184" width="284" height="2" fill="url(#a85)"/>
<rect x="49" y="186" width="284" height="2" fill="url(#a86)"/>
<rect x="49" y="188" width="284" height="2" fill="url(#a87)"/>
<rect x="49" y="190" width="284" height="2" fill="url(#a88)"/>
<rect x="49" y="192" width="284" height="2" fill="url(#a89)"/>
<rect x="49" y="194" width="284" height="2" fill="url(#a90)"/>
<rect x="49" y="196" width="284" height="2" fill="url(#a91)"/>
<rect x="49" y="198" width="284" height="2" fill="url(#a92)"/>
<rect x="49" y="200" width="284" height="2" fill="url(#a93)"/>
<rect x="49" y="202" width="284" height="2" fill="url(#a94)"/>
<rect x="49" y="204" width="284" height="2" fill="url(#a95)"/>
<rect x="49" y="206" width="284" height="2" fill="url(#a96)"/>
<rect x="49" y="208" width="284" height="2" fill="url(#a97)"/>
<rect x="49" y="210" width="284" height="2" fill="url(#a98)"/>
<rect x="49" y="212" width="284" height="2" fill="url(#a99)"/>
<rect x="49" y="214" width="284" height="2" fill="url(#a100)"/>
<rect x="49" y="216" width="284" height="2" fill="url(#a101)"/>
<rect x="49" y="218" width="284" height="2" fill="url(#a102)"/>
<rect x="49" y="220" width="284" height="2" fill="url(#a103)"/>
<rect x="49" y="222" width="284" height="2" fill="url(#a104)"/>
<rect x="49" y="224" width="284" height="2" fill="url(#a105)"/>
<rect x="49" y="226" width="284" height="2" fill="url(#a106)"/>
<rect x="49" y="228" width="284" height="2" fill="url(#a107)"/>
<rect x="49" y="230" width="284" height="2" fill="url(#a108)"/>
<rect x="49" y="232" width="284" height="2" fill="url(#a109)"/>
<rect x="49" y="234" width="284" height="2" fill="url(#a110)"/>
<rect x="49" y="236" width="284" height="2" fill="url(#a111)"/>
<rect x="49" y="238" width="284" height="2" fill="url(#a112)"/>
<rect x="49" y="240" width="284" height="2" fill="url(#a113)"/>
<rect x="49" y="242" width="284" height="2" fill="url(#a114)"/>
<rect x="49" y="244" width="284" height="2" fill="url(#a115)"/>
<rect x="49" y="246" width="284" height="2" fill="url(#a116)"/>
<rect x="49" y="248" width="284" height="2" fill="url(#a117)"/>
<rect x="49" y="250" width="284" height="2" fill="url(#a118)"/>
<rect x="49" y="252" width="284" height="2" fill="url(#a119)"/>
<rect x="49" y="254" width="284" height="2" fill="url(#a120)"/>
<rect x="49" y="256" width="284" height="2" fill="url(#a121)"/>
<rect x="49" y="258" width="284" height="2" fill="url(#a122)"/>
<rect x="49" y="260" width="284" height="2" fill="url(#a123)"/>
<rect x="49" y="262" width="284" height="2" fill="url(#a124)"/>
<rect x="49" y="264" width="284" height="2" fill="url(#a125)"/>
<rect x="49" y="266" width="284" height="2" fill="url(#a126)"/>
<rect x="49" y="268" width="284" height="2" fill="url(#a127)"/>
<rect x="49" y="270" width="284" height="2" fill="url(#a128)"/>
<rect x="49" y="272" width="284" height="2" fill="url(#a129)"/>
<rect x="49" y="274" width="284" height="2" fill="url(#a130)"/>
<rect x="49" y="276" width="284" height="2" fill="url(#a131)"/>
<rect x="49" y="278" width="284" height="2" fill="url(#a132)"/>
<rect x="49" y="280" width="284" height="2" fill="url(#a133)"/>
<rect x="49" y="282" width="284" height="2" fill="url(#a134)"/>
<rect x="49" y="284" width="284" height="2" fill="url(#a135)"/>
<rect x="49" y="286" width="284" height="2" fill="url(#a136)"/>
<rect x="49" y="288" width="284" height="2" fill="url(#a137)"/>
<rect x="49" y="290" width="284" height="2" fill="url(#a138)"/>
<rect x="49" y="292" width="284" height="2" fill="url(#a139)"/>
<rect x="49" y="294" width="284" height="2" fill="url(#a140)"/>
<rect x="49" y="296" width="284" height="2" fill="url(#a141)"/>
</g>
<path d="M157.77 297.7 158.81 296.59 160.57 294.71 161.8 293.4 163.39 291.72 164.8 290.24 166.24 288.73 167.79 287.11 169.12 285.73 170.79 284.02 172.03 282.74 173.78 280.96 174.97 279.75 176.77 277.93 177.95 276.76 179.77 274.95 180.96 273.77 182.76 272 184.02 270.78 185.76 269.1 187.13 267.78 188.75 266.23 190.28 264.79 191.75 263.42 193.49 261.8 194.74 260.65 196.74 258.83 197.87 257.81 199.73 256.15 201.23 254.82 202.73 253.51 204.68 251.83 205.84 250.83 207.72 249.25 209.41 247.84 210.71 246.77 212.71 245.14 214.33 243.85 215.71 242.77 217.7 241.22 219.48 239.86 220.81 238.87 222.69 237.48 224.69 236.03 226.33 234.88 227.76 233.88 229.68 232.57 231.68 231.25 233.67 229.96 235.38 228.89 237 227.9 238.67 226.9 240.66 225.74 242.66 224.62 244.65 223.55 246.65 222.51 248.65 221.51 250.64 220.56 252.64 219.65 254.64 218.78 256.71 217.93 259.3 216.93 261.62 216.1 263.62 215.43 265.62 214.82 268.61 213.99 270.61 213.49 273.13 212.94 275.6 212.47 278.6 212.01 280.59 211.76 283.59 211.49 286.58 211.33 289.58 211.28 292.57 211.35 295.57 211.53 298.56 211.82 300.56 212.08 303.55 212.56 305.55 212.94 308.54 213.6 310.54 214.1 313.51 214.93 315.53 215.56 317.53 216.22 319.53 216.93 322.15 217.93 324.51 218.88 326.51 219.74 328.51 220.64 330.5 221.58 332.5 222.56" fill="none" stroke="#1c1c1c" stroke-width="0.7"/>
<path d="M79.81 297.7 80.94 295.75 81.94 294.02 82.94 292.29 83.94 290.55 84.98 288.73 86.12 286.73 87.25 284.74 88.38 282.74 89.51 280.75 90.63 278.75 91.75 276.76 92.86 274.76 93.92 272.85 94.92 271.05 95.92 269.24 96.92 267.42 97.91 265.6 98.91 263.76 99.98 261.8 101.05 259.81 102.13 257.81 103.19 255.82 104.25 253.82 105.31 251.83 106.36 249.84 107.41 247.84 108.44 245.85 109.48 243.85 110.51 241.86 111.53 239.86 112.54 237.87 113.55 235.87 114.56 233.88 115.55 231.89 116.54 229.89 117.53 227.9 118.5 225.9 119.47 223.91 120.43 221.91 121.39 219.92 122.34 217.93 123.28 215.93 124.21 213.94 125.14 211.94 126.06 209.95 126.97 207.95 127.87 205.96 128.86 203.75 129.86 201.49 130.86 199.22 131.82 196.98 132.68 194.99 133.52 193 134.36 191 135.19 189.01 136.01 187.01 136.85 184.94 137.84 182.44 138.79 180.03 139.56 178.04 140.33 176.04 141.08 174.05 141.84 172.01 142.83 169.27 143.62 167.07 144.33 165.07 145.02 163.08 145.83 160.69 146.69 158.09 147.34 156.1 147.98 154.11 148.82 151.38 149.51 149.12 150.1 147.13 150.82 144.65 151.53 142.14 152.07 140.15 152.82 137.33 153.37 135.16 153.87 133.16 154.59 130.17 155.05 128.18 155.71 125.19 156.13 123.19 156.73 120.2 157.12 118.21 157.67 115.22 158.01 113.22 158.5 110.23 158.81 108.21 159.23 105.24 159.62 102.25 159.86 100.26 160.19 97.27 160.47 94.27 160.72 91.28 160.87 89.29 161.06 86.3 161.2 83.31 161.31 80.31 161.38 77.32 161.41 74.33 161.4 71.34 161.35 68.35 161.26 65.36 161.13 62.36 160.96 59.37 160.8 57.07 160.59 54.39 160.32 51.4 160.01 48.4 159.77 46.41 159.4 43.42 158.98 40.43 158.68 38.43 158.21 35.44 157.81 33.12 157.33 30.45 156.81 27.78 156.34 25.47 155.81 22.96 155.26 20.48 154.8 18.49 154.08 15.5" fill="none" stroke="#1c1c1c" stroke-width="0.7"/>
<path d="M49 236.27 49.87 233.88 50.58 231.89 51.29 229.89 52 227.9 52.99 225.03 53.72 222.91 54.4 220.92 55.07 218.92 55.99 216.15 56.71 213.94 57.36 211.94 58 209.95 58.94 206.96 59.56 204.96 60.17 202.97 60.98 200.27 61.66 197.98 62.24 195.99 62.98 193.43 63.66 191 64.22 189.01 64.97 186.24 65.57 184.02 66.09 182.03 66.86 179.04 67.37 177.04 67.97 174.63 68.59 172.05 69.06 170.06 69.76 167.07 70.21 165.07 70.87 162.08 71.3 160.09 71.92 157.1 72.33 155.1 72.92 152.11 73.3 150.12 73.85 147.13 74.21 145.13 74.73 142.14 75.07 140.15 75.55 137.15 75.95 134.54 76.31 132.17 76.73 129.18 77 127.18 77.39 124.19 77.75 121.2 77.98 119.2 78.31 116.21 78.61 113.22 78.89 110.23 79.06 108.24 79.3 105.24 79.52 102.25 79.71 99.26 79.88 96.27 79.98 94.27 80.11 91.28 80.22 88.29 80.3 85.3 80.36 82.31 80.39 79.32 80.4 76.33 80.39 73.33 80.35 70.34 80.29 67.35 80.21 64.36 80.1 61.37 79.96 58.38 79.86 56.38 79.69 53.39 79.49 50.4 79.27 47.41 79.02 44.42 78.85 42.42 78.56 39.43 78.25 36.44 77.95 33.7 77.69 31.45 77.32 28.46 76.95 25.69 76.65 23.47 76.21 20.48 75.91 18.49 75.44 15.5" fill="none" stroke="#1c1c1c" stroke-width="0.7"/>
<rect x="49" y="14.5" width="283.5" height="283.2" fill="none" stroke="#000" stroke-opacity="0.55" stroke-width="0.9"/>
<path d="M42.5 297.7H49" stroke="#7a7a7a" stroke-width="1"/>
<text x="40" y="300.7" text-anchor="end" class="t">50</text>
<path d="M42.5 241.06H49" stroke="#7a7a7a" stroke-width="1"/>
<text x="40" y="244.06" text-anchor="end" class="t">60</text>
<path d="M42.5 184.42H49" stroke="#7a7a7a" stroke-width="1"/>
<text x="40" y="187.42" text-anchor="end" class="t">70</text>
<path d="M42.5 127.78H49" stroke="#7a7a7a" stroke-width="1"/>
<text x="40" y="130.78" text-anchor="end" class="t">80</text>
<path d="M42.5 71.14H49" stroke="#7a7a7a" stroke-width="1"/>
<text x="40" y="74.14" text-anchor="end" class="t">90</text>
<path d="M42.5 14.5H49" stroke="#7a7a7a" stroke-width="1"/>
<text x="40" y="17.5" text-anchor="end" class="t">100</text>
<path d="M49 297.7V304.7" stroke="#7a7a7a" stroke-width="1"/>
<text x="49" y="316.4" text-anchor="middle" class="t">20</text>
<path d="M119.88 297.7V304.7" stroke="#7a7a7a" stroke-width="1"/>
<text x="119.88" y="316.4" text-anchor="middle" class="t">30</text>
<path d="M190.75 297.7V304.7" stroke="#7a7a7a" stroke-width="1"/>
<text x="190.75" y="316.4" text-anchor="middle" class="t">40</text>
<path d="M261.62 297.7V304.7" stroke="#7a7a7a" stroke-width="1"/>
<text x="261.62" y="316.4" text-anchor="middle" class="t">50</text>
<path d="M332.5 297.7V304.7" stroke="#7a7a7a" stroke-width="1"/>
<text x="332.5" y="316.4" text-anchor="middle" class="t">60</text>
<rect x="70.7" y="128.7" width="10.6" height="6.2" fill="#fff" stroke="#333" stroke-width="0.7"/>
<text x="76" y="133.5" text-anchor="middle" class="l">700</text>
<rect x="136.3" y="167.4" width="10.6" height="6.2" fill="#fff" stroke="#333" stroke-width="0.7"/>
<text x="141.6" y="172.2" text-anchor="middle" class="l">600</text>
<rect x="224.7" y="226.6" width="10.6" height="6.2" fill="#fff" stroke="#333" stroke-width="0.7"/>
<text x="230" y="231.4" text-anchor="middle" class="l">500</text>
<circle cx="49" cy="14.5" r="2.7" fill="#c00000" stroke="#6b0000" stroke-width="0.6"/>
<circle cx="332.5" cy="14.5" r="2.7" fill="#c00000" stroke="#6b0000" stroke-width="0.6"/>
<circle cx="49" cy="297.7" r="2.7" fill="#c00000" stroke="#6b0000" stroke-width="0.6"/>
<circle cx="332.5" cy="297.7" r="2.7" fill="#c00000" stroke="#6b0000" stroke-width="0.6"/>
<text x="159.65" y="8.8" textLength="62" lengthAdjust="spacingAndGlyphs" style="font-size:12.4px" class="a">NoX (ppm)</text>
<text x="132.85" y="340.6" textLength="115" lengthAdjust="spacingAndGlyphs" class="a">B: AOME Blend (%)</text>
<text transform="translate(10.4 195.7) rotate(-90)" textLength="82.4" lengthAdjust="spacingAndGlyphs" class="a">C: CuO (ppm)</text>
<g shape-rendering="crispEdges">
<rect x="396" y="14" width="284" height="2" fill="url(#b0)"/>
<rect x="396" y="16" width="284" height="2" fill="url(#b1)"/>
<rect x="396" y="18" width="284" height="2" fill="url(#b2)"/>
<rect x="396" y="20" width="284" height="2" fill="url(#b3)"/>
<rect x="396" y="22" width="284" height="2" fill="url(#b4)"/>
<rect x="396" y="24" width="284" height="2" fill="url(#b5)"/>
<rect x="396" y="26" width="284" height="2" fill="url(#b6)"/>
<rect x="396" y="28" width="284" height="2" fill="url(#b7)"/>
<rect x="396" y="30" width="284" height="2" fill="url(#b8)"/>
<rect x="396" y="32" width="284" height="2" fill="url(#b9)"/>
<rect x="396" y="34" width="284" height="2" fill="url(#b10)"/>
<rect x="396" y="36" width="284" height="2" fill="url(#b11)"/>
<rect x="396" y="38" width="284" height="2" fill="url(#b12)"/>
<rect x="396" y="40" width="284" height="2" fill="url(#b13)"/>
<rect x="396" y="42" width="284" height="2" fill="url(#b14)"/>
<rect x="396" y="44" width="284" height="2" fill="url(#b15)"/>
<rect x="396" y="46" width="284" height="2" fill="url(#b16)"/>
<rect x="396" y="48" width="284" height="2" fill="url(#b17)"/>
<rect x="396" y="50" width="284" height="2" fill="url(#b18)"/>
<rect x="396" y="52" width="284" height="2" fill="url(#b19)"/>
<rect x="396" y="54" width="284" height="2" fill="url(#b20)"/>
<rect x="396" y="56" width="284" height="2" fill="url(#b21)"/>
<rect x="396" y="58" width="284" height="2" fill="url(#b22)"/>
<rect x="396" y="60" width="284" height="2" fill="url(#b23)"/>
<rect x="396" y="62" width="284" height="2" fill="url(#b24)"/>
<rect x="396" y="64" width="284" height="2" fill="url(#b25)"/>
<rect x="396" y="66" width="284" height="2" fill="url(#b26)"/>
<rect x="396" y="68" width="284" height="2" fill="url(#b27)"/>
<rect x="396" y="70" width="284" height="2" fill="url(#b28)"/>
<rect x="396" y="72" width="284" height="2" fill="url(#b29)"/>
<rect x="396" y="74" width="284" height="2" fill="url(#b30)"/>
<rect x="396" y="76" width="284" height="2" fill="url(#b31)"/>
<rect x="396" y="78" width="284" height="2" fill="url(#b32)"/>
<rect x="396" y="80" width="284" height="2" fill="url(#b33)"/>
<rect x="396" y="82" width="284" height="2" fill="url(#b34)"/>
<rect x="396" y="84" width="284" height="2" fill="url(#b35)"/>
<rect x="396" y="86" width="284" height="2" fill="url(#b36)"/>
<rect x="396" y="88" width="284" height="2" fill="url(#b37)"/>
<rect x="396" y="90" width="284" height="2" fill="url(#b38)"/>
<rect x="396" y="92" width="284" height="2" fill="url(#b39)"/>
<rect x="396" y="94" width="284" height="2" fill="url(#b40)"/>
<rect x="396" y="96" width="284" height="2" fill="url(#b41)"/>
<rect x="396" y="98" width="284" height="2" fill="url(#b42)"/>
<rect x="396" y="100" width="284" height="2" fill="url(#b43)"/>
<rect x="396" y="102" width="284" height="2" fill="url(#b44)"/>
<rect x="396" y="104" width="284" height="2" fill="url(#b45)"/>
<rect x="396" y="106" width="284" height="2" fill="url(#b46)"/>
<rect x="396" y="108" width="284" height="2" fill="url(#b47)"/>
<rect x="396" y="110" width="284" height="2" fill="url(#b48)"/>
<rect x="396" y="112" width="284" height="2" fill="url(#b49)"/>
<rect x="396" y="114" width="284" height="2" fill="url(#b50)"/>
<rect x="396" y="116" width="284" height="2" fill="url(#b51)"/>
<rect x="396" y="118" width="284" height="2" fill="url(#b52)"/>
<rect x="396" y="120" width="284" height="2" fill="url(#b53)"/>
<rect x="396" y="122" width="284" height="2" fill="url(#b54)"/>
<rect x="396" y="124" width="284" height="2" fill="url(#b55)"/>
<rect x="396" y="126" width="284" height="2" fill="url(#b56)"/>
<rect x="396" y="128" width="284" height="2" fill="url(#b57)"/>
<rect x="396" y="130" width="284" height="2" fill="url(#b58)"/>
<rect x="396" y="132" width="284" height="2" fill="url(#b59)"/>
<rect x="396" y="134" width="284" height="2" fill="url(#b60)"/>
<rect x="396" y="136" width="284" height="2" fill="url(#b61)"/>
<rect x="396" y="138" width="284" height="2" fill="url(#b62)"/>
<rect x="396" y="140" width="284" height="2" fill="url(#b63)"/>
<rect x="396" y="142" width="284" height="2" fill="url(#b64)"/>
<rect x="396" y="144" width="284" height="2" fill="url(#b65)"/>
<rect x="396" y="146" width="284" height="2" fill="url(#b66)"/>
<rect x="396" y="148" width="284" height="2" fill="url(#b67)"/>
<rect x="396" y="150" width="284" height="2" fill="url(#b68)"/>
<rect x="396" y="152" width="284" height="2" fill="url(#b69)"/>
<rect x="396" y="154" width="284" height="2" fill="url(#b70)"/>
<rect x="396" y="156" width="284" height="2" fill="url(#b71)"/>
<rect x="396" y="158" width="284" height="2" fill="url(#b72)"/>
<rect x="396" y="160" width="284" height="2" fill="url(#b73)"/>
<rect x="396" y="162" width="284" height="2" fill="url(#b74)"/>
<rect x="396" y="164" width="284" height="2" fill="url(#b75)"/>
<rect x="396" y="166" width="284" height="2" fill="url(#b76)"/>
<rect x="396" y="168" width="284" height="2" fill="url(#b77)"/>
<rect x="396" y="170" width="284" height="2" fill="url(#b78)"/>
<rect x="396" y="172" width="284" height="2" fill="url(#b79)"/>
<rect x="396" y="174" width="284" height="2" fill="url(#b80)"/>
<rect x="396" y="176" width="284" height="2" fill="url(#b81)"/>
<rect x="396" y="178" width="284" height="2" fill="url(#b82)"/>
<rect x="396" y="180" width="284" height="2" fill="url(#b83)"/>
<rect x="396" y="182" width="284" height="2" fill="url(#b84)"/>
<rect x="396" y="184" width="284" height="2" fill="url(#b85)"/>
<rect x="396" y="186" width="284" height="2" fill="url(#b86)"/>
<rect x="396" y="188" width="284" height="2" fill="url(#b87)"/>
<rect x="396" y="190" width="284" height="2" fill="url(#b88)"/>
<rect x="396" y="192" width="284" height="2" fill="url(#b89)"/>
<rect x="396" y="194" width="284" height="2" fill="url(#b90)"/>
<rect x="396" y="196" width="284" height="2" fill="url(#b91)"/>
<rect x="396" y="198" width="284" height="2" fill="url(#b92)"/>
<rect x="396" y="200" width="284" height="2" fill="url(#b93)"/>
<rect x="396" y="202" width="284" height="2" fill="url(#b94)"/>
<rect x="396" y="204" width="284" height="2" fill="url(#b95)"/>
<rect x="396" y="206" width="284" height="2" fill="url(#b96)"/>
<rect x="396" y="208" width="284" height="2" fill="url(#b97)"/>
<rect x="396" y="210" width="284" height="2" fill="url(#b98)"/>
<rect x="396" y="212" width="284" height="2" fill="url(#b99)"/>
<rect x="396" y="214" width="284" height="2" fill="url(#b100)"/>
<rect x="396" y="216" width="284" height="2" fill="url(#b101)"/>
<rect x="396" y="218" width="284" height="2" fill="url(#b102)"/>
<rect x="396" y="220" width="284" height="2" fill="url(#b103)"/>
<rect x="396" y="222" width="284" height="2" fill="url(#b104)"/>
<rect x="396" y="224" width="284" height="2" fill="url(#b105)"/>
<rect x="396" y="226" width="284" height="2" fill="url(#b106)"/>
<rect x="396" y="228" width="284" height="2" fill="url(#b107)"/>
<rect x="396" y="230" width="284" height="2" fill="url(#b108)"/>
<rect x="396" y="232" width="284" height="2" fill="url(#b109)"/>
<rect x="396" y="234" width="284" height="2" fill="url(#b110)"/>
<rect x="396" y="236" width="284" height="2" fill="url(#b111)"/>
<rect x="396" y="238" width="284" height="2" fill="url(#b112)"/>
<rect x="396" y="240" width="284" height="2" fill="url(#b113)"/>
<rect x="396" y="242" width="284" height="2" fill="url(#b114)"/>
<rect x="396" y="244" width="284" height="2" fill="url(#b115)"/>
<rect x="396" y="246" width="284" height="2" fill="url(#b116)"/>
<rect x="396" y="248" width="284" height="2" fill="url(#b117)"/>
<rect x="396" y="250" width="284" height="2" fill="url(#b118)"/>
<rect x="396" y="252" width="284" height="2" fill="url(#b119)"/>
<rect x="396" y="254" width="284" height="2" fill="url(#b120)"/>
<rect x="396" y="256" width="284" height="2" fill="url(#b121)"/>
<rect x="396" y="258" width="284" height="2" fill="url(#b122)"/>
<rect x="396" y="260" width="284" height="2" fill="url(#b123)"/>
<rect x="396" y="262" width="284" height="2" fill="url(#b124)"/>
<rect x="396" y="264" width="284" height="2" fill="url(#b125)"/>
<rect x="396" y="266" width="284" height="2" fill="url(#b126)"/>
<rect x="396" y="268" width="284" height="2" fill="url(#b127)"/>
<rect x="396" y="270" width="284" height="2" fill="url(#b128)"/>
<rect x="396" y="272" width="284" height="2" fill="url(#b129)"/>
<rect x="396" y="274" width="284" height="2" fill="url(#b130)"/>
<rect x="396" y="276" width="284" height="2" fill="url(#b131)"/>
<rect x="396" y="278" width="284" height="2" fill="url(#b132)"/>
<rect x="396" y="280" width="284" height="2" fill="url(#b133)"/>
<rect x="396" y="282" width="284" height="2" fill="url(#b134)"/>
<rect x="396" y="284" width="284" height="2" fill="url(#b135)"/>
<rect x="396" y="286" width="284" height="2" fill="url(#b136)"/>
<rect x="396" y="288" width="284" height="2" fill="url(#b137)"/>
<rect x="396" y="290" width="284" height="2" fill="url(#b138)"/>
<rect x="396" y="292" width="284" height="2" fill="url(#b139)"/>
<rect x="396" y="294" width="284" height="2" fill="url(#b140)"/>
<rect x="396" y="296" width="284" height="2" fill="url(#b141)"/>
</g>
<path d="M677.6 297.7 678.17 295.71 678.75 293.71 679.63 290.72" fill="none" stroke="#1c1c1c" stroke-width="0.7"/>
<path d="M401.37 14.5 401.16 17.49 400.99 19.77 400.8 22.48 400.57 25.47 400.34 28.46 400.11 31.45 399.95 33.45 399.7 36.44 399.45 39.43 399.19 42.42 399 44.66 398.75 47.41 398.48 50.4 398.2 53.39 398 55.45 397.71 58.38 397.42 61.37 397.11 64.36 396.9 66.35 396.59 69.35 396.26 72.34 396 74.74" fill="none" stroke="#1c1c1c" stroke-width="0.7"/>
<path d="M639.49 297.7 640.05 295.71 640.74 293.26 641.47 290.72 642.05 288.73 642.74 286.37 643.52 283.74 644.12 281.75 644.74 279.72 645.64 276.76 646.26 274.76 646.89 272.77 647.73 270.11 648.48 267.78 649.12 265.79 649.78 263.8 650.73 260.9 651.43 258.81 652.1 256.82 652.78 254.82 653.73 252.05 654.49 249.84 655.19 247.84 655.89 245.85 656.72 243.51 657.68 240.86 658.4 238.87 659.13 236.87 659.86 234.88 660.72 232.57 661.72 229.9 662.47 227.9 663.23 225.9 664 223.91 664.77 221.91 665.71 219.48 666.71 216.94 667.51 214.93 668.3 212.94 669.1 210.95 669.91 208.95 670.72 206.96 671.71 204.54 672.71 202.12 673.6 199.98 674.43 197.98 675.27 195.99 676.12 193.99 676.97 192 677.82 190 678.7 187.97 679.7 185.67" fill="none" stroke="#1c1c1c" stroke-width="0.7"/>
<path d="M431.55 14.5 431.47 17.49 431.39 20.48 431.3 23.47 431.2 26.47 431.1 29.46 430.99 32.45 430.92 34.44 430.8 37.44 430.68 40.43 430.55 43.42 430.41 46.41 430.27 49.4 430.12 52.39 429.96 55.34 429.85 57.38 429.69 60.37 429.51 63.36 429.33 66.35 429.15 69.35 428.97 72.11 428.82 74.33 428.61 77.32 428.4 80.31 428.17 83.31 427.97 86.01 427.79 88.29 427.55 91.28 427.29 94.27 427.04 97.27 426.86 99.26 426.59 102.25 426.31 105.24 426.02 108.24 425.82 110.23 425.52 113.22 425.21 116.21 424.97 118.43 424.67 121.2 424.33 124.19 423.99 127.18 423.75 129.18 423.39 132.17 423.02 135.16 422.77 137.15 422.39 140.15 421.99 143.14 421.72 145.13 421.31 148.12 420.97 150.52 420.6 153.11 420.16 156.1 419.87 158.09 419.41 161.09 418.98 163.88 418.63 166.07 418.14 169.06 417.81 171.06 417.31 174.05 416.97 176.04 416.45 179.04 415.98 181.7 415.56 184.02 415.01 187.01 414.64 189.01 414.07 192 413.68 193.99 413.09 196.98 412.69 198.98 412.08 201.97 411.67 203.96 411.04 206.96 410.62 208.95 409.99 211.88 409.53 213.94 408.99 216.38 408.41 218.92 407.95 220.92 407.26 223.91 406.79 225.9 406.07 228.89 405.58 230.89 404.99 233.29 404.35 235.87 403.84 237.87 403.07 240.86 402.55 242.85 401.99 244.98 401.23 247.84 400.69 249.84 400 252.38 399.32 254.82 398.76 256.82 398 259.5 397.34 261.8 396.76 263.8 396 266.38" fill="none" stroke="#1c1c1c" stroke-width="0.7"/>
<path d="M583.09 297.7 583.8 294.96 584.39 292.71 584.93 290.72 585.76 287.73 586.32 285.73 586.89 283.74 587.77 280.75 588.37 278.75 588.98 276.76 589.8 274.16 590.55 271.77 591.2 269.78 591.86 267.78 592.79 265.01 593.55 262.8 594.24 260.8 594.95 258.81 595.79 256.46 596.75 253.82 597.49 251.83 598.24 249.84 599 247.84 599.78 245.81 600.78 243.26 601.74 240.86 602.54 238.87 603.36 236.87 604.18 234.88 605.01 232.88 605.86 230.89 606.78 228.74 607.78 226.43 608.78 224.15 609.77 221.91 610.66 219.92 611.56 217.93 612.47 215.93 613.39 213.94 614.32 211.94 615.25 209.95 616.2 207.95 617.15 205.96 618.11 203.96 619.08 201.97 620.06 199.98 621.04 197.98 622.03 195.99 623.03 193.99 624.04 192 625.06 190 626.08 188.01 627.11 186.02 628.14 184.02 629.19 182.03 630.23 180.03 631.29 178.04 632.35 176.04 633.42 174.05 634.5 172.05 635.58 170.06 636.67 168.07 637.74 166.11 638.74 164.3 639.74 162.49 640.74 160.7 641.74 158.91 642.76 157.1 643.88 155.1 645.01 153.11 646.15 151.11 647.29 149.12 648.44 147.13 649.59 145.13 650.73 143.17 651.73 141.45 652.73 139.74 653.73 138.04 654.83 136.16 656.01 134.16 657.19 132.17 658.38 130.17 659.57 128.18 660.72 126.26 661.72 124.6 662.72 122.94 663.77 121.2 664.98 119.2 666.19 117.21 667.41 115.22 668.63 113.22 669.71 111.46 670.71 109.84 671.71 108.22 672.93 106.24 674.17 104.25 675.41 102.25 676.65 100.26 677.7 98.58 678.7 96.99" fill="none" stroke="#1c1c1c" stroke-width="0.7"/>
<path d="M468.47 14.5 468.63 17.49 468.79 20.48 468.92 23.19 469.04 25.47 469.18 28.46 469.33 31.45 469.46 34.44 469.6 37.44 469.73 40.43 469.85 43.42 469.93 45.41 470.05 48.4 470.17 51.4 470.27 54.39 470.38 57.38 470.48 60.37 470.57 63.36 470.66 66.35 470.74 69.35 470.82 72.34 470.89 75.33 470.93 77.32 471 80.31 471.05 83.31 471.1 86.3 471.14 89.29 471.18 92.28 471.21 95.27 471.23 98.26 471.25 101.25 471.25 104.25 471.25 107.24 471.25 110.23 471.23 113.22 471.21 116.21 471.17 119.2 471.13 122.2 471.08 125.19 471.02 128.18 470.95 131.17 470.9 133.16 470.81 136.16 470.72 139.15 470.61 142.14 470.49 145.13 470.36 148.12 470.22 151.11 470.07 154.11 469.92 156.83 469.79 159.09 469.61 162.08 469.41 165.07 469.2 168.07 468.97 171.06 468.82 173.05 468.57 176.04 468.31 179.04 468.03 182.03 467.83 184.02 467.53 187.01 467.21 190 466.93 192.58 466.65 194.99 466.28 197.98 465.93 200.78 465.64 202.97 465.23 205.96 464.93 208.08 464.51 210.95 464.05 213.94 463.73 215.93 463.24 218.92 462.9 220.92 462.38 223.91 461.93 226.35 461.46 228.89 460.93 231.6 460.48 233.88 459.93 236.53 459.44 238.87 458.93 241.2 458.34 243.85 457.89 245.85 457.19 248.84 456.7 250.83 455.96 253.82 455.46 255.82 454.94 257.82 454.15 260.8 453.6 262.8 452.94 265.18 452.2 267.78 451.62 269.78 450.94 272.08 450.13 274.76 449.52 276.76 448.89 278.75 447.95 281.7 447.28 283.74 446.62 285.73 445.94 287.73 444.95 290.62 444.22 292.71 443.51 294.71 442.79 296.7" fill="none" stroke="#1c1c1c" stroke-width="0.7"/>
<path d="M520.99 14.5 521.87 17.44 522.49 19.49 523.1 21.48 523.86 23.9 524.69 26.47 525.35 28.46 526.02 30.45 526.86 32.93 527.75 35.44 528.47 37.44 529.2 39.43 529.96 41.42 530.86 43.74 531.86 46.23 532.76 48.4 533.61 50.4 534.48 52.39 535.39 54.39 536.33 56.38 537.3 58.38 538.31 60.37 539.36 62.36 540.45 64.36 541.6 66.35 542.8 68.35 543.84 69.99 544.84 71.5 546.13 73.33 547.61 75.33 548.84 76.87 550.07 78.32 551.84 80.25 552.88 81.31 554.83 83.12 556.25 84.3 557.83 85.52 559.83 86.86 561.82 88.03 563.82 89.01 565.82 89.83 567.82 90.5 570.82 91.21 572.81 91.51 575.81 91.72 578.81 91.66 581.8 91.35 583.8 91.01 586.8 90.32 588.8 89.76 590.79 89.1 592.98 88.29 595.39 87.29 597.59 86.3 599.63 85.3 601.54 84.3 603.35 83.31 605.09 82.31 606.78 81.3 608.78 80.05 610.77 78.76 612.77 77.41 614.33 76.33 615.77 75.31 617.77 73.85 619.76 72.35 621.08 71.34 622.76 70.03 624.76 68.44 626.1 67.35 627.75 65.99 629.7 64.36 630.87 63.36 632.75 61.74 634.31 60.37 635.75 59.1 637.67 57.38 638.77 56.38 640.74 54.57 642.01 53.39 643.74 51.78 645.19 50.4 646.73 48.93 648.31 47.41 649.73 46.03 651.38 44.42 652.73 43.09 654.4 41.42 655.73 40.1 657.38 38.43 658.72 37.07 660.32 35.44 661.72 34.01 663.23 32.45 664.72 30.9 666.1 29.46 667.71 27.76 668.94 26.47 670.71 24.59 671.76 23.47 673.62 21.48 674.71 20.31 676.39 18.49 677.7 17.07 679.14 15.5" fill="none" stroke="#1c1c1c" stroke-width="0.7"/>
<rect x="396" y="14.5" width="283.7" height="283.2" fill="none" stroke="#000" stroke-opacity="0.55" stroke-width="0.9"/>
<path d="M389.5 297.7H396" stroke="#7a7a7a" stroke-width="1"/>
<text x="387" y="300.7" text-anchor="end" class="t">50</text>
<path d="M389.5 241.06H396" stroke="#7a7a7a" stroke-width="1"/>
<text x="387" y="244.06" text-anchor="end" class="t">60</text>
<path d="M389.5 184.42H396" stroke="#7a7a7a" stroke-width="1"/>
<text x="387" y="187.42" text-anchor="end" class="t">70</text>
<path d="M389.5 127.78H396" stroke="#7a7a7a" stroke-width="1"/>
<text x="387" y="130.78" text-anchor="end" class="t">80</text>
<path d="M389.5 71.14H396" stroke="#7a7a7a" stroke-width="1"/>
<text x="387" y="74.14" text-anchor="end" class="t">90</text>
<path d="M389.5 14.5H396" stroke="#7a7a7a" stroke-width="1"/>
<text x="387" y="17.5" text-anchor="end" class="t">100</text>
<path d="M396 297.7V304.7" stroke="#7a7a7a" stroke-width="1"/>
<text x="396" y="316.4" text-anchor="middle" class="t">20</text>
<path d="M466.93 297.7V304.7" stroke="#7a7a7a" stroke-width="1"/>
<text x="466.93" y="316.4" text-anchor="middle" class="t">30</text>
<path d="M537.85 297.7V304.7" stroke="#7a7a7a" stroke-width="1"/>
<text x="537.85" y="316.4" text-anchor="middle" class="t">40</text>
<path d="M608.78 297.7V304.7" stroke="#7a7a7a" stroke-width="1"/>
<text x="608.78" y="316.4" text-anchor="middle" class="t">50</text>
<path d="M679.7 297.7V304.7" stroke="#7a7a7a" stroke-width="1"/>
<text x="679.7" y="316.4" text-anchor="middle" class="t">60</text>
<rect x="416.2" y="142.7" width="10.6" height="6.2" fill="#fff" stroke="#333" stroke-width="0.7"/>
<text x="421.5" y="147.5" text-anchor="middle" class="l">550</text>
<rect x="464.5" y="160.6" width="10.6" height="6.2" fill="#fff" stroke="#333" stroke-width="0.7"/>
<text x="469.8" y="165.4" text-anchor="middle" class="l">600</text>
<rect x="589.4" y="82.6" width="10.6" height="6.2" fill="#fff" stroke="#333" stroke-width="0.7"/>
<text x="594.7" y="87.4" text-anchor="middle" class="l">650</text>
<rect x="621.3" y="182.4" width="10.6" height="6.2" fill="#fff" stroke="#333" stroke-width="0.7"/>
<text x="626.6" y="187.2" text-anchor="middle" class="l">600</text>
<rect x="653.5" y="234.9" width="10.6" height="6.2" fill="#fff" stroke="#333" stroke-width="0.7"/>
<text x="658.8" y="239.7" text-anchor="middle" class="l">550</text>
<circle cx="396" cy="14.5" r="2.7" fill="#c00000" stroke="#6b0000" stroke-width="0.6"/>
<circle cx="679.7" cy="14.5" r="2.7" fill="#c00000" stroke="#6b0000" stroke-width="0.6"/>
<circle cx="396" cy="297.7" r="2.7" fill="#c00000" stroke="#6b0000" stroke-width="0.6"/>
<circle cx="679.7" cy="297.7" r="2.7" fill="#c00000" stroke="#6b0000" stroke-width="0.6"/>
<circle cx="537.85" cy="156.1" r="2.7" fill="#c00000" stroke="#6b0000" stroke-width="0.6"/>
<text x="506.75" y="8.8" textLength="62" lengthAdjust="spacingAndGlyphs" style="font-size:12.4px" class="a">NoX (ppm)</text>
<text x="479.95" y="340.6" textLength="115" lengthAdjust="spacingAndGlyphs" class="a">B: AOME Blend (%)</text>
<text transform="translate(357.4 195.7) rotate(-90)" textLength="82.4" lengthAdjust="spacingAndGlyphs" class="a">C: CuO (ppm)</text>
<text x="113.3" y="390" text-anchor="middle" class="s">(a)</text>
<text x="601.9" y="389.9" text-anchor="middle" class="s">(b)</text>
</svg>
</body></html>
